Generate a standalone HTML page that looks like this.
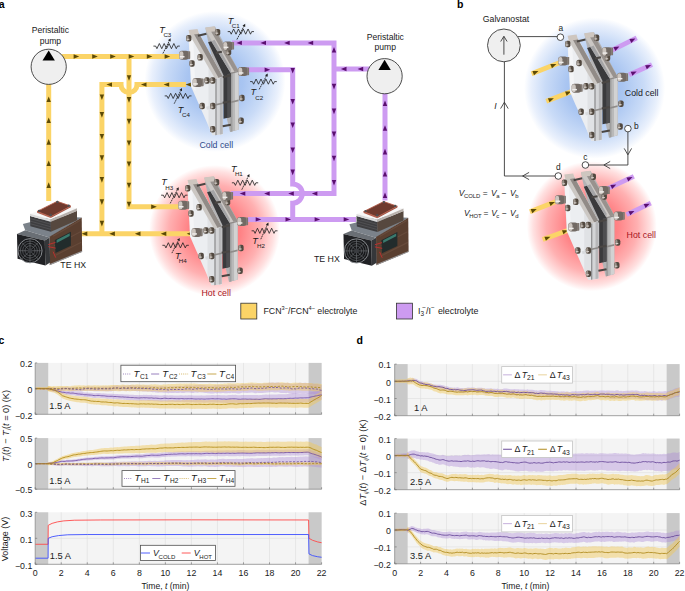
<!DOCTYPE html>
<html><head><meta charset="utf-8"><title>figure</title>
<style>
html,body{margin:0;padding:0;background:#fff;width:685px;height:591px;overflow:hidden}
svg{display:block;font-family:"Liberation Sans",sans-serif}
</style></head><body>
<svg width="685" height="591" viewBox="0 0 685 591">
<rect width="685" height="591" fill="#fff"/>

<defs>
<radialGradient id="gBlue" cx="0.5" cy="0.5" r="0.5">
 <stop offset="0" stop-color="#98b9ef"/>
 <stop offset="0.4" stop-color="#a9c5f1"/>
 <stop offset="0.7" stop-color="#c9dbf7"/>
 <stop offset="0.9" stop-color="#e9f0fc"/>
 <stop offset="1" stop-color="#ffffff"/>
</radialGradient>
<radialGradient id="gRed" cx="0.5" cy="0.5" r="0.5">
 <stop offset="0" stop-color="#ff6a6e"/>
 <stop offset="0.4" stop-color="#ff8386"/>
 <stop offset="0.7" stop-color="#ffb0b1"/>
 <stop offset="0.9" stop-color="#ffe0e0"/>
 <stop offset="1" stop-color="#ffffff"/>
</radialGradient>
</defs>

<text x="-1.2" y="7.9" font-size="10.5" font-weight="bold" fill="#000">a</text>
<circle cx="215" cy="81.5" r="70.5" fill="url(#gBlue)"/>
<circle cx="214.6" cy="230.6" r="65.5" fill="url(#gRed)"/>
<path d="M60 56.5H186" stroke="#fbd467" fill="none" stroke-width="5" stroke-linejoin="miter" stroke-linecap="butt"/>
<path d="M129 56.5V206.8H182" stroke="#fbd467" fill="none" stroke-width="5" stroke-linejoin="miter" stroke-linecap="butt"/>
<path d="M186 84.6H137A8 8 0 0 1 121 84.6H101.9V233.8" stroke="#fbd467" fill="none" stroke-width="5" stroke-linejoin="miter" stroke-linecap="butt"/>
<path d="M191 233.8H80" stroke="#fbd467" fill="none" stroke-width="5" stroke-linejoin="miter" stroke-linecap="butt"/>
<path d="M48.7 201V80" stroke="#fbd467" fill="none" stroke-width="5" stroke-linejoin="miter" stroke-linecap="butt"/>
<path d="M232 42.9H334V193.6H231" stroke="#cd9bf1" fill="none" stroke-width="5" stroke-linejoin="miter" stroke-linecap="butt"/>
<path d="M370 69H334" stroke="#cd9bf1" fill="none" stroke-width="5" stroke-linejoin="miter" stroke-linecap="butt"/>
<path d="M246 69.8H292.7V184A9.6 9.6 0 0 1 292.7 203.2V219.4" stroke="#cd9bf1" fill="none" stroke-width="5" stroke-linejoin="miter" stroke-linecap="butt"/>
<path d="M248 219.4H356" stroke="#cd9bf1" fill="none" stroke-width="5" stroke-linejoin="miter" stroke-linecap="butt"/>
<path d="M385 90V200.5" stroke="#cd9bf1" fill="none" stroke-width="5" stroke-linejoin="miter" stroke-linecap="butt"/>
<path d="M79.2 56.5L73.6 54.3L73.6 58.7Z" fill="#5c4a06"/>
<path d="M97.8 56.5L92.2 54.3L92.2 58.7Z" fill="#5c4a06"/>
<path d="M115.8 56.5L110.2 54.3L110.2 58.7Z" fill="#5c4a06"/>
<path d="M134.3 56.5L128.7 54.3L128.7 58.7Z" fill="#5c4a06"/>
<path d="M152.4 56.5L146.8 54.3L146.8 58.7Z" fill="#5c4a06"/>
<path d="M170.2 56.5L164.6 54.3L164.6 58.7Z" fill="#5c4a06"/>
<path d="M129 80.8L131.2 75.2L126.8 75.2Z" fill="#5c4a06"/>
<path d="M129 102.7L131.2 97.1L126.8 97.1Z" fill="#5c4a06"/>
<path d="M129 124.4L131.2 118.8L126.8 118.8Z" fill="#5c4a06"/>
<path d="M129 146.1L131.2 140.5L126.8 140.5Z" fill="#5c4a06"/>
<path d="M129 167L131.2 161.4L126.8 161.4Z" fill="#5c4a06"/>
<path d="M129 188.3L131.2 182.7L126.8 182.7Z" fill="#5c4a06"/>
<path d="M129 207.3L131.2 201.7L126.8 201.7Z" fill="#5c4a06"/>
<path d="M156.8 206.8L151.2 204.6L151.2 209Z" fill="#5c4a06"/>
<path d="M185.6 84.6L191.2 86.8L191.2 82.4Z" fill="#5c4a06"/>
<path d="M163.6 84.6L169.2 86.8L169.2 82.4Z" fill="#5c4a06"/>
<path d="M140.9 84.6L146.5 86.8L146.5 82.4Z" fill="#5c4a06"/>
<path d="M106.4 84.6L112 86.8L112 82.4Z" fill="#5c4a06"/>
<path d="M101.9 100.1L104.1 94.5L99.7 94.5Z" fill="#5c4a06"/>
<path d="M101.9 117.7L104.1 112.1L99.7 112.1Z" fill="#5c4a06"/>
<path d="M101.9 139.6L104.1 134L99.7 134Z" fill="#5c4a06"/>
<path d="M101.9 160.9L104.1 155.3L99.7 155.3Z" fill="#5c4a06"/>
<path d="M101.9 182.7L104.1 177.1L99.7 177.1Z" fill="#5c4a06"/>
<path d="M101.9 204.9L104.1 199.3L99.7 199.3Z" fill="#5c4a06"/>
<path d="M101.9 226.4L104.1 220.8L99.7 220.8Z" fill="#5c4a06"/>
<path d="M81.7 233.8L87.3 236L87.3 231.6Z" fill="#5c4a06"/>
<path d="M109.3 233.8L114.9 236L114.9 231.6Z" fill="#5c4a06"/>
<path d="M134.9 233.8L140.5 236L140.5 231.6Z" fill="#5c4a06"/>
<path d="M160.7 233.8L166.3 236L166.3 231.6Z" fill="#5c4a06"/>
<path d="M186.7 233.8L192.3 236L192.3 231.6Z" fill="#5c4a06"/>
<path d="M48.7 96.5L46.5 102.1L50.9 102.1Z" fill="#5c4a06"/>
<path d="M48.7 117.4L46.5 123L50.9 123Z" fill="#5c4a06"/>
<path d="M48.7 139.1L46.5 144.7L50.9 144.7Z" fill="#5c4a06"/>
<path d="M48.7 160.4L46.5 166L50.9 166Z" fill="#5c4a06"/>
<path d="M48.7 182.3L46.5 187.9L50.9 187.9Z" fill="#5c4a06"/>
<path d="M236.3 42.9L241.9 45.1L241.9 40.7Z" fill="#5b0f70"/>
<path d="M260.4 42.9L266 45.1L266 40.7Z" fill="#5b0f70"/>
<path d="M284.1 42.9L289.7 45.1L289.7 40.7Z" fill="#5b0f70"/>
<path d="M307.6 42.9L313.2 45.1L313.2 40.7Z" fill="#5b0f70"/>
<path d="M334 46.9L331.8 52.5L336.2 52.5Z" fill="#5b0f70"/>
<path d="M334 89.4L336.2 83.8L331.8 83.8Z" fill="#5b0f70"/>
<path d="M334 114.2L336.2 108.6L331.8 108.6Z" fill="#5b0f70"/>
<path d="M334 137.2L336.2 131.6L331.8 131.6Z" fill="#5b0f70"/>
<path d="M334 161.3L336.2 155.7L331.8 155.7Z" fill="#5b0f70"/>
<path d="M334 185.5L336.2 179.9L331.8 179.9Z" fill="#5b0f70"/>
<path d="M311.8 193.6L317.4 195.8L317.4 191.4Z" fill="#5b0f70"/>
<path d="M288.2 193.6L293.8 195.8L293.8 191.4Z" fill="#5b0f70"/>
<path d="M264.1 193.6L269.7 195.8L269.7 191.4Z" fill="#5b0f70"/>
<path d="M239.7 193.6L245.3 195.8L245.3 191.4Z" fill="#5b0f70"/>
<path d="M340.9 69L346.5 71.2L346.5 66.8Z" fill="#5b0f70"/>
<path d="M357.6 69L363.2 71.2L363.2 66.8Z" fill="#5b0f70"/>
<path d="M270.2 69.8L264.6 67.6L264.6 72Z" fill="#5b0f70"/>
<path d="M292.7 73.6L294.9 68L290.5 68Z" fill="#5b0f70"/>
<path d="M292.7 104.6L294.9 99L290.5 99Z" fill="#5b0f70"/>
<path d="M292.7 128.1L294.9 122.5L290.5 122.5Z" fill="#5b0f70"/>
<path d="M292.7 153L294.9 147.4L290.5 147.4Z" fill="#5b0f70"/>
<path d="M292.7 175.2L294.9 169.6L290.5 169.6Z" fill="#5b0f70"/>
<path d="M261.3 219.4L255.7 217.2L255.7 221.6Z" fill="#5b0f70"/>
<path d="M291.1 219.4L285.5 217.2L285.5 221.6Z" fill="#5b0f70"/>
<path d="M320.2 219.4L314.6 217.2L314.6 221.6Z" fill="#5b0f70"/>
<path d="M349.3 219.4L343.7 217.2L343.7 221.6Z" fill="#5b0f70"/>
<path d="M385 100.4L382.8 106L387.2 106Z" fill="#5b0f70"/>
<path d="M385 125.2L382.8 130.8L387.2 130.8Z" fill="#5b0f70"/>
<path d="M385 148.8L382.8 154.4L387.2 154.4Z" fill="#5b0f70"/>
<path d="M385 171L382.8 176.6L387.2 176.6Z" fill="#5b0f70"/>
<path d="M385 192.5L382.8 198.1L387.2 198.1Z" fill="#5b0f70"/>
<circle cx="48.7" cy="66.8" r="17.6" fill="#efefef" stroke="#3a3a3a" stroke-width="0.9"/><path d="M48.7 50.4L54.9 60.5L42.5 60.5Z" fill="#000"/>
<circle cx="384.6" cy="76.2" r="17.6" fill="#efefef" stroke="#3a3a3a" stroke-width="0.9"/><path d="M384.6 59.8L390.8 69.9L378.4 69.9Z" fill="#000"/>
<text x="50.4" y="33.2" font-size="8.6" text-anchor="middle" fill="#1a1a1a">Peristaltic</text>
<text x="50.4" y="43.6" font-size="8.6" text-anchor="middle" fill="#1a1a1a">pump</text>
<text x="385.3" y="39.8" font-size="8.6" text-anchor="middle" fill="#1a1a1a">Peristaltic</text>
<text x="385.3" y="50.2" font-size="8.6" text-anchor="middle" fill="#1a1a1a">pump</text>
<g transform="translate(14 196) scale(0.11844)"><path d="M75 236L330 170L572 182L300 350L95 290Z" fill="#7b828a"/><path d="M300 345L572 182L575 470L302 582Z" fill="#5a3f30"/><path d="M330 340L560 205M340 420L565 300M350 500L568 390" stroke="#6d5040" stroke-width="10" opacity="0.7"/><path d="M302 574L575 462L575 472L302 584Z" fill="#9a9a9c"/><path d="M135 168L310 218L312 302L138 256Z" fill="#3e3e40"/><path d="M137 190L311 238M137 212L311 260M137 234L312 282" stroke="#58585a" stroke-width="6"/><path d="M310 218L532 125L532 205L312 302Z" fill="#56483f"/><path d="M135 150L358 76L532 104L310 198Z" fill="#f7f7f7"/><path d="M135 150L310 198L310 218L135 168Z" fill="#dadada"/><path d="M310 198L532 104L532 126L310 218Z" fill="#b9b2ad"/><path d="M195 130L310 175L310 186L195 141Z" fill="#b4604d"/><path d="M310 175L480 85L480 96L310 186Z" fill="#9c4f3f"/><path d="M195 130L365 45L480 85L310 175Z" fill="#6f3a2e" stroke="#b8604c" stroke-width="7"/><circle cx="212" cy="126" r="10" fill="#4d5054"/><circle cx="366" cy="50" r="10" fill="#4d5054"/><circle cx="462" cy="82" r="10" fill="#4d5054"/><circle cx="310" cy="160" r="10" fill="#4d5054"/><path d="M25 320L95 290L300 350L260 375Z" fill="#6a6f75"/><path d="M260 375L300 350L305 562L265 587Z" fill="#35373a"/><path d="M25 320L260 375L265 587L30 530Z" fill="#202124"/><circle cx="135" cy="462" r="102" fill="#161719" stroke="#8e9195" stroke-width="8"/><circle cx="135" cy="462" r="82" fill="none" stroke="#6f7277" stroke-width="5"/><circle cx="135" cy="462" r="62" fill="none" stroke="#6f7277" stroke-width="5"/><circle cx="135" cy="462" r="42" fill="none" stroke="#6f7277" stroke-width="5"/><path d="M135 360V564M33 462H237M63 390L207 534M207 390L63 534" stroke="#74777b" stroke-width="5"/><circle cx="135" cy="462" r="20" fill="#3a3c40"/><path d="M345 372L480 302L480 420L350 482Z" fill="#222c2c"/><path d="M360 372L470 314L470 338L360 396Z" fill="#3a7a6e"/><path d="M290 410L350 392M290 428L352 440M330 470L352 520" stroke="#c03030" stroke-width="8" fill="none"/></g>
<g transform="translate(340.5 196.2) scale(0.11844)"><path d="M75 236L330 170L572 182L300 350L95 290Z" fill="#7b828a"/><path d="M300 345L572 182L575 470L302 582Z" fill="#5a3f30"/><path d="M330 340L560 205M340 420L565 300M350 500L568 390" stroke="#6d5040" stroke-width="10" opacity="0.7"/><path d="M302 574L575 462L575 472L302 584Z" fill="#9a9a9c"/><path d="M135 168L310 218L312 302L138 256Z" fill="#3e3e40"/><path d="M137 190L311 238M137 212L311 260M137 234L312 282" stroke="#58585a" stroke-width="6"/><path d="M310 218L532 125L532 205L312 302Z" fill="#56483f"/><path d="M135 150L358 76L532 104L310 198Z" fill="#f7f7f7"/><path d="M135 150L310 198L310 218L135 168Z" fill="#dadada"/><path d="M310 198L532 104L532 126L310 218Z" fill="#b9b2ad"/><path d="M195 130L310 175L310 186L195 141Z" fill="#b4604d"/><path d="M310 175L480 85L480 96L310 186Z" fill="#9c4f3f"/><path d="M195 130L365 45L480 85L310 175Z" fill="#6f3a2e" stroke="#b8604c" stroke-width="7"/><circle cx="212" cy="126" r="10" fill="#4d5054"/><circle cx="366" cy="50" r="10" fill="#4d5054"/><circle cx="462" cy="82" r="10" fill="#4d5054"/><circle cx="310" cy="160" r="10" fill="#4d5054"/><path d="M25 320L95 290L300 350L260 375Z" fill="#6a6f75"/><path d="M260 375L300 350L305 562L265 587Z" fill="#35373a"/><path d="M25 320L260 375L265 587L30 530Z" fill="#202124"/><circle cx="135" cy="462" r="102" fill="#161719" stroke="#8e9195" stroke-width="8"/><circle cx="135" cy="462" r="82" fill="none" stroke="#6f7277" stroke-width="5"/><circle cx="135" cy="462" r="62" fill="none" stroke="#6f7277" stroke-width="5"/><circle cx="135" cy="462" r="42" fill="none" stroke="#6f7277" stroke-width="5"/><path d="M135 360V564M33 462H237M63 390L207 534M207 390L63 534" stroke="#74777b" stroke-width="5"/><circle cx="135" cy="462" r="20" fill="#3a3c40"/><path d="M345 372L480 302L480 420L350 482Z" fill="#222c2c"/><path d="M360 372L470 314L470 338L360 396Z" fill="#3a7a6e"/><path d="M290 410L350 392M290 428L352 440M330 470L352 520" stroke="#c03030" stroke-width="8" fill="none"/></g>
<text x="60.3" y="267.6" font-size="8.8" fill="#1a1a1a">TE HX</text>
<text x="313.9" y="262.3" font-size="8.8" fill="#1a1a1a">TE HX</text>
<g transform="translate(176 22) scale(0.20305)"><path d="M145 28L192 22L308 240L308 530L266 542L150 60Z" fill="#b3b3b5"/><path d="M268 250L308 240L308 530L268 541Z" fill="#b9b9b9"/><path d="M290 245L308 240L308 530L291 535Z" fill="#d2d2d2"/><path d="M268 250L278 248L278 539L268 541Z" fill="#9e9e9e"/><path d="M150 48L195 42L308 240L268 250Z" fill="#cbc7c4"/><path d="M172 46L195 42L308 240L288 245Z" fill="#98928e"/><path d="M268 250L308 240L308 246L268 256Z" fill="#8f8b88"/><path d="M268 392L308 382L308 390L268 400Z" fill="#8f8c8a"/><path d="M158 100L174 95L270 252L270 468L234 476L234 262Z" fill="#3a3a3c"/><path d="M174 95L190 88L270 232L270 252Z" fill="#a4a4a6"/><path d="M252 256L270 252L270 468L252 472Z" fill="#4e4e50"/><path d="M62 56L110 48L230 268L230 554L180 558L74 318L62 80Z" fill="#eceef1"/><path d="M64 62L84 60L96 340L78 322L64 80Z" fill="#f4f5f7"/><path d="M160 220L194 282L194 556L180 558L160 510Z" fill="#e0e2e5"/><path d="M118 300L194 282L194 296L122 314Z" fill="#d9dbde"/><path d="M148 418L194 406L194 420L152 432Z" fill="#d9dbde"/><path d="M66 62L112 54L230 268L194 282Z" fill="#cbc7c3"/><path d="M88 59L112 54L230 268L210 276Z" fill="#918b87"/><path d="M194 282L230 268L230 552L194 558Z" fill="#d3d4d6"/><path d="M216 274L230 268L230 552L216 554Z" fill="#b7b7b9"/><path d="M194 282L200 280L200 557L194 558Z" fill="#8c8c8e"/><path d="M194 404L230 396L230 404L194 412Z" fill="#8e8b89"/><path d="M62 40L106 34L113 58L68 64Z" fill="#cec6bf"/><path d="M144 27L190 21L196 46L150 51Z" fill="#cec6bf"/><path d="M108 68L150 58" stroke="#4a4643" stroke-width="10"/><path d="M196 152L226 146" stroke="#4a4643" stroke-width="10"/><path d="M230 272L270 262" stroke="#4a4643" stroke-width="10"/><path d="M230 398L270 390" stroke="#4a4643" stroke-width="10"/><path d="M230 514L270 506" stroke="#4a4643" stroke-width="10"/><rect x="50" y="64" width="26" height="32" rx="9.6" fill="#51483f"/><rect x="51" y="66" width="10.92" height="28" rx="8" fill="#9b928a"/><rect x="53" y="82.56" width="13" height="5.12" fill="#d9d3ce"/><rect x="192" y="34" width="26" height="32" rx="9.6" fill="#51483f"/><rect x="193" y="36" width="10.92" height="28" rx="8" fill="#9b928a"/><rect x="195" y="52.56" width="13" height="5.12" fill="#d9d3ce"/><rect x="66" y="188" width="26" height="32" rx="9.6" fill="#51483f"/><rect x="67" y="190" width="10.92" height="28" rx="8" fill="#9b928a"/><rect x="69" y="206.56" width="13" height="5.12" fill="#d9d3ce"/><rect x="106" y="158" width="26" height="32" rx="9.6" fill="#51483f"/><rect x="107" y="160" width="10.92" height="28" rx="8" fill="#9b928a"/><rect x="109" y="176.56" width="13" height="5.12" fill="#d9d3ce"/><rect x="140" y="272" width="26" height="32" rx="9.6" fill="#51483f"/><rect x="141" y="274" width="10.92" height="28" rx="8" fill="#9b928a"/><rect x="143" y="290.56" width="13" height="5.12" fill="#d9d3ce"/><rect x="168" y="272" width="26" height="32" rx="9.6" fill="#51483f"/><rect x="169" y="274" width="10.92" height="28" rx="8" fill="#9b928a"/><rect x="171" y="290.56" width="13" height="5.12" fill="#d9d3ce"/><rect x="116" y="398" width="26" height="32" rx="9.6" fill="#51483f"/><rect x="117" y="400" width="10.92" height="28" rx="8" fill="#9b928a"/><rect x="119" y="416.56" width="13" height="5.12" fill="#d9d3ce"/><rect x="168" y="398" width="26" height="32" rx="9.6" fill="#51483f"/><rect x="169" y="400" width="10.92" height="28" rx="8" fill="#9b928a"/><rect x="171" y="416.56" width="13" height="5.12" fill="#d9d3ce"/><rect x="168" y="512" width="26" height="32" rx="9.6" fill="#51483f"/><rect x="169" y="514" width="10.92" height="28" rx="8" fill="#9b928a"/><rect x="171" y="530.56" width="13" height="5.12" fill="#d9d3ce"/><rect x="246" y="132" width="26" height="32" rx="9.6" fill="#51483f"/><rect x="247" y="134" width="10.92" height="28" rx="8" fill="#9b928a"/><rect x="249" y="150.56" width="13" height="5.12" fill="#d9d3ce"/><rect x="312" y="358" width="26" height="32" rx="9.6" fill="#51483f"/><rect x="313" y="360" width="10.92" height="28" rx="8" fill="#9b928a"/><rect x="315" y="376.56" width="13" height="5.12" fill="#d9d3ce"/><rect x="308" y="470" width="26" height="32" rx="9.6" fill="#51483f"/><rect x="309" y="472" width="10.92" height="28" rx="8" fill="#9b928a"/><rect x="311" y="488.56" width="13" height="5.12" fill="#d9d3ce"/><rect x="52" y="144" width="18" height="38" rx="3" fill="#7e756f"/><rect x="54.7" y="146" width="8.1" height="34" rx="3" fill="#a39a93"/><rect x="16" y="142" width="46" height="44" rx="13.2" fill="#726a64"/><rect x="17" y="144" width="19.32" height="40" rx="11" fill="#cdc6c0"/><rect x="19" y="167.52" width="23" height="7.04" fill="#f0eeec"/><rect x="118" y="278" width="18" height="38" rx="3" fill="#7e756f"/><rect x="120.7" y="280" width="8.1" height="34" rx="3" fill="#a39a93"/><rect x="82" y="276" width="46" height="44" rx="13.2" fill="#726a64"/><rect x="83" y="278" width="19.32" height="40" rx="11" fill="#cdc6c0"/><rect x="85" y="301.52" width="23" height="7.04" fill="#f0eeec"/><rect x="268" y="98" width="18" height="38" rx="3" fill="#7e756f"/><rect x="270.7" y="100" width="8.1" height="34" rx="3" fill="#a39a93"/><rect x="232" y="96" width="46" height="44" rx="13.2" fill="#726a64"/><rect x="233" y="98" width="19.32" height="40" rx="11" fill="#cdc6c0"/><rect x="235" y="121.52" width="23" height="7.04" fill="#f0eeec"/><rect x="342" y="224" width="18" height="38" rx="3" fill="#7e756f"/><rect x="344.7" y="226" width="8.1" height="34" rx="3" fill="#a39a93"/><rect x="306" y="222" width="46" height="44" rx="13.2" fill="#726a64"/><rect x="307" y="224" width="19.32" height="40" rx="11" fill="#cdc6c0"/><rect x="309" y="247.52" width="23" height="7.04" fill="#f0eeec"/></g>
<g transform="translate(175 172) scale(0.20305)"><path d="M145 28L192 22L308 240L308 530L266 542L150 60Z" fill="#b3b3b5"/><path d="M268 250L308 240L308 530L268 541Z" fill="#b9b9b9"/><path d="M290 245L308 240L308 530L291 535Z" fill="#d2d2d2"/><path d="M268 250L278 248L278 539L268 541Z" fill="#9e9e9e"/><path d="M150 48L195 42L308 240L268 250Z" fill="#cbc7c4"/><path d="M172 46L195 42L308 240L288 245Z" fill="#98928e"/><path d="M268 250L308 240L308 246L268 256Z" fill="#8f8b88"/><path d="M268 392L308 382L308 390L268 400Z" fill="#8f8c8a"/><path d="M158 100L174 95L270 252L270 468L234 476L234 262Z" fill="#3a3a3c"/><path d="M174 95L190 88L270 232L270 252Z" fill="#a4a4a6"/><path d="M252 256L270 252L270 468L252 472Z" fill="#4e4e50"/><path d="M62 56L110 48L230 268L230 554L180 558L74 318L62 80Z" fill="#eceef1"/><path d="M64 62L84 60L96 340L78 322L64 80Z" fill="#f4f5f7"/><path d="M160 220L194 282L194 556L180 558L160 510Z" fill="#e0e2e5"/><path d="M118 300L194 282L194 296L122 314Z" fill="#d9dbde"/><path d="M148 418L194 406L194 420L152 432Z" fill="#d9dbde"/><path d="M66 62L112 54L230 268L194 282Z" fill="#cbc7c3"/><path d="M88 59L112 54L230 268L210 276Z" fill="#918b87"/><path d="M194 282L230 268L230 552L194 558Z" fill="#d3d4d6"/><path d="M216 274L230 268L230 552L216 554Z" fill="#b7b7b9"/><path d="M194 282L200 280L200 557L194 558Z" fill="#8c8c8e"/><path d="M194 404L230 396L230 404L194 412Z" fill="#8e8b89"/><path d="M62 40L106 34L113 58L68 64Z" fill="#cec6bf"/><path d="M144 27L190 21L196 46L150 51Z" fill="#cec6bf"/><path d="M108 68L150 58" stroke="#4a4643" stroke-width="10"/><path d="M196 152L226 146" stroke="#4a4643" stroke-width="10"/><path d="M230 272L270 262" stroke="#4a4643" stroke-width="10"/><path d="M230 398L270 390" stroke="#4a4643" stroke-width="10"/><path d="M230 514L270 506" stroke="#4a4643" stroke-width="10"/><rect x="50" y="64" width="26" height="32" rx="9.6" fill="#51483f"/><rect x="51" y="66" width="10.92" height="28" rx="8" fill="#9b928a"/><rect x="53" y="82.56" width="13" height="5.12" fill="#d9d3ce"/><rect x="192" y="34" width="26" height="32" rx="9.6" fill="#51483f"/><rect x="193" y="36" width="10.92" height="28" rx="8" fill="#9b928a"/><rect x="195" y="52.56" width="13" height="5.12" fill="#d9d3ce"/><rect x="66" y="188" width="26" height="32" rx="9.6" fill="#51483f"/><rect x="67" y="190" width="10.92" height="28" rx="8" fill="#9b928a"/><rect x="69" y="206.56" width="13" height="5.12" fill="#d9d3ce"/><rect x="106" y="158" width="26" height="32" rx="9.6" fill="#51483f"/><rect x="107" y="160" width="10.92" height="28" rx="8" fill="#9b928a"/><rect x="109" y="176.56" width="13" height="5.12" fill="#d9d3ce"/><rect x="140" y="272" width="26" height="32" rx="9.6" fill="#51483f"/><rect x="141" y="274" width="10.92" height="28" rx="8" fill="#9b928a"/><rect x="143" y="290.56" width="13" height="5.12" fill="#d9d3ce"/><rect x="168" y="272" width="26" height="32" rx="9.6" fill="#51483f"/><rect x="169" y="274" width="10.92" height="28" rx="8" fill="#9b928a"/><rect x="171" y="290.56" width="13" height="5.12" fill="#d9d3ce"/><rect x="116" y="398" width="26" height="32" rx="9.6" fill="#51483f"/><rect x="117" y="400" width="10.92" height="28" rx="8" fill="#9b928a"/><rect x="119" y="416.56" width="13" height="5.12" fill="#d9d3ce"/><rect x="168" y="398" width="26" height="32" rx="9.6" fill="#51483f"/><rect x="169" y="400" width="10.92" height="28" rx="8" fill="#9b928a"/><rect x="171" y="416.56" width="13" height="5.12" fill="#d9d3ce"/><rect x="168" y="512" width="26" height="32" rx="9.6" fill="#51483f"/><rect x="169" y="514" width="10.92" height="28" rx="8" fill="#9b928a"/><rect x="171" y="530.56" width="13" height="5.12" fill="#d9d3ce"/><rect x="246" y="132" width="26" height="32" rx="9.6" fill="#51483f"/><rect x="247" y="134" width="10.92" height="28" rx="8" fill="#9b928a"/><rect x="249" y="150.56" width="13" height="5.12" fill="#d9d3ce"/><rect x="312" y="358" width="26" height="32" rx="9.6" fill="#51483f"/><rect x="313" y="360" width="10.92" height="28" rx="8" fill="#9b928a"/><rect x="315" y="376.56" width="13" height="5.12" fill="#d9d3ce"/><rect x="308" y="470" width="26" height="32" rx="9.6" fill="#51483f"/><rect x="309" y="472" width="10.92" height="28" rx="8" fill="#9b928a"/><rect x="311" y="488.56" width="13" height="5.12" fill="#d9d3ce"/><rect x="52" y="144" width="18" height="38" rx="3" fill="#7e756f"/><rect x="54.7" y="146" width="8.1" height="34" rx="3" fill="#a39a93"/><rect x="16" y="142" width="46" height="44" rx="13.2" fill="#726a64"/><rect x="17" y="144" width="19.32" height="40" rx="11" fill="#cdc6c0"/><rect x="19" y="167.52" width="23" height="7.04" fill="#f0eeec"/><rect x="118" y="278" width="18" height="38" rx="3" fill="#7e756f"/><rect x="120.7" y="280" width="8.1" height="34" rx="3" fill="#a39a93"/><rect x="82" y="276" width="46" height="44" rx="13.2" fill="#726a64"/><rect x="83" y="278" width="19.32" height="40" rx="11" fill="#cdc6c0"/><rect x="85" y="301.52" width="23" height="7.04" fill="#f0eeec"/><rect x="268" y="98" width="18" height="38" rx="3" fill="#7e756f"/><rect x="270.7" y="100" width="8.1" height="34" rx="3" fill="#a39a93"/><rect x="232" y="96" width="46" height="44" rx="13.2" fill="#726a64"/><rect x="233" y="98" width="19.32" height="40" rx="11" fill="#cdc6c0"/><rect x="235" y="121.52" width="23" height="7.04" fill="#f0eeec"/><rect x="342" y="224" width="18" height="38" rx="3" fill="#7e756f"/><rect x="344.7" y="226" width="8.1" height="34" rx="3" fill="#a39a93"/><rect x="306" y="222" width="46" height="44" rx="13.2" fill="#726a64"/><rect x="307" y="224" width="19.32" height="40" rx="11" fill="#cdc6c0"/><rect x="309" y="247.52" width="23" height="7.04" fill="#f0eeec"/></g>
<path d="M153.4 46.1L155.7 46.1L156.91 48.7L159.33 43.5L161.76 48.7L164.18 43.5L166.6 48.7L169.02 43.5L171.44 48.7L173.87 43.5L176.29 48.7L177.5 46.1L179.8 46.1" fill="none" stroke="#1e1e1e" stroke-width="0.8" stroke-linejoin="miter"/><path d="M162.9 53.5L169.29 40.89" stroke="#1e1e1e" stroke-width="0.85" stroke-dasharray="1.7 0.6"/><path d="M170.6 38.3L170.63 41.56L167.95 40.21Z" fill="#1e1e1e"/><text x="159.3" y="32.9" font-size="9.2" font-style="italic" fill="#1a1a1a">T</text><text x="163.4" y="36.8" font-size="6.2" fill="#1a1a1a">C3</text>
<path d="M227.7 31.6L230 31.6L231.21 34.2L233.62 29L236.03 34.2L238.44 29L240.85 34.2L243.26 29L245.67 34.2L248.08 29L250.49 34.2L251.7 31.6L254 31.6" fill="none" stroke="#1e1e1e" stroke-width="0.8" stroke-linejoin="miter"/><path d="M236.9 39.5L243.84 26.36" stroke="#1e1e1e" stroke-width="0.85" stroke-dasharray="1.7 0.6"/><path d="M245.2 23.8L245.17 27.06L242.52 25.66Z" fill="#1e1e1e"/><text x="227.7" y="23.8" font-size="9.2" font-style="italic" fill="#1a1a1a">T</text><text x="231.8" y="27.6" font-size="6.2" fill="#1a1a1a">C1</text>
<path d="M250.1 81.6L252.4 81.6L253.63 84.2L256.08 79L258.54 84.2L260.99 79L263.45 84.2L265.91 79L268.36 84.2L270.82 79L273.27 84.2L274.5 81.6L276.8 81.6" fill="none" stroke="#1e1e1e" stroke-width="0.8" stroke-linejoin="miter"/><path d="M259.2 89.4L266.34 75.96" stroke="#1e1e1e" stroke-width="0.85" stroke-dasharray="1.7 0.6"/><path d="M267.7 73.4L267.66 76.66L265.01 75.26Z" fill="#1e1e1e"/><text x="250.6" y="95.4" font-size="9.2" font-style="italic" fill="#1a1a1a">T</text><text x="255.2" y="100.2" font-size="6.2" fill="#1a1a1a">C2</text>
<path d="M164.7 95.9L167 95.9L168.23 98.5L170.7 93.3L173.17 98.5L175.63 93.3L178.1 98.5L180.57 93.3L183.03 98.5L185.5 93.3L187.97 98.5L189.2 95.9L191.5 95.9" fill="none" stroke="#1e1e1e" stroke-width="0.8" stroke-linejoin="miter"/><path d="M174.2 103.7L180.7 90.69" stroke="#1e1e1e" stroke-width="0.85" stroke-dasharray="1.7 0.6"/><path d="M182 88.1L182.04 91.36L179.36 90.02Z" fill="#1e1e1e"/><text x="177.7" y="112.5" font-size="9.2" font-style="italic" fill="#1a1a1a">T</text><text x="182" y="116.9" font-size="6.2" fill="#1a1a1a">C4</text>
<path d="M161.1 195.2L163.4 195.2L164.61 197.8L167.03 192.6L169.46 197.8L171.88 192.6L174.3 197.8L176.72 192.6L179.14 197.8L181.57 192.6L183.99 197.8L185.2 195.2L187.5 195.2" fill="none" stroke="#1e1e1e" stroke-width="0.8" stroke-linejoin="miter"/><path d="M170.2 203.4L177.35 189.77" stroke="#1e1e1e" stroke-width="0.85" stroke-dasharray="1.7 0.6"/><path d="M178.7 187.2L178.68 190.46L176.02 189.07Z" fill="#1e1e1e"/><text x="161.2" y="185.2" font-size="9.2" font-style="italic" fill="#1a1a1a">T</text><text x="165.2" y="189.6" font-size="6.2" fill="#1a1a1a">H3</text>
<path d="M162.4 245.3L164.7 245.3L165.91 247.9L168.33 242.7L170.76 247.9L173.18 242.7L175.6 247.9L178.02 242.7L180.44 247.9L182.87 242.7L185.29 247.9L186.5 245.3L188.8 245.3" fill="none" stroke="#1e1e1e" stroke-width="0.8" stroke-linejoin="miter"/><path d="M171.9 253.1L178.38 240.48" stroke="#1e1e1e" stroke-width="0.85" stroke-dasharray="1.7 0.6"/><path d="M179.7 237.9L179.71 241.16L177.04 239.8Z" fill="#1e1e1e"/><text x="175.1" y="258.5" font-size="9.2" font-style="italic" fill="#1a1a1a">T</text><text x="178.7" y="262.6" font-size="6.2" fill="#1a1a1a">H4</text>
<path d="M231.9 182.8L234.2 182.8L235.41 185.4L237.82 180.2L240.23 185.4L242.64 180.2L245.05 185.4L247.46 180.2L249.87 185.4L252.28 180.2L254.69 185.4L255.9 182.8L258.2 182.8" fill="none" stroke="#1e1e1e" stroke-width="0.8" stroke-linejoin="miter"/><path d="M241.8 189.7L248.14 176.61" stroke="#1e1e1e" stroke-width="0.85" stroke-dasharray="1.7 0.6"/><path d="M249.4 174L249.49 177.26L246.79 175.96Z" fill="#1e1e1e"/><text x="230.9" y="171.9" font-size="9.2" font-style="italic" fill="#1a1a1a">T</text><text x="234.9" y="176" font-size="6.2" fill="#1a1a1a">H1</text>
<path d="M251.6 230.8L253.9 230.8L255.08 233.4L257.45 228.2L259.82 233.4L262.18 228.2L264.55 233.4L266.92 228.2L269.28 233.4L271.65 228.2L274.02 233.4L275.2 230.8L277.5 230.8" fill="none" stroke="#1e1e1e" stroke-width="0.8" stroke-linejoin="miter"/><path d="M260.8 239.2L267.2 225.04" stroke="#1e1e1e" stroke-width="0.85" stroke-dasharray="1.7 0.6"/><path d="M268.4 222.4L268.57 225.66L265.84 224.42Z" fill="#1e1e1e"/><text x="252.2" y="243.8" font-size="9.2" font-style="italic" fill="#1a1a1a">T</text><text x="257" y="248" font-size="6.2" fill="#1a1a1a">H2</text>
<text x="199.4" y="148" font-size="8.8" fill="#2d4a8a">Cold cell</text>
<text x="201.5" y="296.3" font-size="8.8" fill="#a8141e">Hot cell</text>
<rect x="240.8" y="303.2" width="16" height="15.8" fill="#fbd467" stroke="#333" stroke-width="0.8"/>
<text x="263.5" y="313.8" font-size="8.8" fill="#1a1a1a">FCN<tspan font-size="5.6" dy="-3.6">3−</tspan><tspan dy="3.6">/FCN</tspan><tspan font-size="5.6" dy="-3.6">4−</tspan><tspan dy="3.6"> electrolyte</tspan></text>
<rect x="396.4" y="303.2" width="16" height="15.8" fill="#cd9bf1" stroke="#333" stroke-width="0.8"/>
<text x="418" y="313.8" font-size="8.9" fill="#1a1a1a">I<tspan font-size="6.4" dy="2.6">3</tspan><tspan font-size="6.4" dx="-1.8" dy="-6.2">−</tspan><tspan dy="3.6">/I</tspan><tspan font-size="6.4" dy="-3.6">−</tspan><tspan dy="3.6" dx="0.8"> electrolyte</tspan></text>
<text x="457.1" y="7.9" font-size="10.5" font-weight="bold" fill="#000">b</text>
<circle cx="594.6" cy="88.2" r="70.5" fill="url(#gBlue)"/>
<circle cx="591.8" cy="226.2" r="65" fill="url(#gRed)"/>
<path d="M531.6 73.8L560 62.6" stroke="#fbd467" stroke-width="4.8" fill="none"/><path d="M538.46 71.09L532.45 71.1L534.06 75.19Z" fill="#5c4a06"/><path d="M556.36 64.04L550.34 64.04L551.95 68.14Z" fill="#5c4a06"/>
<path d="M546.3 101.2L574 90.4" stroke="#fbd467" stroke-width="4.8" fill="none"/><path d="M553.89 98.24L547.88 98.22L549.48 102.32Z" fill="#5c4a06"/><path d="M571.07 91.54L565.05 91.53L566.65 95.63Z" fill="#5c4a06"/>
<path d="M611.3 50.6L636.7 37.9" stroke="#cd9bf1" stroke-width="4.8" fill="none"/><path d="M619.39 46.55L613.4 47.09L615.37 51.03Z" fill="#5b0f70"/><path d="M635.39 38.55L629.4 39.09L631.37 43.02Z" fill="#5b0f70"/>
<path d="M629.1 74.8L652 64.6" stroke="#cd9bf1" stroke-width="4.8" fill="none"/><path d="M636.7 71.42L630.69 71.69L632.48 75.7Z" fill="#5b0f70"/><path d="M651.12 64.99L645.11 65.26L646.9 69.28Z" fill="#5b0f70"/>
<path d="M529.9 211.7L558 200.8" stroke="#fbd467" stroke-width="4.8" fill="none"/><path d="M536.73 209.05L530.71 209.03L532.3 213.13Z" fill="#5c4a06"/><path d="M554.99 201.97L548.97 201.94L550.57 206.04Z" fill="#5c4a06"/>
<path d="M542.7 239.6L571 229.2" stroke="#fbd467" stroke-width="4.8" fill="none"/><path d="M550.42 236.76L544.41 236.63L545.92 240.76Z" fill="#5c4a06"/><path d="M567.97 230.31L561.95 230.18L563.47 234.31Z" fill="#5c4a06"/>
<path d="M608.1 188.4L633.8 176.4" stroke="#cd9bf1" stroke-width="4.8" fill="none"/><path d="M616.29 184.58L610.29 184.95L612.15 188.94Z" fill="#5b0f70"/><path d="M632.48 177.02L626.48 177.39L628.34 181.38Z" fill="#5b0f70"/>
<path d="M626.6 214.6L650.8 203.2" stroke="#cd9bf1" stroke-width="4.8" fill="none"/><path d="M634.46 210.9L628.45 211.3L630.33 215.28Z" fill="#5b0f70"/><path d="M649.7 203.72L643.7 204.11L645.57 208.09Z" fill="#5b0f70"/>
<g transform="translate(555 27.7) scale(0.20305)"><path d="M145 28L192 22L308 240L308 530L266 542L150 60Z" fill="#b3b3b5"/><path d="M268 250L308 240L308 530L268 541Z" fill="#b9b9b9"/><path d="M290 245L308 240L308 530L291 535Z" fill="#d2d2d2"/><path d="M268 250L278 248L278 539L268 541Z" fill="#9e9e9e"/><path d="M150 48L195 42L308 240L268 250Z" fill="#cbc7c4"/><path d="M172 46L195 42L308 240L288 245Z" fill="#98928e"/><path d="M268 250L308 240L308 246L268 256Z" fill="#8f8b88"/><path d="M268 392L308 382L308 390L268 400Z" fill="#8f8c8a"/><path d="M158 100L174 95L270 252L270 468L234 476L234 262Z" fill="#3a3a3c"/><path d="M174 95L190 88L270 232L270 252Z" fill="#a4a4a6"/><path d="M252 256L270 252L270 468L252 472Z" fill="#4e4e50"/><path d="M62 56L110 48L230 268L230 554L180 558L74 318L62 80Z" fill="#eceef1"/><path d="M64 62L84 60L96 340L78 322L64 80Z" fill="#f4f5f7"/><path d="M160 220L194 282L194 556L180 558L160 510Z" fill="#e0e2e5"/><path d="M118 300L194 282L194 296L122 314Z" fill="#d9dbde"/><path d="M148 418L194 406L194 420L152 432Z" fill="#d9dbde"/><path d="M66 62L112 54L230 268L194 282Z" fill="#cbc7c3"/><path d="M88 59L112 54L230 268L210 276Z" fill="#918b87"/><path d="M194 282L230 268L230 552L194 558Z" fill="#d3d4d6"/><path d="M216 274L230 268L230 552L216 554Z" fill="#b7b7b9"/><path d="M194 282L200 280L200 557L194 558Z" fill="#8c8c8e"/><path d="M194 404L230 396L230 404L194 412Z" fill="#8e8b89"/><path d="M62 40L106 34L113 58L68 64Z" fill="#cec6bf"/><path d="M144 27L190 21L196 46L150 51Z" fill="#cec6bf"/><path d="M108 68L150 58" stroke="#4a4643" stroke-width="10"/><path d="M196 152L226 146" stroke="#4a4643" stroke-width="10"/><path d="M230 272L270 262" stroke="#4a4643" stroke-width="10"/><path d="M230 398L270 390" stroke="#4a4643" stroke-width="10"/><path d="M230 514L270 506" stroke="#4a4643" stroke-width="10"/><rect x="50" y="64" width="26" height="32" rx="9.6" fill="#51483f"/><rect x="51" y="66" width="10.92" height="28" rx="8" fill="#9b928a"/><rect x="53" y="82.56" width="13" height="5.12" fill="#d9d3ce"/><rect x="192" y="34" width="26" height="32" rx="9.6" fill="#51483f"/><rect x="193" y="36" width="10.92" height="28" rx="8" fill="#9b928a"/><rect x="195" y="52.56" width="13" height="5.12" fill="#d9d3ce"/><rect x="66" y="188" width="26" height="32" rx="9.6" fill="#51483f"/><rect x="67" y="190" width="10.92" height="28" rx="8" fill="#9b928a"/><rect x="69" y="206.56" width="13" height="5.12" fill="#d9d3ce"/><rect x="106" y="158" width="26" height="32" rx="9.6" fill="#51483f"/><rect x="107" y="160" width="10.92" height="28" rx="8" fill="#9b928a"/><rect x="109" y="176.56" width="13" height="5.12" fill="#d9d3ce"/><rect x="140" y="272" width="26" height="32" rx="9.6" fill="#51483f"/><rect x="141" y="274" width="10.92" height="28" rx="8" fill="#9b928a"/><rect x="143" y="290.56" width="13" height="5.12" fill="#d9d3ce"/><rect x="168" y="272" width="26" height="32" rx="9.6" fill="#51483f"/><rect x="169" y="274" width="10.92" height="28" rx="8" fill="#9b928a"/><rect x="171" y="290.56" width="13" height="5.12" fill="#d9d3ce"/><rect x="116" y="398" width="26" height="32" rx="9.6" fill="#51483f"/><rect x="117" y="400" width="10.92" height="28" rx="8" fill="#9b928a"/><rect x="119" y="416.56" width="13" height="5.12" fill="#d9d3ce"/><rect x="168" y="398" width="26" height="32" rx="9.6" fill="#51483f"/><rect x="169" y="400" width="10.92" height="28" rx="8" fill="#9b928a"/><rect x="171" y="416.56" width="13" height="5.12" fill="#d9d3ce"/><rect x="168" y="512" width="26" height="32" rx="9.6" fill="#51483f"/><rect x="169" y="514" width="10.92" height="28" rx="8" fill="#9b928a"/><rect x="171" y="530.56" width="13" height="5.12" fill="#d9d3ce"/><rect x="246" y="132" width="26" height="32" rx="9.6" fill="#51483f"/><rect x="247" y="134" width="10.92" height="28" rx="8" fill="#9b928a"/><rect x="249" y="150.56" width="13" height="5.12" fill="#d9d3ce"/><rect x="312" y="358" width="26" height="32" rx="9.6" fill="#51483f"/><rect x="313" y="360" width="10.92" height="28" rx="8" fill="#9b928a"/><rect x="315" y="376.56" width="13" height="5.12" fill="#d9d3ce"/><rect x="308" y="470" width="26" height="32" rx="9.6" fill="#51483f"/><rect x="309" y="472" width="10.92" height="28" rx="8" fill="#9b928a"/><rect x="311" y="488.56" width="13" height="5.12" fill="#d9d3ce"/><rect x="52" y="144" width="18" height="38" rx="3" fill="#7e756f"/><rect x="54.7" y="146" width="8.1" height="34" rx="3" fill="#a39a93"/><rect x="16" y="142" width="46" height="44" rx="13.2" fill="#726a64"/><rect x="17" y="144" width="19.32" height="40" rx="11" fill="#cdc6c0"/><rect x="19" y="167.52" width="23" height="7.04" fill="#f0eeec"/><rect x="118" y="278" width="18" height="38" rx="3" fill="#7e756f"/><rect x="120.7" y="280" width="8.1" height="34" rx="3" fill="#a39a93"/><rect x="82" y="276" width="46" height="44" rx="13.2" fill="#726a64"/><rect x="83" y="278" width="19.32" height="40" rx="11" fill="#cdc6c0"/><rect x="85" y="301.52" width="23" height="7.04" fill="#f0eeec"/><rect x="268" y="98" width="18" height="38" rx="3" fill="#7e756f"/><rect x="270.7" y="100" width="8.1" height="34" rx="3" fill="#a39a93"/><rect x="232" y="96" width="46" height="44" rx="13.2" fill="#726a64"/><rect x="233" y="98" width="19.32" height="40" rx="11" fill="#cdc6c0"/><rect x="235" y="121.52" width="23" height="7.04" fill="#f0eeec"/><rect x="342" y="224" width="18" height="38" rx="3" fill="#7e756f"/><rect x="344.7" y="226" width="8.1" height="34" rx="3" fill="#a39a93"/><rect x="306" y="222" width="46" height="44" rx="13.2" fill="#726a64"/><rect x="307" y="224" width="19.32" height="40" rx="11" fill="#cdc6c0"/><rect x="309" y="247.52" width="23" height="7.04" fill="#f0eeec"/></g>
<g transform="translate(551.7 166.5) scale(0.20305)"><path d="M145 28L192 22L308 240L308 530L266 542L150 60Z" fill="#b3b3b5"/><path d="M268 250L308 240L308 530L268 541Z" fill="#b9b9b9"/><path d="M290 245L308 240L308 530L291 535Z" fill="#d2d2d2"/><path d="M268 250L278 248L278 539L268 541Z" fill="#9e9e9e"/><path d="M150 48L195 42L308 240L268 250Z" fill="#cbc7c4"/><path d="M172 46L195 42L308 240L288 245Z" fill="#98928e"/><path d="M268 250L308 240L308 246L268 256Z" fill="#8f8b88"/><path d="M268 392L308 382L308 390L268 400Z" fill="#8f8c8a"/><path d="M158 100L174 95L270 252L270 468L234 476L234 262Z" fill="#3a3a3c"/><path d="M174 95L190 88L270 232L270 252Z" fill="#a4a4a6"/><path d="M252 256L270 252L270 468L252 472Z" fill="#4e4e50"/><path d="M62 56L110 48L230 268L230 554L180 558L74 318L62 80Z" fill="#eceef1"/><path d="M64 62L84 60L96 340L78 322L64 80Z" fill="#f4f5f7"/><path d="M160 220L194 282L194 556L180 558L160 510Z" fill="#e0e2e5"/><path d="M118 300L194 282L194 296L122 314Z" fill="#d9dbde"/><path d="M148 418L194 406L194 420L152 432Z" fill="#d9dbde"/><path d="M66 62L112 54L230 268L194 282Z" fill="#cbc7c3"/><path d="M88 59L112 54L230 268L210 276Z" fill="#918b87"/><path d="M194 282L230 268L230 552L194 558Z" fill="#d3d4d6"/><path d="M216 274L230 268L230 552L216 554Z" fill="#b7b7b9"/><path d="M194 282L200 280L200 557L194 558Z" fill="#8c8c8e"/><path d="M194 404L230 396L230 404L194 412Z" fill="#8e8b89"/><path d="M62 40L106 34L113 58L68 64Z" fill="#cec6bf"/><path d="M144 27L190 21L196 46L150 51Z" fill="#cec6bf"/><path d="M108 68L150 58" stroke="#4a4643" stroke-width="10"/><path d="M196 152L226 146" stroke="#4a4643" stroke-width="10"/><path d="M230 272L270 262" stroke="#4a4643" stroke-width="10"/><path d="M230 398L270 390" stroke="#4a4643" stroke-width="10"/><path d="M230 514L270 506" stroke="#4a4643" stroke-width="10"/><rect x="50" y="64" width="26" height="32" rx="9.6" fill="#51483f"/><rect x="51" y="66" width="10.92" height="28" rx="8" fill="#9b928a"/><rect x="53" y="82.56" width="13" height="5.12" fill="#d9d3ce"/><rect x="192" y="34" width="26" height="32" rx="9.6" fill="#51483f"/><rect x="193" y="36" width="10.92" height="28" rx="8" fill="#9b928a"/><rect x="195" y="52.56" width="13" height="5.12" fill="#d9d3ce"/><rect x="66" y="188" width="26" height="32" rx="9.6" fill="#51483f"/><rect x="67" y="190" width="10.92" height="28" rx="8" fill="#9b928a"/><rect x="69" y="206.56" width="13" height="5.12" fill="#d9d3ce"/><rect x="106" y="158" width="26" height="32" rx="9.6" fill="#51483f"/><rect x="107" y="160" width="10.92" height="28" rx="8" fill="#9b928a"/><rect x="109" y="176.56" width="13" height="5.12" fill="#d9d3ce"/><rect x="140" y="272" width="26" height="32" rx="9.6" fill="#51483f"/><rect x="141" y="274" width="10.92" height="28" rx="8" fill="#9b928a"/><rect x="143" y="290.56" width="13" height="5.12" fill="#d9d3ce"/><rect x="168" y="272" width="26" height="32" rx="9.6" fill="#51483f"/><rect x="169" y="274" width="10.92" height="28" rx="8" fill="#9b928a"/><rect x="171" y="290.56" width="13" height="5.12" fill="#d9d3ce"/><rect x="116" y="398" width="26" height="32" rx="9.6" fill="#51483f"/><rect x="117" y="400" width="10.92" height="28" rx="8" fill="#9b928a"/><rect x="119" y="416.56" width="13" height="5.12" fill="#d9d3ce"/><rect x="168" y="398" width="26" height="32" rx="9.6" fill="#51483f"/><rect x="169" y="400" width="10.92" height="28" rx="8" fill="#9b928a"/><rect x="171" y="416.56" width="13" height="5.12" fill="#d9d3ce"/><rect x="168" y="512" width="26" height="32" rx="9.6" fill="#51483f"/><rect x="169" y="514" width="10.92" height="28" rx="8" fill="#9b928a"/><rect x="171" y="530.56" width="13" height="5.12" fill="#d9d3ce"/><rect x="246" y="132" width="26" height="32" rx="9.6" fill="#51483f"/><rect x="247" y="134" width="10.92" height="28" rx="8" fill="#9b928a"/><rect x="249" y="150.56" width="13" height="5.12" fill="#d9d3ce"/><rect x="312" y="358" width="26" height="32" rx="9.6" fill="#51483f"/><rect x="313" y="360" width="10.92" height="28" rx="8" fill="#9b928a"/><rect x="315" y="376.56" width="13" height="5.12" fill="#d9d3ce"/><rect x="308" y="470" width="26" height="32" rx="9.6" fill="#51483f"/><rect x="309" y="472" width="10.92" height="28" rx="8" fill="#9b928a"/><rect x="311" y="488.56" width="13" height="5.12" fill="#d9d3ce"/><rect x="52" y="144" width="18" height="38" rx="3" fill="#7e756f"/><rect x="54.7" y="146" width="8.1" height="34" rx="3" fill="#a39a93"/><rect x="16" y="142" width="46" height="44" rx="13.2" fill="#726a64"/><rect x="17" y="144" width="19.32" height="40" rx="11" fill="#cdc6c0"/><rect x="19" y="167.52" width="23" height="7.04" fill="#f0eeec"/><rect x="118" y="278" width="18" height="38" rx="3" fill="#7e756f"/><rect x="120.7" y="280" width="8.1" height="34" rx="3" fill="#a39a93"/><rect x="82" y="276" width="46" height="44" rx="13.2" fill="#726a64"/><rect x="83" y="278" width="19.32" height="40" rx="11" fill="#cdc6c0"/><rect x="85" y="301.52" width="23" height="7.04" fill="#f0eeec"/><rect x="268" y="98" width="18" height="38" rx="3" fill="#7e756f"/><rect x="270.7" y="100" width="8.1" height="34" rx="3" fill="#a39a93"/><rect x="232" y="96" width="46" height="44" rx="13.2" fill="#726a64"/><rect x="233" y="98" width="19.32" height="40" rx="11" fill="#cdc6c0"/><rect x="235" y="121.52" width="23" height="7.04" fill="#f0eeec"/><rect x="342" y="224" width="18" height="38" rx="3" fill="#7e756f"/><rect x="344.7" y="226" width="8.1" height="34" rx="3" fill="#a39a93"/><rect x="306" y="222" width="46" height="44" rx="13.2" fill="#726a64"/><rect x="307" y="224" width="19.32" height="40" rx="11" fill="#cdc6c0"/><rect x="309" y="247.52" width="23" height="7.04" fill="#f0eeec"/></g>
<path d="M504.4 61.8V176H555" stroke="#3a3a3a" stroke-width="0.9" fill="none"/>
<path d="M517.8 36.6H557" stroke="#3a3a3a" stroke-width="0.9" fill="none"/>
<path d="M627.9 132V165H588.8" stroke="#3a3a3a" stroke-width="0.9" fill="none"/>
<circle cx="503.9" cy="45.4" r="16.4" fill="#efefef" stroke="#3a3a3a" stroke-width="0.9"/>
<path d="M503.9 54.7V36.5M500.7 41.5L503.9 36.3L507.1 41.5" stroke="#3a3a3a" stroke-width="0.9" fill="none"/>
<path d="M500.6 108.6L504.4 102.2L508.2 108.6" stroke="#3a3a3a" stroke-width="0.9" fill="none"/>
<path d="M624.2 148.4L627.9 154.8L631.6 148.4" stroke="#3a3a3a" stroke-width="0.9" fill="none"/>
<path d="M610.2 161.4L603.9 165L610.2 168.6" stroke="#3a3a3a" stroke-width="0.9" fill="none"/>
<path d="M529.1 172.4L522.6 176L529.1 179.6" stroke="#3a3a3a" stroke-width="0.9" fill="none"/>
<circle cx="560.4" cy="37.2" r="3.3" fill="#fff" stroke="#3a3a3a" stroke-width="0.9"/>
<circle cx="627.9" cy="128.6" r="3.3" fill="#fff" stroke="#3a3a3a" stroke-width="0.9"/>
<circle cx="585.4" cy="165" r="3.3" fill="#fff" stroke="#3a3a3a" stroke-width="0.9"/>
<circle cx="558.3" cy="176" r="3.3" fill="#fff" stroke="#3a3a3a" stroke-width="0.9"/>
<text x="560.9" y="31" font-size="8.4" text-anchor="middle" fill="#1a1a1a">a</text>
<text x="634" y="129.4" font-size="8.4" fill="#1a1a1a">b</text>
<text x="585.4" y="159.6" font-size="8.4" text-anchor="middle" fill="#1a1a1a">c</text>
<text x="558.3" y="170" font-size="8.4" text-anchor="middle" fill="#1a1a1a">d</text>
<text x="494.2" y="108.9" font-size="8.6" font-style="italic" fill="#1a1a1a">I</text>
<text x="506" y="21.8" font-size="8.7" text-anchor="middle" fill="#1a1a1a">Galvanostat</text>
<text x="624.8" y="95.6" font-size="8.8" fill="#1a1a1a">Cold cell</text>
<text x="626.6" y="237.6" font-size="8.8" fill="#a8141e">Hot cell</text>
<g font-size="8.4" fill="#1a1a1a"><text x="458.8" y="196" font-style="italic">V</text><text x="464" y="198.4" font-size="5.9">COLD</text><text x="482.8" y="196">=</text><text x="491" y="196" font-style="italic">V</text><text x="496.2" y="198.4" font-size="5.9">a</text><text x="501.8" y="196">−</text><text x="510" y="196" font-style="italic">V</text><text x="515.3" y="198.4" font-size="5.9">b</text></g>
<g font-size="8.4" fill="#1a1a1a"><text x="464" y="215.7" font-style="italic">V</text><text x="469.2" y="218.1" font-size="5.9">HOT</text><text x="483.4" y="215.7">=</text><text x="491.2" y="215.7" font-style="italic">V</text><text x="496.2" y="218.1" font-size="5.9">c</text><text x="502" y="215.7">−</text><text x="510" y="215.7" font-style="italic">V</text><text x="515.3" y="218.1" font-size="5.9">d</text></g>
<text x="-1.4" y="344.3" font-size="10.5" font-weight="bold" fill="#000">c</text>
<rect x="35.2" y="362.9" width="286.4" height="51.4" fill="#f4f4f4"/><path d="M61.24 362.9V414.3" stroke="#dedede" stroke-width="0.6"/><path d="M87.27 362.9V414.3" stroke="#dedede" stroke-width="0.6"/><path d="M113.31 362.9V414.3" stroke="#dedede" stroke-width="0.6"/><path d="M139.35 362.9V414.3" stroke="#dedede" stroke-width="0.6"/><path d="M165.38 362.9V414.3" stroke="#dedede" stroke-width="0.6"/><path d="M191.42 362.9V414.3" stroke="#dedede" stroke-width="0.6"/><path d="M217.45 362.9V414.3" stroke="#dedede" stroke-width="0.6"/><path d="M243.49 362.9V414.3" stroke="#dedede" stroke-width="0.6"/><path d="M269.53 362.9V414.3" stroke="#dedede" stroke-width="0.6"/><path d="M295.56 362.9V414.3" stroke="#dedede" stroke-width="0.6"/><path d="M35.2 388.6H321.6" stroke="#dedede" stroke-width="0.6"/><rect x="35.2" y="362.9" width="13.02" height="51.4" fill="#c9c9c9"/><rect x="308.58" y="362.9" width="13.02" height="51.4" fill="#c9c9c9"/>
<path d="M35.2 387.88L36.51 387.83L37.82 387.79L39.12 387.72L40.43 387.82L41.74 387.88L43.05 387.95L44.35 387.98L45.66 387.89L46.97 387.96L48.28 387.37L49.59 387.54L50.89 387.62L52.2 387.58L53.51 387.25L54.82 387.18L56.12 387.6L57.43 387.72L58.74 387.92L60.05 387.51L61.36 387.27L62.66 387.09L63.97 386.96L65.28 386.92L66.59 386.75L67.89 386.75L69.2 387.17L70.51 387.03L71.82 387.22L73.13 387.16L74.43 387.26L75.74 387.35L77.05 387.46L78.36 387.46L79.66 387.54L80.97 387.74L82.28 387.32L83.59 387.01L84.89 386.61L86.2 386.52L87.51 386.55L88.82 386.4L90.13 386.74L91.43 386.56L92.74 386.59L94.05 386.8L95.36 386.91L96.66 386.74L97.97 386.8L99.28 386.67L100.59 386.44L101.9 386.41L103.2 386.57L104.51 386.4L105.82 386.45L107.13 386.47L108.43 386.5L109.74 386.37L111.05 386.49L112.36 386.11L113.67 385.59L114.97 385.69L116.28 385.5L117.59 385.2L118.9 385.67L120.2 385.94L121.51 385.63L122.82 385.38L124.13 385.35L125.44 385.69L126.74 385.76L128.05 385.46L129.36 385.22L130.67 385.11L131.97 385.49L133.28 385.27L134.59 385.48L135.9 385.38L137.21 385.75L138.51 385.39L139.82 385.4L141.13 385.32L142.44 385.65L143.74 385.59L145.05 385.58L146.36 385.56L147.67 385.73L148.98 385.57L150.28 385.75L151.59 385.93L152.9 386.16L154.21 385.94L155.51 386.21L156.82 386.33L158.13 386.54L159.44 386.26L160.75 386.12L162.05 386.02L163.36 386.34L164.67 386.27L165.98 386.28L167.28 386.47L168.59 386.66L169.9 386.04L171.21 386.24L172.52 386.25L173.82 386.27L175.13 386.03L176.44 386.24L177.75 386.09L179.05 386.05L180.36 385.66L181.67 385.99L182.98 385.98L184.28 385.85L185.59 385.37L186.9 385.36L188.21 385.38L189.52 385.23L190.82 385.4L192.13 385.73L193.44 385.61L194.75 385.2L196.05 385.01L197.36 385.24L198.67 385.07L199.98 384.81L201.29 385.07L202.59 385L203.9 385.12L205.21 385.29L206.52 385.38L207.82 385.51L209.13 385.48L210.44 385.69L211.75 385.57L213.06 385.71L214.36 385.29L215.67 385.1L216.98 385.4L218.29 385.02L219.59 385.16L220.9 385.04L222.21 384.87L223.52 384.91L224.83 384.96L226.13 384.88L227.44 385.03L228.75 384.58L230.06 384.8L231.36 384.41L232.67 384.58L233.98 384.62L235.29 384.58L236.6 384.81L237.9 384.9L239.21 384.77L240.52 384.61L241.83 384.14L243.13 383.68L244.44 384.06L245.75 383.96L247.06 384.18L248.37 383.82L249.67 383.9L250.98 383.52L252.29 383.48L253.6 383.77L254.9 384.07L256.21 384.09L257.52 383.62L258.83 383.81L260.14 383.69L261.44 383.67L262.75 383.66L264.06 383.29L265.37 383.46L266.67 383.18L267.98 383.01L269.29 382.65L270.6 382.74L271.91 382.51L273.21 382.7L274.52 382.75L275.83 382.75L277.14 382.58L278.44 382.41L279.75 382.89L281.06 383.24L282.37 383.19L283.67 382.94L284.98 382.97L286.29 383.18L287.6 382.82L288.91 383.07L290.21 383.42L291.52 383.71L292.83 383.95L294.14 383.59L295.44 383.8L296.75 383.51L298.06 383.18L299.37 382.84L300.68 382.74L301.98 382.96L303.29 382.99L304.6 382.85L305.91 382.84L307.21 383.17L308.52 383.06L309.83 383.56L311.14 383.81L312.45 383.49L313.75 383.69L315.06 384.01L316.37 383.89L317.68 384.08L318.98 384.59L320.29 384.98L321.6 385.12L321.6 395.4L320.29 395.26L318.98 394.87L317.68 394.36L316.37 394.17L315.06 394.29L313.75 393.97L312.45 393.77L311.14 394.09L309.83 393.84L308.52 393.34L307.21 393.45L305.91 393.12L304.6 393.13L303.29 393.27L301.98 393.24L300.68 393.02L299.37 393.12L298.06 393.46L296.75 393.79L295.44 394.08L294.14 393.83L292.83 394.15L291.52 393.87L290.21 393.54L288.91 393.16L287.6 392.87L286.29 393.19L284.98 392.94L283.67 392.88L282.37 393.09L281.06 393.09L279.75 392.71L278.44 392.2L277.14 392.33L275.83 392.46L274.52 392.42L273.21 392.33L271.91 392.1L270.6 392.3L269.29 392.17L267.98 392.48L266.67 392.62L265.37 392.86L264.06 392.66L262.75 392.99L261.44 392.96L260.14 392.94L258.83 393.02L257.52 392.8L256.21 393.23L254.9 393.17L253.6 392.83L252.29 392.5L250.98 392.5L249.67 392.85L248.37 392.72L247.06 393.05L245.75 392.79L244.44 392.86L243.13 392.44L241.83 392.85L240.52 393.29L239.21 393.41L237.9 393.5L236.6 393.37L235.29 393.11L233.98 393.11L232.67 393.03L231.36 392.83L230.06 393.18L228.75 392.91L227.44 393.33L226.13 393.14L224.83 393.19L223.52 393.1L222.21 393.02L220.9 393.15L219.59 393.23L218.29 393.05L216.98 393.4L215.67 393.05L214.36 393.21L213.06 393.59L211.75 393.41L210.44 393.5L209.13 393.24L207.82 393.23L206.52 393.07L205.21 392.94L203.9 392.74L202.59 392.58L201.29 392.61L199.98 392.31L198.67 392.53L197.36 392.66L196.05 392.4L194.75 392.54L193.44 392.92L192.13 393L190.82 392.64L189.52 392.43L188.21 392.53L186.9 392.48L185.59 392.45L184.28 392.89L182.98 392.99L181.67 392.96L180.36 392.58L179.05 392.94L177.75 392.94L176.44 393.06L175.13 392.8L173.82 393.01L172.52 392.95L171.21 392.9L169.9 392.66L168.59 393.25L167.28 393.01L165.98 392.79L164.67 392.75L163.36 392.78L162.05 392.42L160.75 392.48L159.44 392.58L158.13 392.82L156.82 392.57L155.51 392.42L154.21 392.1L152.9 392.29L151.59 392.02L150.28 391.81L148.98 391.59L147.67 391.71L146.36 391.5L145.05 391.48L143.74 391.46L142.44 391.48L141.13 391.11L139.82 391.15L138.51 391.1L137.21 391.42L135.9 391.02L134.59 391.08L133.28 390.83L131.97 391.01L130.67 390.59L129.36 390.67L128.05 390.86L126.74 391.13L125.44 391.02L124.13 390.64L122.82 390.64L121.51 390.85L120.2 391.12L118.9 390.81L117.59 390.31L116.28 390.57L114.97 390.71L113.67 390.58L112.36 391.06L111.05 391.4L109.74 391.25L108.43 391.34L107.13 391.27L105.82 391.21L104.51 391.12L103.2 391.26L101.9 391.05L100.59 391.04L99.28 391.24L97.97 391.33L96.66 391.23L95.36 391.37L94.05 391.21L92.74 390.97L91.43 390.9L90.13 391.04L88.82 390.66L87.51 390.77L86.2 390.71L84.89 390.76L83.59 391.12L82.28 391.4L80.97 391.77L79.66 391.54L78.36 391.43L77.05 391.38L75.74 391.24L74.43 391.11L73.13 390.97L71.82 390.99L70.51 390.77L69.2 390.86L67.89 390.4L66.59 390.37L65.28 390.5L63.97 390.5L62.66 390.6L61.36 390.73L60.05 390.94L58.74 391.31L57.43 391.07L56.12 390.91L54.82 390.46L53.51 390.49L52.2 390.78L50.89 390.78L49.59 390.67L48.28 390.45L46.97 389.5L45.66 389.43L44.35 389.53L43.05 389.49L41.74 389.42L40.43 389.36L39.12 389.26L37.82 389.33L36.51 389.37L35.2 389.43Z" fill="#af8cd7" opacity="0.42"/>
<path d="M35.2 387.7L36.51 387.68L37.82 387.67L39.12 387.72L40.43 387.77L41.74 387.77L43.05 387.78L44.35 387.72L45.66 387.69L46.97 387.68L48.28 386.75L49.59 387.02L50.89 387.5L52.2 387.82L53.51 388.25L54.82 388.36L56.12 388.85L57.43 389L58.74 389.48L60.05 389.68L61.36 390.05L62.66 390.36L63.97 390.31L65.28 390.63L66.59 390.88L67.89 390.76L69.2 390.86L70.51 391.13L71.82 391.01L73.13 390.97L74.43 391.29L75.74 391.44L77.05 391.69L78.36 391.84L79.66 391.86L80.97 392.08L82.28 392.07L83.59 392.34L84.89 392.53L86.2 392.45L87.51 392.58L88.82 392.7L90.13 392.75L91.43 392.86L92.74 393.01L94.05 393.29L95.36 393.26L96.66 393.12L97.97 393.02L99.28 393.07L100.59 393.24L101.9 393.38L103.2 393.37L104.51 393.38L105.82 393.62L107.13 393.77L108.43 393.84L109.74 393.85L111.05 393.75L112.36 393.81L113.67 394.05L114.97 393.94L116.28 394.01L117.59 394.05L118.9 394.21L120.2 394.26L121.51 394.32L122.82 394.24L124.13 394.44L125.44 394.44L126.74 394.59L128.05 394.52L129.36 394.73L130.67 394.81L131.97 394.85L133.28 394.79L134.59 394.98L135.9 394.97L137.21 395.08L138.51 395.14L139.82 395.12L141.13 394.9L142.44 394.93L143.74 394.78L145.05 394.97L146.36 394.82L147.67 394.94L148.98 395.09L150.28 395L151.59 394.87L152.9 395.13L154.21 395.23L155.51 395.11L156.82 395.2L158.13 395.3L159.44 395.48L160.75 395.6L162.05 395.47L163.36 395.24L164.67 395.07L165.98 395.14L167.28 395.37L168.59 395.44L169.9 395.32L171.21 395.22L172.52 395.22L173.82 395.38L175.13 395.39L176.44 395.43L177.75 395.4L179.05 395.51L180.36 395.33L181.67 395.21L182.98 395.4L184.28 395.49L185.59 395.34L186.9 395.45L188.21 395.28L189.52 395.31L190.82 395.27L192.13 395.23L193.44 395.39L194.75 395.49L196.05 395.57L197.36 395.46L198.67 395.38L199.98 395.53L201.29 395.36L202.59 395.4L203.9 395.51L205.21 395.51L206.52 395.3L207.82 395.31L209.13 395.28L210.44 395.15L211.75 395.04L213.06 395.03L214.36 395.15L215.67 395.18L216.98 395.08L218.29 395.04L219.59 395.08L220.9 395.2L222.21 395.28L223.52 395.19L224.83 395.19L226.13 395.39L227.44 395.27L228.75 395.11L230.06 395.02L231.36 394.91L232.67 394.82L233.98 394.89L235.29 394.85L236.6 394.97L237.9 395.16L239.21 395.21L240.52 395.25L241.83 395.04L243.13 394.97L244.44 394.98L245.75 394.94L247.06 395.11L248.37 395.07L249.67 394.97L250.98 395.01L252.29 395.1L253.6 395.1L254.9 395.12L256.21 395L257.52 395.09L258.83 395.16L260.14 395.11L261.44 394.92L262.75 394.74L264.06 394.63L265.37 394.43L266.67 394.48L267.98 394.64L269.29 394.58L270.6 394.53L271.91 394.59L273.21 394.43L274.52 394.42L275.83 394.45L277.14 394.42L278.44 394.15L279.75 394.3L281.06 394.26L282.37 394.25L283.67 394.26L284.98 394.17L286.29 394.17L287.6 393.89L288.91 393.83L290.21 393.69L291.52 393.79L292.83 393.73L294.14 393.62L295.44 393.44L296.75 393.53L298.06 393.51L299.37 393.33L300.68 393.2L301.98 393.33L303.29 393.3L304.6 393.18L305.91 393.22L307.21 393.14L308.52 393.08L309.83 392.62L311.14 392.35L312.45 392.02L313.75 391.82L315.06 391.44L316.37 391.23L317.68 390.93L318.98 390.67L320.29 390.42L321.6 390.22L321.6 399.47L320.29 399.67L318.98 399.92L317.68 400.18L316.37 400.48L315.06 400.69L313.75 401.07L312.45 401.27L311.14 401.6L309.83 401.87L308.52 402.33L307.21 402.39L305.91 402.48L304.6 402.43L303.29 402.55L301.98 402.58L300.68 402.46L299.37 402.59L298.06 402.76L296.75 402.78L295.44 402.69L294.14 402.84L292.83 402.92L291.52 402.95L290.21 402.82L288.91 402.93L287.6 402.96L286.29 403.21L284.98 403.18L283.67 403.24L282.37 403.2L281.06 403.18L279.75 403.19L278.44 403.01L277.14 403.25L275.83 403.25L274.52 403.19L273.21 403.17L271.91 403.3L270.6 403.21L269.29 403.23L267.98 403.27L266.67 403.08L265.37 402.99L264.06 403.16L262.75 403.24L261.44 403.39L260.14 403.55L258.83 403.57L257.52 403.47L256.21 403.35L254.9 403.45L253.6 403.39L252.29 403.36L250.98 403.25L249.67 403.18L248.37 403.24L247.06 403.25L245.75 403.06L244.44 403.06L243.13 403.03L241.83 403.06L240.52 403.24L239.21 403.17L237.9 403.1L236.6 402.87L235.29 402.72L233.98 402.74L232.67 402.64L231.36 402.7L230.06 402.77L228.75 402.83L227.44 402.97L226.13 403.06L224.83 402.82L223.52 402.79L222.21 402.85L220.9 402.75L219.59 402.6L218.29 402.53L216.98 402.54L215.67 402.61L214.36 402.55L213.06 402.4L211.75 402.37L210.44 402.46L209.13 402.56L207.82 402.55L206.52 402.52L205.21 402.7L203.9 402.66L202.59 402.53L201.29 402.45L199.98 402.6L198.67 402.42L197.36 402.47L196.05 402.54L194.75 402.43L193.44 402.31L192.13 402.12L190.82 402.13L189.52 402.14L188.21 402.07L186.9 402.22L185.59 402.07L184.28 402.2L182.98 402.08L181.67 401.86L180.36 401.95L179.05 402.1L177.75 401.96L176.44 401.96L175.13 401.89L173.82 401.85L172.52 401.66L171.21 401.63L169.9 401.7L168.59 401.79L167.28 401.69L165.98 401.43L164.67 401.33L163.36 401.47L162.05 401.67L160.75 401.77L159.44 401.62L158.13 401.41L156.82 401.28L155.51 401.16L154.21 401.25L152.9 401.12L151.59 400.83L150.28 400.93L148.98 400.99L147.67 400.81L146.36 400.66L145.05 400.78L143.74 400.56L142.44 400.68L141.13 400.63L139.82 400.81L138.51 400.81L137.21 400.71L135.9 400.57L134.59 400.55L133.28 400.33L131.97 400.36L130.67 400.29L129.36 400.18L128.05 399.94L126.74 399.98L125.44 399.8L124.13 399.77L122.82 399.54L121.51 399.6L120.2 399.5L118.9 399.42L117.59 399.24L116.28 399.17L114.97 399.06L113.67 399.14L112.36 398.87L111.05 398.78L109.74 398.85L108.43 398.81L107.13 398.71L105.82 398.54L104.51 398.27L103.2 398.23L101.9 398.21L100.59 398.04L99.28 397.84L97.97 397.75L96.66 397.83L95.36 397.93L94.05 397.93L92.74 397.63L91.43 397.45L90.13 397.3L88.82 397.22L87.51 397.07L86.2 396.92L84.89 396.97L83.59 396.75L82.28 396.45L80.97 396.43L79.66 396.18L78.36 396.12L77.05 395.95L75.74 395.66L74.43 395.49L73.13 395.14L71.82 395.15L70.51 395.24L69.2 394.94L67.89 394.81L66.59 394.89L65.28 394.62L63.97 394.27L62.66 394.28L61.36 393.95L60.05 393.55L58.74 393.32L57.43 392.81L56.12 392.63L54.82 392.11L53.51 391.97L52.2 391.51L50.89 391.16L49.59 390.65L48.28 390.35L46.97 389.48L45.66 389.49L44.35 389.52L43.05 389.58L41.74 389.57L40.43 389.57L39.12 389.52L37.82 389.47L36.51 389.48L35.2 389.5Z" fill="#af8cd7" opacity="0.42"/>
<path d="M35.2 387.5L36.51 387.46L37.82 387.43L39.12 387.37L40.43 387.42L41.74 387.46L43.05 387.42L44.35 387.4L45.66 387.44L46.97 387.42L48.28 386.27L49.59 386.1L50.89 386.3L52.2 386.39L53.51 386.11L54.82 386.16L56.12 386.24L57.43 386.02L58.74 385.93L60.05 386.11L61.36 386.02L62.66 385.9L63.97 386.05L65.28 385.9L66.59 386.06L67.89 386.06L69.2 386.18L70.51 386.2L71.82 385.81L73.13 385.81L74.43 385.5L75.74 385.54L77.05 385.47L78.36 385.28L79.66 385.23L80.97 385.47L82.28 385.4L83.59 385.32L84.89 385.48L86.2 385.64L87.51 385.35L88.82 385.32L90.13 385.46L91.43 385.43L92.74 385.52L94.05 385.28L95.36 385.25L96.66 385.43L97.97 385.19L99.28 385.38L100.59 385.42L101.9 385.57L103.2 385.31L104.51 385.44L105.82 385.32L107.13 385.44L108.43 385.33L109.74 385.14L111.05 385.06L112.36 385.05L113.67 385.01L114.97 385L116.28 384.91L117.59 385.1L118.9 385.03L120.2 385.1L121.51 384.83L122.82 384.58L124.13 384.84L125.44 384.98L126.74 384.8L128.05 384.73L129.36 384.95L130.67 384.76L131.97 384.49L133.28 384.55L134.59 384.63L135.9 384.57L137.21 384.33L138.51 384.49L139.82 384.58L141.13 384.71L142.44 384.58L143.74 384.55L145.05 384.64L146.36 384.63L147.67 384.8L148.98 384.79L150.28 384.42L151.59 384.35L152.9 384.45L154.21 384.18L155.51 384.27L156.82 384.39L158.13 384.58L159.44 384.67L160.75 384.7L162.05 384.7L163.36 384.37L164.67 384.43L165.98 384.48L167.28 384.33L168.59 384.05L169.9 384.16L171.21 383.99L172.52 384.06L173.82 384.02L175.13 383.96L176.44 383.73L177.75 383.65L179.05 383.71L180.36 383.59L181.67 383.73L182.98 383.82L184.28 383.59L185.59 383.63L186.9 383.53L188.21 383.69L189.52 383.5L190.82 383.51L192.13 383.7L193.44 383.5L194.75 383.58L196.05 383.71L197.36 383.85L198.67 384.03L199.98 384.12L201.29 383.93L202.59 384.07L203.9 384.11L205.21 384.05L206.52 383.95L207.82 383.96L209.13 383.75L210.44 383.87L211.75 383.9L213.06 383.9L214.36 384.04L215.67 384.1L216.98 384.18L218.29 383.93L219.59 384.03L220.9 383.83L222.21 383.9L223.52 383.73L224.83 383.59L226.13 383.64L227.44 383.36L228.75 383.3L230.06 383.29L231.36 383.54L232.67 383.54L233.98 383.6L235.29 383.54L236.6 383.25L237.9 383.06L239.21 383.32L240.52 383.19L241.83 382.96L243.13 382.98L244.44 383.22L245.75 383L247.06 383.05L248.37 382.8L249.67 382.66L250.98 382.57L252.29 382.44L253.6 382.79L254.9 382.66L256.21 382.82L257.52 383.01L258.83 383.03L260.14 382.92L261.44 383.14L262.75 383.07L264.06 382.83L265.37 382.8L266.67 382.75L267.98 382.83L269.29 382.53L270.6 382.71L271.91 382.63L273.21 382.6L274.52 382.91L275.83 382.63L277.14 382.82L278.44 382.58L279.75 382.43L281.06 382.34L282.37 382.3L283.67 382.51L284.98 382.65L286.29 382.8L287.6 382.62L288.91 382.96L290.21 383.16L291.52 382.89L292.83 382.77L294.14 382.74L295.44 382.59L296.75 382.7L298.06 382.63L299.37 382.79L300.68 382.67L301.98 383.02L303.29 383.09L304.6 383.08L305.91 382.96L307.21 383.07L308.52 383.02L309.83 382.88L311.14 383.07L312.45 383.33L313.75 383.63L315.06 383.44L316.37 383.51L317.68 383.62L318.98 383.65L320.29 383.88L321.6 384.02L321.6 391.73L320.29 391.59L318.98 391.36L317.68 391.33L316.37 391.22L315.06 391.15L313.75 391.34L312.45 391.04L311.14 390.78L309.83 390.59L308.52 390.73L307.21 390.78L305.91 390.67L304.6 390.79L303.29 390.8L301.98 390.73L300.68 390.38L299.37 390.5L298.06 390.34L296.75 390.41L295.44 390.3L294.14 390.45L292.83 390.48L291.52 390.6L290.21 390.87L288.91 390.67L287.6 390.33L286.29 390.51L284.98 390.36L283.67 390.22L282.37 390.01L281.06 390.05L279.75 390.14L278.44 390.29L277.14 390.53L275.83 390.34L274.52 390.62L273.21 390.31L271.91 390.34L270.6 390.42L269.29 390.24L267.98 390.54L266.67 390.46L265.37 390.51L264.06 390.54L262.75 390.78L261.44 390.85L260.14 390.63L258.83 390.74L257.52 390.72L256.21 390.53L254.9 390.37L253.6 390.5L252.29 390.15L250.98 390.28L249.67 390.37L248.37 390.51L247.06 390.76L245.75 390.71L244.44 390.93L243.13 390.69L241.83 390.67L240.52 390.9L239.21 391.03L237.9 390.77L236.6 390.96L235.29 391.25L233.98 391.31L232.67 391.25L231.36 391.25L230.06 391L228.75 391.01L227.44 391.07L226.13 391.35L224.83 391.3L223.52 391.44L222.21 391.61L220.9 391.54L219.59 391.74L218.29 391.64L216.98 391.89L215.67 391.81L214.36 391.75L213.06 391.61L211.75 391.61L210.44 391.58L209.13 391.46L207.82 391.67L206.52 391.66L205.21 391.76L203.9 391.82L202.59 391.78L201.29 391.64L199.98 391.83L198.67 391.74L197.36 391.56L196.05 391.42L194.75 391.29L193.44 391.21L192.13 391.41L190.82 391.2L189.52 391.17L188.21 391.33L186.9 391.15L185.59 391.21L184.28 391.15L182.98 391.35L181.67 391.23L180.36 391.06L179.05 391.16L177.75 391.07L176.44 391.12L175.13 391.32L173.82 391.35L172.52 391.37L171.21 391.27L169.9 391.4L168.59 391.27L167.28 391.52L165.98 391.64L164.67 391.57L163.36 391.48L162.05 391.78L160.75 391.75L159.44 391.69L158.13 391.58L156.82 391.35L155.51 391.21L154.21 391.09L152.9 391.33L151.59 391.2L150.28 391.25L148.98 391.58L147.67 391.57L146.36 391.37L145.05 391.35L143.74 391.24L142.44 391.23L141.13 391.34L139.82 391.18L138.51 391.06L137.21 390.87L135.9 391.08L134.59 391.11L133.28 391.01L131.97 390.92L130.67 391.16L129.36 391.32L128.05 391.07L126.74 391.12L125.44 391.27L124.13 391.1L122.82 390.81L121.51 391.03L120.2 391.28L118.9 391.18L117.59 391.22L116.28 391.01L114.97 391.07L113.67 391.05L112.36 391.05L111.05 391.04L109.74 391.09L108.43 391.25L107.13 391.34L105.82 391.18L104.51 391.28L103.2 391.12L101.9 391.35L100.59 391.17L99.28 391.1L97.97 390.89L96.66 391.1L95.36 390.89L94.05 390.89L92.74 391.1L91.43 390.98L90.13 390.99L88.82 390.82L87.51 390.83L86.2 391.09L84.89 390.9L83.59 390.71L82.28 390.76L80.97 390.8L79.66 390.53L78.36 390.56L77.05 390.72L75.74 390.76L74.43 390.69L73.13 390.97L71.82 390.95L70.51 391.31L69.2 391.26L67.89 391.11L66.59 391.08L65.28 390.9L63.97 391.01L62.66 390.83L61.36 390.93L60.05 390.99L58.74 390.79L57.43 390.84L56.12 391.04L54.82 390.93L53.51 390.85L52.2 391.11L50.89 390.99L49.59 390.75L48.28 390.9L46.97 389.73L45.66 389.76L44.35 389.72L43.05 389.74L41.74 389.78L40.43 389.73L39.12 389.68L37.82 389.74L36.51 389.77L35.2 389.82Z" fill="#f0c85a" opacity="0.47"/>
<path d="M35.2 387.32L36.51 387.31L37.82 387.26L39.12 387.28L40.43 387.29L41.74 387.28L43.05 387.33L44.35 387.32L45.66 387.31L46.97 387.27L48.28 386.1L49.59 386.45L50.89 386.88L52.2 386.99L53.51 387.19L54.82 387.71L56.12 388.39L57.43 389.14L58.74 390.05L60.05 390.97L61.36 392.06L62.66 393.11L63.97 393.4L65.28 393.89L66.59 394.29L67.89 394.65L69.2 395.09L70.51 395.34L71.82 395.62L73.13 395.76L74.43 396.05L75.74 396.12L77.05 396.27L78.36 396.35L79.66 396.52L80.97 396.76L82.28 396.69L83.59 396.68L84.89 396.76L86.2 396.91L87.51 397.21L88.82 397.5L90.13 397.73L91.43 398.03L92.74 398.01L94.05 398.18L95.36 398.17L96.66 398.33L97.97 398.23L99.28 398.22L100.59 398.56L101.9 398.76L103.2 398.65L104.51 398.77L105.82 398.67L107.13 398.85L108.43 399.12L109.74 399.13L111.05 399.1L112.36 399.3L113.67 399.52L114.97 399.59L116.28 399.4L117.59 399.36L118.9 399.58L120.2 399.7L121.51 399.86L122.82 400.01L124.13 399.85L125.44 399.98L126.74 399.93L128.05 399.96L129.36 400.08L130.67 399.98L131.97 400.14L133.28 400.08L134.59 400.24L135.9 400.26L137.21 400.37L138.51 400.43L139.82 400.21L141.13 400.09L142.44 400.19L143.74 400.05L145.05 400.2L146.36 400.25L147.67 400.1L148.98 400.08L150.28 400.27L151.59 400.08L152.9 400.23L154.21 400.33L155.51 400.2L156.82 400.28L158.13 400.36L159.44 400.5L160.75 400.6L162.05 400.49L163.36 400.54L164.67 400.44L165.98 400.45L167.28 400.43L168.59 400.22L169.9 400.25L171.21 400.24L172.52 400.12L173.82 400.29L175.13 400.44L176.44 400.25L177.75 400.15L179.05 400.28L180.36 400.39L181.67 400.24L182.98 400.06L184.28 400.19L185.59 400L186.9 399.88L188.21 399.88L189.52 399.95L190.82 400.12L192.13 400.28L193.44 400.04L194.75 400.14L196.05 400.03L197.36 400.12L198.67 399.97L199.98 399.94L201.29 400.03L202.59 400.14L203.9 400.01L205.21 400.17L206.52 400.22L207.82 400.13L209.13 399.94L210.44 399.9L211.75 399.99L213.06 399.81L214.36 399.95L215.67 400.12L216.98 400.15L218.29 400.09L219.59 400.18L220.9 400.2L222.21 400.13L223.52 400L224.83 400.06L226.13 400.01L227.44 399.76L228.75 399.53L230.06 399.48L231.36 399.42L232.67 399.41L233.98 399.56L235.29 399.72L236.6 399.83L237.9 399.56L239.21 399.44L240.52 399.24L241.83 399.44L243.13 399.35L244.44 399.33L245.75 399.22L247.06 399.29L248.37 399.07L249.67 399.25L250.98 399.2L252.29 399.08L253.6 398.93L254.9 398.86L256.21 398.82L257.52 398.75L258.83 398.64L260.14 398.77L261.44 398.75L262.75 398.66L264.06 398.6L265.37 398.73L266.67 398.68L267.98 398.61L269.29 398.68L270.6 398.7L271.91 398.81L273.21 398.82L274.52 398.81L275.83 399.01L277.14 398.94L278.44 398.75L279.75 398.66L281.06 398.64L282.37 398.76L283.67 398.71L284.98 398.74L286.29 398.81L287.6 398.71L288.91 398.92L290.21 398.82L291.52 399.03L292.83 398.96L294.14 398.95L295.44 399.05L296.75 398.93L298.06 398.93L299.37 398.87L300.68 398.72L301.98 398.85L303.29 399.05L304.6 399.08L305.91 398.96L307.21 399.06L308.52 399.14L309.83 398.19L311.14 397.36L312.45 396.63L313.75 395.71L315.06 395.06L316.37 394.24L317.68 393.62L318.98 392.88L320.29 391.99L321.6 391.08L321.6 399.82L320.29 400.72L318.98 401.62L317.68 402.36L316.37 402.98L315.06 403.8L313.75 404.45L312.45 405.36L311.14 406.09L309.83 406.93L308.52 407.87L307.21 407.79L305.91 407.7L304.6 407.82L303.29 407.79L301.98 407.59L300.68 407.45L299.37 407.61L298.06 407.66L296.75 407.67L295.44 407.78L294.14 407.69L292.83 407.7L291.52 407.77L290.21 407.56L288.91 407.66L287.6 407.44L286.29 407.54L284.98 407.47L283.67 407.45L282.37 407.5L281.06 407.38L279.75 407.39L278.44 407.49L277.14 407.68L275.83 407.75L274.52 407.55L273.21 407.56L271.91 407.55L270.6 407.44L269.29 407.41L267.98 407.35L266.67 407.42L265.37 407.46L264.06 407.34L262.75 407.4L261.44 407.49L260.14 407.51L258.83 407.38L257.52 407.49L256.21 407.56L254.9 407.6L253.6 407.66L252.29 407.82L250.98 407.94L249.67 407.99L248.37 407.8L247.06 408.02L245.75 407.96L244.44 408.07L243.13 408.09L241.83 408.18L240.52 407.97L239.21 408.18L237.9 408.3L236.6 408.57L235.29 408.45L233.98 408.3L232.67 408.15L231.36 408.16L230.06 408.22L228.75 408.27L227.44 408.5L226.13 408.74L224.83 408.79L223.52 408.73L222.21 408.87L220.9 408.94L219.59 408.92L218.29 408.83L216.98 408.89L215.67 408.86L214.36 408.68L213.06 408.55L211.75 408.72L210.44 408.63L209.13 408.68L207.82 408.87L206.52 408.96L205.21 408.91L203.9 408.75L202.59 408.88L201.29 408.77L199.98 408.67L198.67 408.7L197.36 408.86L196.05 408.77L194.75 408.88L193.44 408.78L192.13 409.01L190.82 408.84L189.52 408.64L188.21 408.54L186.9 408.5L185.59 408.59L184.28 408.75L182.98 408.58L181.67 408.74L180.36 408.85L179.05 408.71L177.75 408.55L176.44 408.61L175.13 408.76L173.82 408.59L172.52 408.38L171.21 408.47L169.9 408.45L168.59 408.39L167.28 408.56L165.98 408.55L164.67 408.5L163.36 408.57L162.05 408.49L160.75 408.57L159.44 408.43L158.13 408.26L156.82 408.15L155.51 408.04L154.21 408.13L152.9 408L151.59 407.81L150.28 407.98L148.98 407.75L147.67 407.74L146.36 407.85L145.05 407.77L143.74 407.59L142.44 407.7L141.13 407.56L139.82 407.65L138.51 407.84L137.21 407.74L135.9 407.6L134.59 407.55L133.28 407.36L131.97 407.39L130.67 407.19L129.36 407.26L128.05 407.1L126.74 407.05L125.44 407.06L124.13 406.9L122.82 407.03L121.51 406.85L120.2 406.65L118.9 406.49L117.59 406.24L116.28 406.26L114.97 406.41L113.67 406.31L112.36 406.05L111.05 405.82L109.74 405.82L108.43 405.77L107.13 405.47L105.82 405.26L104.51 405.32L103.2 405.18L101.9 405.25L100.59 405.02L99.28 404.65L97.97 404.62L96.66 404.68L95.36 404.49L94.05 404.47L92.74 404.27L91.43 404.25L90.13 403.93L88.82 403.66L87.51 403.34L86.2 403.01L84.89 402.83L83.59 402.71L82.28 402.69L80.97 402.72L79.66 402.45L78.36 402.25L77.05 402.13L75.74 401.96L74.43 401.85L73.13 401.53L71.82 401.35L70.51 401.04L69.2 400.76L67.89 400.28L66.59 399.89L65.28 399.46L63.97 398.94L62.66 398.62L61.36 397.53L60.05 396.41L58.74 395.45L57.43 394.51L56.12 393.73L54.82 393.02L53.51 392.46L52.2 392.23L50.89 392.08L49.59 391.63L48.28 391.24L46.97 389.84L45.66 389.88L44.35 389.89L43.05 389.9L41.74 389.85L40.43 389.86L39.12 389.85L37.82 389.83L36.51 389.88L35.2 389.89Z" fill="#f0c85a" opacity="0.47"/>
<path d="M35.2 388.66L36.51 388.61L37.82 388.59L39.12 388.52L40.43 388.58L41.74 388.62L43.05 388.58L44.35 388.56L45.66 388.6L46.97 388.57L48.28 388.58L49.59 388.43L50.89 388.64L52.2 388.75L53.51 388.48L54.82 388.54L56.12 388.64L57.43 388.43L58.74 388.36L60.05 388.55L61.36 388.48L62.66 388.36L63.97 388.53L65.28 388.4L66.59 388.57L67.89 388.58L69.2 388.72L70.51 388.76L71.82 388.38L73.13 388.39L74.43 388.09L75.74 388.15L77.05 388.1L78.36 387.92L79.66 387.88L80.97 388.14L82.28 388.08L83.59 388.01L84.89 388.19L86.2 388.36L87.51 388.09L88.82 388.07L90.13 388.23L91.43 388.21L92.74 388.31L94.05 388.09L95.36 388.07L96.66 388.26L97.97 388.04L99.28 388.24L100.59 388.29L101.9 388.46L103.2 388.22L104.51 388.36L105.82 388.25L107.13 388.39L108.43 388.29L109.74 388.11L111.05 388.05L112.36 388.05L113.67 388.03L114.97 388.04L116.28 387.96L117.59 388.16L118.9 388.11L120.2 388.19L121.51 387.93L122.82 387.7L124.13 387.97L125.44 388.13L126.74 387.96L128.05 387.9L129.36 388.14L130.67 387.96L131.97 387.7L133.28 387.78L134.59 387.87L135.9 387.82L137.21 387.6L138.51 387.77L139.82 387.88L141.13 388.03L142.44 387.9L143.74 387.89L145.05 388L146.36 388L147.67 388.19L148.98 388.18L150.28 387.83L151.59 387.78L152.9 387.89L154.21 387.63L155.51 387.74L156.82 387.87L158.13 388.08L159.44 388.18L160.75 388.23L162.05 388.24L163.36 387.93L164.67 388L165.98 388.06L167.28 387.92L168.59 387.66L169.9 387.78L171.21 387.63L172.52 387.72L173.82 387.68L175.13 387.64L176.44 387.42L177.75 387.36L179.05 387.44L180.36 387.32L181.67 387.48L182.98 387.59L184.28 387.37L185.59 387.42L186.9 387.34L188.21 387.51L189.52 387.33L190.82 387.35L192.13 387.56L193.44 387.35L194.75 387.44L196.05 387.57L197.36 387.71L198.67 387.89L199.98 387.97L201.29 387.79L202.59 387.93L203.9 387.97L205.21 387.9L206.52 387.8L207.82 387.81L209.13 387.61L210.44 387.73L211.75 387.76L213.06 387.75L214.36 387.9L215.67 387.96L216.98 388.04L218.29 387.79L219.59 387.89L220.9 387.68L222.21 387.76L223.52 387.59L224.83 387.45L226.13 387.49L227.44 387.22L228.75 387.15L230.06 387.15L231.36 387.4L232.67 387.39L233.98 387.46L235.29 387.39L236.6 387.1L237.9 386.91L239.21 387.18L240.52 387.05L241.83 386.82L243.13 386.84L244.44 387.08L245.75 386.85L247.06 386.9L248.37 386.65L249.67 386.51L250.98 386.42L252.29 386.3L253.6 386.64L254.9 386.52L256.21 386.67L257.52 386.87L258.83 386.88L260.14 386.78L261.44 386.99L262.75 386.92L264.06 386.69L265.37 386.66L266.67 386.61L267.98 386.69L269.29 386.39L270.6 386.57L271.91 386.49L273.21 386.45L274.52 386.76L275.83 386.49L277.14 386.67L278.44 386.43L279.75 386.29L281.06 386.2L282.37 386.16L283.67 386.36L284.98 386.5L286.29 386.66L287.6 386.48L288.91 386.81L290.21 387.01L291.52 386.75L292.83 386.63L294.14 386.6L295.44 386.44L296.75 386.56L298.06 386.49L299.37 386.64L300.68 386.53L301.98 386.87L303.29 386.95L304.6 386.93L305.91 386.82L307.21 386.93L308.52 386.88L309.83 386.73L311.14 386.92L312.45 387.19L313.75 387.49L315.06 387.3L316.37 387.36L317.68 387.47L318.98 387.5L320.29 387.74L321.6 387.88" stroke="#a88418" stroke-width="0.85" fill="none" stroke-dasharray="2.2 1.5" opacity="1" stroke-linejoin="round"/>
<path d="M35.2 388.66L36.51 388.6L37.82 388.56L39.12 388.49L40.43 388.59L41.74 388.65L43.05 388.72L44.35 388.75L45.66 388.66L46.97 388.73L48.28 388.91L49.59 389.1L50.89 389.2L52.2 389.18L53.51 388.87L54.82 388.82L56.12 389.26L57.43 389.39L58.74 389.61L60.05 389.23L61.36 389L62.66 388.85L63.97 388.73L65.28 388.71L66.59 388.56L67.89 388.58L69.2 389.02L70.51 388.9L71.82 389.11L73.13 389.07L74.43 389.19L75.74 389.3L77.05 389.42L78.36 389.45L79.66 389.54L80.97 389.75L82.28 389.36L83.59 389.06L84.89 388.69L86.2 388.62L87.51 388.66L88.82 388.53L90.13 388.89L91.43 388.73L92.74 388.78L94.05 389L95.36 389.14L96.66 388.99L97.97 389.06L99.28 388.95L100.59 388.74L101.9 388.73L103.2 388.92L104.51 388.76L105.82 388.83L107.13 388.87L108.43 388.92L109.74 388.81L111.05 388.94L112.36 388.58L113.67 388.09L114.97 388.2L116.28 388.04L117.59 387.76L118.9 388.24L120.2 388.53L121.51 388.24L122.82 388.01L124.13 387.99L125.44 388.36L126.74 388.44L128.05 388.16L129.36 387.94L130.67 387.85L131.97 388.25L133.28 388.05L134.59 388.28L135.9 388.2L137.21 388.59L138.51 388.24L139.82 388.27L141.13 388.21L142.44 388.57L143.74 388.52L145.05 388.53L146.36 388.53L147.67 388.72L148.98 388.58L150.28 388.78L151.59 388.97L152.9 389.22L154.21 389.02L155.51 389.31L156.82 389.45L158.13 389.68L159.44 389.42L160.75 389.3L162.05 389.22L163.36 389.56L164.67 389.51L165.98 389.54L167.28 389.74L168.59 389.96L169.9 389.35L171.21 389.57L172.52 389.6L173.82 389.64L175.13 389.42L176.44 389.65L177.75 389.52L179.05 389.5L180.36 389.12L181.67 389.48L182.98 389.49L184.28 389.37L185.59 388.91L186.9 388.92L188.21 388.95L189.52 388.83L190.82 389.02L192.13 389.37L193.44 389.26L194.75 388.87L196.05 388.7L197.36 388.95L198.67 388.8L199.98 388.56L201.29 388.84L202.59 388.79L203.9 388.93L205.21 389.12L206.52 389.23L207.82 389.37L209.13 389.36L210.44 389.6L211.75 389.49L213.06 389.65L214.36 389.25L215.67 389.07L216.98 389.4L218.29 389.03L219.59 389.2L220.9 389.09L222.21 388.95L223.52 389L224.83 389.07L226.13 389.01L227.44 389.18L228.75 388.74L230.06 388.99L231.36 388.62L232.67 388.8L233.98 388.87L235.29 388.84L236.6 389.09L237.9 389.2L239.21 389.09L240.52 388.95L241.83 388.49L243.13 388.06L244.44 388.46L245.75 388.37L247.06 388.61L248.37 388.27L249.67 388.37L250.98 388.01L252.29 387.99L253.6 388.3L254.9 388.62L256.21 388.66L257.52 388.21L258.83 388.42L260.14 388.31L261.44 388.31L262.75 388.32L264.06 387.98L265.37 388.16L266.67 387.9L267.98 387.75L269.29 387.41L270.6 387.52L271.91 387.3L273.21 387.52L274.52 387.58L275.83 387.6L277.14 387.45L278.44 387.3L279.75 387.8L281.06 388.16L282.37 388.14L283.67 387.91L284.98 387.96L286.29 388.18L287.6 387.85L288.91 388.11L290.21 388.48L291.52 388.79L292.83 389.05L294.14 388.71L295.44 388.94L296.75 388.65L298.06 388.32L299.37 387.98L300.68 387.88L301.98 388.1L303.29 388.13L304.6 387.99L305.91 387.98L307.21 388.31L308.52 388.2L309.83 388.7L311.14 388.95L312.45 388.63L313.75 388.83L315.06 389.15L316.37 389.03L317.68 389.22L318.98 389.73L320.29 390.12L321.6 390.26" stroke="#6a4c9c" stroke-width="0.85" fill="none" stroke-dasharray="2.2 1.5" opacity="1" stroke-linejoin="round"/>
<path d="M35.2 388.6L36.51 388.58L37.82 388.57L39.12 388.62L40.43 388.67L41.74 388.67L43.05 388.68L44.35 388.62L45.66 388.59L46.97 388.58L48.28 388.55L49.59 388.83L50.89 389.33L52.2 389.66L53.51 390.11L54.82 390.24L56.12 390.74L57.43 390.91L58.74 391.4L60.05 391.62L61.36 392L62.66 392.32L63.97 392.29L65.28 392.62L66.59 392.89L67.89 392.79L69.2 392.9L70.51 393.18L71.82 393.08L73.13 393.05L74.43 393.39L75.74 393.55L77.05 393.82L78.36 393.98L79.66 394.02L80.97 394.26L82.28 394.26L83.59 394.55L84.89 394.75L86.2 394.68L87.51 394.83L88.82 394.96L90.13 395.03L91.43 395.15L92.74 395.32L94.05 395.61L95.36 395.59L96.66 395.48L97.97 395.38L99.28 395.45L100.59 395.64L101.9 395.79L103.2 395.8L104.51 395.83L105.82 396.08L107.13 396.24L108.43 396.32L109.74 396.35L111.05 396.27L112.36 396.34L113.67 396.6L114.97 396.5L116.28 396.59L117.59 396.64L118.9 396.81L120.2 396.88L121.51 396.96L122.82 396.89L124.13 397.11L125.44 397.12L126.74 397.28L128.05 397.23L129.36 397.45L130.67 397.55L131.97 397.61L133.28 397.56L134.59 397.76L135.9 397.77L137.21 397.9L138.51 397.98L139.82 397.97L141.13 397.77L142.44 397.81L143.74 397.67L145.05 397.87L146.36 397.74L147.67 397.87L148.98 398.04L150.28 397.97L151.59 397.85L152.9 398.13L154.21 398.24L155.51 398.14L156.82 398.24L158.13 398.36L159.44 398.55L160.75 398.68L162.05 398.57L163.36 398.36L164.67 398.2L165.98 398.28L167.28 398.53L168.59 398.62L169.9 398.51L171.21 398.42L172.52 398.44L173.82 398.62L175.13 398.64L176.44 398.69L177.75 398.68L179.05 398.81L180.36 398.64L181.67 398.53L182.98 398.74L184.28 398.85L185.59 398.71L186.9 398.83L188.21 398.68L189.52 398.73L190.82 398.7L192.13 398.68L193.44 398.85L194.75 398.96L196.05 399.06L197.36 398.96L198.67 398.9L199.98 399.07L201.29 398.9L202.59 398.97L203.9 399.08L205.21 399.1L206.52 398.91L207.82 398.93L209.13 398.92L210.44 398.81L211.75 398.71L213.06 398.71L214.36 398.85L215.67 398.89L216.98 398.81L218.29 398.78L219.59 398.84L220.9 398.97L222.21 399.07L223.52 398.99L224.83 399L226.13 399.22L227.44 399.12L228.75 398.97L230.06 398.9L231.36 398.8L232.67 398.73L233.98 398.82L235.29 398.79L236.6 398.92L237.9 399.13L239.21 399.19L240.52 399.25L241.83 399.05L243.13 399L244.44 399.02L245.75 399L247.06 399.18L248.37 399.16L249.67 399.07L250.98 399.13L252.29 399.23L253.6 399.24L254.9 399.28L256.21 399.18L257.52 399.28L258.83 399.36L260.14 399.33L261.44 399.15L262.75 398.99L264.06 398.89L265.37 398.71L266.67 398.78L267.98 398.95L269.29 398.9L270.6 398.87L271.91 398.94L273.21 398.8L274.52 398.81L275.83 398.85L277.14 398.84L278.44 398.58L279.75 398.74L281.06 398.72L282.37 398.72L283.67 398.75L284.98 398.67L286.29 398.69L287.6 398.42L288.91 398.38L290.21 398.26L291.52 398.37L292.83 398.33L294.14 398.23L295.44 398.06L296.75 398.15L298.06 398.13L299.37 397.96L300.68 397.83L301.98 397.96L303.29 397.92L304.6 397.81L305.91 397.85L307.21 397.77L308.52 397.7L309.83 397.25L311.14 396.98L312.45 396.65L313.75 396.44L315.06 396.07L316.37 395.86L317.68 395.55L318.98 395.3L320.29 395.05L321.6 394.84" stroke="#7655a8" stroke-width="0.9" fill="none" opacity="1" stroke-linejoin="round"/>
<path d="M35.2 388.61L36.51 388.6L37.82 388.55L39.12 388.57L40.43 388.57L41.74 388.57L43.05 388.61L44.35 388.61L45.66 388.59L46.97 388.56L48.28 388.67L49.59 389.04L50.89 389.48L52.2 389.61L53.51 389.83L54.82 390.36L56.12 391.06L57.43 391.83L58.74 392.75L60.05 393.69L61.36 394.8L62.66 395.86L63.97 396.17L65.28 396.67L66.59 397.09L67.89 397.47L69.2 397.92L70.51 398.19L71.82 398.49L73.13 398.64L74.43 398.95L75.74 399.04L77.05 399.2L78.36 399.3L79.66 399.49L80.97 399.74L82.28 399.69L83.59 399.69L84.89 399.79L86.2 399.96L87.51 400.28L88.82 400.58L90.13 400.83L91.43 401.14L92.74 401.14L94.05 401.33L95.36 401.33L96.66 401.5L97.97 401.43L99.28 401.44L100.59 401.79L101.9 402L103.2 401.91L104.51 402.04L105.82 401.97L107.13 402.16L108.43 402.45L109.74 402.48L111.05 402.46L112.36 402.67L113.67 402.92L114.97 403L116.28 402.83L117.59 402.8L118.9 403.04L120.2 403.18L121.51 403.36L122.82 403.52L124.13 403.37L125.44 403.52L126.74 403.49L128.05 403.53L129.36 403.67L130.67 403.58L131.97 403.77L133.28 403.72L134.59 403.9L135.9 403.93L137.21 404.05L138.51 404.14L139.82 403.93L141.13 403.83L142.44 403.95L143.74 403.82L145.05 403.99L146.36 404.05L147.67 403.92L148.98 403.92L150.28 404.13L151.59 403.95L152.9 404.11L154.21 404.23L155.51 404.12L156.82 404.22L158.13 404.31L159.44 404.47L160.75 404.59L162.05 404.49L163.36 404.55L164.67 404.47L165.98 404.5L167.28 404.5L168.59 404.31L169.9 404.35L171.21 404.35L172.52 404.25L173.82 404.44L175.13 404.6L176.44 404.43L177.75 404.35L179.05 404.5L180.36 404.62L181.67 404.49L182.98 404.32L184.28 404.47L185.59 404.3L186.9 404.19L188.21 404.21L189.52 404.3L190.82 404.48L192.13 404.64L193.44 404.41L194.75 404.51L196.05 404.4L197.36 404.49L198.67 404.34L199.98 404.31L201.29 404.4L202.59 404.51L203.9 404.38L205.21 404.54L206.52 404.59L207.82 404.5L209.13 404.31L210.44 404.27L211.75 404.36L213.06 404.18L214.36 404.31L215.67 404.49L216.98 404.52L218.29 404.46L219.59 404.55L220.9 404.57L222.21 404.5L223.52 404.36L224.83 404.43L226.13 404.38L227.44 404.13L228.75 403.9L230.06 403.85L231.36 403.79L232.67 403.78L233.98 403.93L235.29 404.08L236.6 404.2L237.9 403.93L239.21 403.81L240.52 403.6L241.83 403.81L243.13 403.72L244.44 403.7L245.75 403.59L247.06 403.66L248.37 403.44L249.67 403.62L250.98 403.57L252.29 403.45L253.6 403.3L254.9 403.23L256.21 403.19L257.52 403.12L258.83 403.01L260.14 403.14L261.44 403.12L262.75 403.03L264.06 402.97L265.37 403.1L266.67 403.05L267.98 402.98L269.29 403.04L270.6 403.07L271.91 403.18L273.21 403.19L274.52 403.18L275.83 403.38L277.14 403.31L278.44 403.12L279.75 403.02L281.06 403.01L282.37 403.13L283.67 403.08L284.98 403.1L286.29 403.18L287.6 403.08L288.91 403.29L290.21 403.19L291.52 403.4L292.83 403.33L294.14 403.32L295.44 403.41L296.75 403.3L298.06 403.29L299.37 403.24L300.68 403.08L301.98 403.22L303.29 403.42L304.6 403.45L305.91 403.33L307.21 403.42L308.52 403.51L309.83 402.56L311.14 401.73L312.45 400.99L313.75 400.08L315.06 399.43L316.37 398.61L317.68 397.99L318.98 397.25L320.29 396.35L321.6 395.45" stroke="#b48c16" stroke-width="0.9" fill="none" opacity="1" stroke-linejoin="round"/>
<path d="M35.2 362.9V414.3H321.6" stroke="#8a8a8a" stroke-width="0.8" fill="none"/><path d="M35.2 414.3V412.3" stroke="#6a6a6a" stroke-width="0.6"/><path d="M61.24 414.3V412.3" stroke="#6a6a6a" stroke-width="0.6"/><path d="M87.27 414.3V412.3" stroke="#6a6a6a" stroke-width="0.6"/><path d="M113.31 414.3V412.3" stroke="#6a6a6a" stroke-width="0.6"/><path d="M139.35 414.3V412.3" stroke="#6a6a6a" stroke-width="0.6"/><path d="M165.38 414.3V412.3" stroke="#6a6a6a" stroke-width="0.6"/><path d="M191.42 414.3V412.3" stroke="#6a6a6a" stroke-width="0.6"/><path d="M217.45 414.3V412.3" stroke="#6a6a6a" stroke-width="0.6"/><path d="M243.49 414.3V412.3" stroke="#6a6a6a" stroke-width="0.6"/><path d="M269.53 414.3V412.3" stroke="#6a6a6a" stroke-width="0.6"/><path d="M295.56 414.3V412.3" stroke="#6a6a6a" stroke-width="0.6"/><path d="M321.6 414.3V412.3" stroke="#6a6a6a" stroke-width="0.6"/><path d="M35.2 362.9H37.2" stroke="#6a6a6a" stroke-width="0.6"/><path d="M35.2 388.6H37.2" stroke="#6a6a6a" stroke-width="0.6"/><path d="M35.2 414.3H37.2" stroke="#6a6a6a" stroke-width="0.6"/><text x="32.3" y="367.1" font-size="8.8" text-anchor="end" fill="#1a1a1a">0.2</text><text x="32.3" y="392.8" font-size="8.8" text-anchor="end" fill="#1a1a1a">0</text><text x="32.3" y="418.5" font-size="8.8" text-anchor="end" fill="#1a1a1a">−0.2</text>
<rect x="120.9" y="365.2" width="114.7" height="16.5" fill="#fff" stroke="#505050" stroke-width="0.8"/>
<path d="M123 374H130.7" stroke="#7a5aa8" stroke-width="0.7" stroke-dasharray="1 1.1"/>
<path d="M151.1 374H159.2" stroke="#7655a8" stroke-width="0.75"/>
<path d="M179 374H188.1" stroke="#c49b2a" stroke-width="0.7" stroke-dasharray="1 1.1"/>
<path d="M207.3 374H216.4" stroke="#b48c16" stroke-width="0.75"/>
<text x="133.4" y="376.6" font-size="9.6" font-style="italic" fill="#1a1a1a">T</text><text x="140" y="378.6" font-size="6.6" fill="#1a1a1a">C1</text>
<text x="162.3" y="376.6" font-size="9.6" font-style="italic" fill="#1a1a1a">T</text><text x="168.9" y="378.6" font-size="6.6" fill="#1a1a1a">C2</text>
<text x="190.6" y="376.6" font-size="9.6" font-style="italic" fill="#1a1a1a">T</text><text x="197.2" y="378.6" font-size="6.6" fill="#1a1a1a">C3</text>
<text x="219.1" y="376.6" font-size="9.6" font-style="italic" fill="#1a1a1a">T</text><text x="225.7" y="378.6" font-size="6.6" fill="#1a1a1a">C4</text>
<text x="49.3" y="409.4" font-size="9.3" fill="#1a1a1a">1.5 A</text>
<rect x="35.2" y="438.1" width="286.4" height="51.1" fill="#f4f4f4"/><path d="M61.24 438.1V489.2" stroke="#dedede" stroke-width="0.6"/><path d="M87.27 438.1V489.2" stroke="#dedede" stroke-width="0.6"/><path d="M113.31 438.1V489.2" stroke="#dedede" stroke-width="0.6"/><path d="M139.35 438.1V489.2" stroke="#dedede" stroke-width="0.6"/><path d="M165.38 438.1V489.2" stroke="#dedede" stroke-width="0.6"/><path d="M191.42 438.1V489.2" stroke="#dedede" stroke-width="0.6"/><path d="M217.45 438.1V489.2" stroke="#dedede" stroke-width="0.6"/><path d="M243.49 438.1V489.2" stroke="#dedede" stroke-width="0.6"/><path d="M269.53 438.1V489.2" stroke="#dedede" stroke-width="0.6"/><path d="M295.56 438.1V489.2" stroke="#dedede" stroke-width="0.6"/><path d="M35.2 463.65H321.6" stroke="#dedede" stroke-width="0.6"/><rect x="35.2" y="438.1" width="13.02" height="51.1" fill="#c9c9c9"/><rect x="308.58" y="438.1" width="13.02" height="51.1" fill="#c9c9c9"/>
<path d="M35.2 463.13L36.51 463.12L37.82 463.08L39.12 463.12L40.43 463.11L41.74 463.07L43.05 463.04L44.35 463.1L45.66 463.09L46.97 463.09L48.28 462.51L49.59 462.54L50.89 462.78L52.2 463.04L53.51 463.08L54.82 463.27L56.12 463.37L57.43 463.43L58.74 463.39L60.05 463.53L61.36 463.39L62.66 463.23L63.97 463.22L65.28 463.02L66.59 462.84L67.89 462.83L69.2 462.77L70.51 462.94L71.82 463.08L73.13 462.8L74.43 462.86L75.74 462.94L77.05 462.71L78.36 462.58L79.66 462.74L80.97 462.77L82.28 462.82L83.59 462.83L84.89 462.94L86.2 462.8L87.51 462.78L88.82 462.72L90.13 462.75L91.43 462.8L92.74 462.86L94.05 462.55L95.36 462.36L96.66 462.29L97.97 462.41L99.28 462.47L100.59 462.53L101.9 462.48L103.2 462.54L104.51 462.49L105.82 462.48L107.13 462.46L108.43 462.25L109.74 462.17L111.05 462.09L112.36 462.07L113.67 461.97L114.97 461.79L116.28 461.84L117.59 461.97L118.9 461.89L120.2 461.86L121.51 461.67L122.82 461.79L124.13 461.56L125.44 461.73L126.74 461.63L128.05 461.59L129.36 461.61L130.67 461.38L131.97 461.27L133.28 461.4L134.59 461.36L135.9 461.27L137.21 461.43L138.51 461.52L139.82 461.37L141.13 461.2L142.44 461.17L143.74 461.16L145.05 461.11L146.36 461.17L147.67 460.95L148.98 460.74L150.28 460.78L151.59 460.98L152.9 460.97L154.21 460.8L155.51 460.85L156.82 460.97L158.13 461.02L159.44 460.84L160.75 460.73L162.05 460.78L163.36 460.67L164.67 460.52L165.98 460.32L167.28 460.22L168.59 460.29L169.9 460.19L171.21 460.06L172.52 459.97L173.82 459.95L175.13 459.99L176.44 460.05L177.75 459.94L179.05 459.95L180.36 459.91L181.67 460.07L182.98 460.24L184.28 460.28L185.59 460.18L186.9 460.1L188.21 460.19L189.52 460.25L190.82 459.98L192.13 460.12L193.44 459.88L194.75 459.75L196.05 459.72L197.36 459.52L198.67 459.5L199.98 459.74L201.29 459.54L202.59 459.59L203.9 459.42L205.21 459.33L206.52 459.52L207.82 459.7L209.13 459.84L210.44 459.62L211.75 459.45L213.06 459.54L214.36 459.65L215.67 459.62L216.98 459.41L218.29 459.26L219.59 459.09L220.9 458.9L222.21 458.84L223.52 458.75L224.83 459L226.13 459.19L227.44 458.97L228.75 458.89L230.06 458.94L231.36 459.05L232.67 459.03L233.98 459.01L235.29 458.92L236.6 458.86L237.9 458.9L239.21 458.97L240.52 458.96L241.83 458.98L243.13 458.99L244.44 458.86L245.75 458.87L247.06 458.59L248.37 458.47L249.67 458.41L250.98 458.28L252.29 458.33L253.6 458.45L254.9 458.5L256.21 458.43L257.52 458.35L258.83 458.32L260.14 458.27L261.44 458.01L262.75 458.14L264.06 458.04L265.37 457.99L266.67 457.97L267.98 457.77L269.29 457.82L270.6 457.92L271.91 457.94L273.21 457.61L274.52 457.61L275.83 457.7L277.14 457.4L278.44 457.3L279.75 457.09L281.06 457.18L282.37 457.05L283.67 457.25L284.98 457.31L286.29 457.12L287.6 457.08L288.91 456.93L290.21 456.97L291.52 456.79L292.83 456.98L294.14 456.88L295.44 456.98L296.75 457.04L298.06 456.79L299.37 456.79L300.68 456.61L301.98 456.69L303.29 456.56L304.6 456.38L305.91 456.35L307.21 456.47L308.52 456.38L309.83 456.27L311.14 456.27L312.45 456.43L313.75 456.57L315.06 456.82L316.37 456.74L317.68 456.95L318.98 457.09L320.29 457.29L321.6 457.39L321.6 467.61L320.29 467.51L318.98 467.31L317.68 467.17L316.37 466.96L315.06 467.04L313.75 466.79L312.45 466.65L311.14 466.49L309.83 466.49L308.52 466.6L307.21 466.65L305.91 466.48L304.6 466.47L303.29 466.61L301.98 466.7L300.68 466.59L299.37 466.72L298.06 466.68L296.75 466.89L295.44 466.79L294.14 466.65L292.83 466.7L291.52 466.48L290.21 466.61L288.91 466.53L287.6 466.64L286.29 466.64L284.98 466.79L283.67 466.68L282.37 466.44L281.06 466.54L279.75 466.41L278.44 466.58L277.14 466.63L275.83 466.89L274.52 466.76L273.21 466.72L271.91 467.01L270.6 466.95L269.29 466.8L267.98 466.72L266.67 466.88L265.37 466.85L264.06 466.86L262.75 466.92L261.44 466.75L260.14 466.97L258.83 466.98L257.52 466.97L256.21 467L254.9 467.04L253.6 466.94L252.29 466.78L250.98 466.69L249.67 466.78L248.37 466.8L247.06 466.87L245.75 467.11L244.44 467.06L243.13 467.15L241.83 467.1L240.52 467.05L239.21 467.01L237.9 466.9L236.6 466.81L235.29 466.84L233.98 466.89L232.67 466.87L231.36 466.84L230.06 466.69L228.75 466.6L227.44 466.64L226.13 466.82L224.83 466.59L223.52 466.3L222.21 466.35L220.9 466.37L219.59 466.51L218.29 466.65L216.98 466.75L215.67 466.92L214.36 466.91L213.06 466.76L211.75 466.63L210.44 466.76L209.13 466.94L207.82 466.76L206.52 466.54L205.21 466.3L203.9 466.35L202.59 466.49L201.29 466.39L199.98 466.55L198.67 466.26L197.36 466.25L196.05 466.41L194.75 466.39L193.44 466.48L192.13 466.69L190.82 466.5L189.52 466.73L188.21 466.63L186.9 466.5L185.59 466.54L184.28 466.6L182.98 466.51L181.67 466.3L180.36 466.1L179.05 466.1L177.75 466.05L176.44 466.12L175.13 466.02L173.82 465.94L172.52 465.92L171.21 465.96L169.9 466.05L168.59 466.12L167.28 466L165.98 466.06L164.67 466.22L163.36 466.33L162.05 466.4L160.75 466.31L159.44 466.38L158.13 466.52L156.82 466.43L155.51 466.26L154.21 466.17L152.9 466.31L151.59 466.27L150.28 466.02L148.98 465.95L147.67 466.12L146.36 466.29L145.05 466.2L143.74 466.21L142.44 466.18L141.13 466.16L139.82 466.29L138.51 466.4L137.21 466.27L135.9 466.07L134.59 466.12L133.28 466.12L131.97 465.94L130.67 466.01L129.36 466.2L128.05 466.14L126.74 466.14L125.44 466.2L124.13 465.99L122.82 466.17L121.51 466.01L120.2 466.16L118.9 466.15L117.59 466.19L116.28 466.02L114.97 465.93L113.67 466.07L112.36 466.13L111.05 466.1L109.74 466.14L108.43 466.19L107.13 466.35L105.82 466.33L104.51 466.3L103.2 466.31L101.9 466.21L100.59 466.22L99.28 466.12L97.97 466.01L96.66 465.86L95.36 465.89L94.05 466.03L92.74 466.3L91.43 466.2L90.13 466.11L88.82 466.04L87.51 466.06L86.2 466.04L84.89 466.14L83.59 465.98L82.28 465.93L80.97 465.84L79.66 465.77L78.36 465.57L77.05 465.65L75.74 465.84L74.43 465.73L73.13 465.62L71.82 465.87L70.51 465.68L69.2 465.47L67.89 465.5L66.59 465.46L65.28 465.6L63.97 465.76L62.66 465.72L61.36 465.85L60.05 465.94L58.74 465.77L57.43 465.77L56.12 465.66L54.82 465.52L53.51 465.29L52.2 465.21L50.89 464.91L49.59 464.62L48.28 464.56L46.97 464.11L45.66 464.11L44.35 464.12L43.05 464.06L41.74 464.09L40.43 464.13L39.12 464.15L37.82 464.11L36.51 464.14L35.2 464.15Z" fill="#af8cd7" opacity="0.42"/>
<path d="M35.2 463.18L36.51 463.19L37.82 463.2L39.12 463.15L40.43 463.15L41.74 463.12L43.05 463.16L44.35 463.16L45.66 463.12L46.97 463.12L48.28 462.44L49.59 462.16L50.89 462.04L52.2 462.02L53.51 461.71L54.82 461.63L56.12 461.54L57.43 461.2L58.74 460.86L60.05 460.56L61.36 460.24L62.66 460.18L63.97 460.19L65.28 460.15L66.59 459.83L67.89 459.81L69.2 459.76L70.51 459.72L71.82 459.65L73.13 459.56L74.43 459.37L75.74 459.25L77.05 459.08L78.36 458.72L79.66 458.66L80.97 458.37L82.28 458.15L83.59 458L84.89 457.85L86.2 457.65L87.51 457.51L88.82 457.49L90.13 457.4L91.43 457.33L92.74 457.2L94.05 456.88L95.36 456.78L96.66 456.82L97.97 456.72L99.28 456.53L100.59 456.47L101.9 456.33L103.2 456.4L104.51 456.43L105.82 456.26L107.13 456.29L108.43 456.22L109.74 456.13L111.05 456.09L112.36 456.1L113.67 456.09L114.97 455.77L116.28 455.6L117.59 455.37L118.9 455.32L120.2 455.11L121.51 454.97L122.82 454.92L124.13 454.89L125.44 454.86L126.74 454.9L128.05 454.86L129.36 454.71L130.67 454.74L131.97 454.54L133.28 454.47L134.59 454.38L135.9 454.22L137.21 454.13L138.51 454.2L139.82 454.2L141.13 454.25L142.44 454.26L143.74 453.96L145.05 453.82L146.36 453.58L147.67 453.43L148.98 453.45L150.28 453.23L151.59 453.07L152.9 453.06L154.21 453.15L155.51 453.13L156.82 453.13L158.13 453.05L159.44 453.06L160.75 452.84L162.05 452.58L163.36 452.6L164.67 452.42L165.98 452.32L167.28 452.25L168.59 452.05L169.9 452.04L171.21 451.88L172.52 451.97L173.82 451.74L175.13 451.78L176.44 451.84L177.75 451.6L179.05 451.47L180.36 451.41L181.67 451.32L182.98 451.37L184.28 451.47L185.59 451.48L186.9 451.29L188.21 451.13L189.52 451.23L190.82 451.23L192.13 451.22L193.44 451.07L194.75 451.23L196.05 451.08L197.36 451.14L198.67 451.09L199.98 451.17L201.29 451.23L202.59 451.03L203.9 450.99L205.21 450.81L206.52 450.69L207.82 450.63L209.13 450.79L210.44 450.74L211.75 450.58L213.06 450.59L214.36 450.73L215.67 450.79L216.98 450.58L218.29 450.42L219.59 450.52L220.9 450.56L222.21 450.46L223.52 450.44L224.83 450.52L226.13 450.33L227.44 450.29L228.75 450.33L230.06 450.45L231.36 450.39L232.67 450.26L233.98 450.33L235.29 450.41L236.6 450.26L237.9 450.08L239.21 450.11L240.52 450.09L241.83 450.02L243.13 449.99L244.44 450.09L245.75 450.13L247.06 450.17L248.37 450.19L249.67 450.24L250.98 450.19L252.29 450.19L253.6 450L254.9 450.01L256.21 449.81L257.52 449.72L258.83 449.81L260.14 449.9L261.44 449.85L262.75 449.83L264.06 449.8L265.37 449.9L266.67 449.84L267.98 449.73L269.29 449.73L270.6 449.79L271.91 449.63L273.21 449.7L274.52 449.53L275.83 449.5L277.14 449.68L278.44 449.68L279.75 449.76L281.06 449.63L282.37 449.63L283.67 449.74L284.98 449.55L286.29 449.45L287.6 449.43L288.91 449.43L290.21 449.57L291.52 449.4L292.83 449.47L294.14 449.46L295.44 449.46L296.75 449.46L298.06 449.59L299.37 449.42L300.68 449.41L301.98 449.43L303.29 449.3L304.6 449.2L305.91 449.17L307.21 449.08L308.52 449.18L309.83 449.78L311.14 450.29L312.45 450.71L313.75 451.08L315.06 451.5L316.37 451.95L317.68 452.42L318.98 452.86L320.29 453.34L321.6 453.99L321.6 460.12L320.29 459.47L318.98 459L317.68 458.55L316.37 458.08L315.06 457.63L313.75 457.22L312.45 456.84L311.14 456.42L309.83 455.92L308.52 455.31L307.21 455.21L305.91 455.3L304.6 455.34L303.29 455.44L301.98 455.57L300.68 455.55L299.37 455.55L298.06 455.72L296.75 455.59L295.44 455.59L294.14 455.59L292.83 455.61L291.52 455.53L290.21 455.7L288.91 455.56L287.6 455.56L286.29 455.58L284.98 455.68L283.67 455.87L282.37 455.77L281.06 455.76L279.75 455.89L278.44 455.81L277.14 455.81L275.83 455.63L274.52 455.66L273.21 455.83L271.91 455.76L270.6 455.93L269.29 455.87L267.98 455.86L266.67 455.97L265.37 456.03L264.06 455.93L262.75 455.96L261.44 455.98L260.14 456.04L258.83 455.94L257.52 455.85L256.21 455.95L254.9 456.14L253.6 456.13L252.29 456.32L250.98 456.32L249.67 456.38L248.37 456.33L247.06 456.3L245.75 456.26L244.44 456.23L243.13 456.12L241.83 456.11L240.52 456.16L239.21 456.15L237.9 456.1L236.6 456.25L235.29 456.37L233.98 456.27L232.67 456.17L231.36 456.27L230.06 456.3L228.75 456.15L227.44 456.08L226.13 456.1L224.83 456.26L223.52 456.16L222.21 456.15L220.9 456.22L219.59 456.15L218.29 456.03L216.98 456.16L215.67 456.34L214.36 456.25L213.06 456.09L211.75 456.04L210.44 456.18L209.13 456.2L207.82 456.02L206.52 456.05L205.21 456.14L203.9 456.29L202.59 456.31L201.29 456.48L199.98 456.39L198.67 456.28L197.36 456.31L196.05 456.22L194.75 456.34L193.44 456.16L192.13 456.28L190.82 456.26L189.52 456.23L188.21 456.1L186.9 456.24L185.59 456.4L184.28 456.37L182.98 456.23L181.67 456.16L180.36 456.22L179.05 456.26L177.75 456.35L176.44 456.57L175.13 456.48L173.82 456.41L172.52 456.62L171.21 456.5L169.9 456.63L168.59 456.62L167.28 456.79L165.98 456.83L164.67 456.9L163.36 457.05L162.05 457.01L160.75 457.24L159.44 457.43L158.13 457.4L156.82 457.45L155.51 457.42L154.21 457.41L152.9 457.3L151.59 457.28L150.28 457.41L148.98 457.6L147.67 457.56L146.36 457.68L145.05 457.89L143.74 458L142.44 458.27L141.13 458.24L139.82 458.16L138.51 458.14L137.21 458.04L135.9 458.1L134.59 458.23L133.28 458.3L131.97 458.33L130.67 458.51L129.36 458.45L128.05 458.58L126.74 458.58L125.44 458.52L124.13 458.53L122.82 458.53L121.51 458.55L120.2 458.67L118.9 458.84L117.59 458.86L116.28 459.07L114.97 459.22L113.67 459.5L112.36 459.48L111.05 459.45L109.74 459.46L108.43 459.53L107.13 459.57L105.82 459.51L104.51 459.66L103.2 459.59L101.9 459.5L100.59 459.61L99.28 459.64L97.97 459.81L96.66 459.88L95.36 459.81L94.05 459.88L92.74 460.17L91.43 460.28L90.13 460.33L88.82 460.38L87.51 460.38L86.2 460.49L84.89 460.66L83.59 460.79L82.28 460.91L80.97 461.1L79.66 461.36L78.36 461.4L77.05 461.72L75.74 461.87L74.43 461.96L73.13 462.13L71.82 462.19L70.51 462.23L69.2 462.24L67.89 462.27L66.59 462.26L65.28 462.55L63.97 462.57L62.66 462.53L61.36 462.55L60.05 462.85L58.74 463.13L57.43 463.44L56.12 463.75L54.82 463.81L53.51 463.87L52.2 464.15L50.89 464.14L49.59 464.23L48.28 464.49L46.97 464.15L45.66 464.14L44.35 464.18L43.05 464.19L41.74 464.15L40.43 464.17L39.12 464.17L37.82 464.22L36.51 464.22L35.2 464.2Z" fill="#af8cd7" opacity="0.42"/>
<path d="M35.2 463.14L36.51 463.13L37.82 463.1L39.12 463.07L40.43 463.05L41.74 463.09L43.05 463.06L44.35 463.09L45.66 463.12L46.97 463.16L48.28 462.68L49.59 462.82L50.89 462.9L52.2 462.87L53.51 462.81L54.82 462.78L56.12 462.97L57.43 463.14L58.74 463.21L60.05 463.19L61.36 463.09L62.66 462.99L63.97 462.86L65.28 462.87L66.59 462.86L67.89 462.96L69.2 463.02L70.51 463.09L71.82 463.05L73.13 462.98L74.43 462.95L75.74 462.97L77.05 462.97L78.36 463.03L79.66 462.89L80.97 462.86L82.28 462.78L83.59 462.69L84.89 462.79L86.2 462.91L87.51 462.95L88.82 462.78L90.13 462.68L91.43 462.73L92.74 462.65L94.05 462.71L95.36 462.6L96.66 462.75L97.97 462.66L99.28 462.51L100.59 462.57L101.9 462.6L103.2 462.72L104.51 462.76L105.82 462.81L107.13 462.81L108.43 462.89L109.74 462.87L111.05 462.91L112.36 462.81L113.67 462.77L114.97 462.79L116.28 462.58L117.59 462.61L118.9 462.57L120.2 462.42L121.51 462.35L122.82 462.22L124.13 462.24L125.44 462.17L126.74 462.36L128.05 462.29L129.36 462.36L130.67 462.41L131.97 462.31L133.28 462.24L134.59 462.31L135.9 462.35L137.21 462.4L138.51 462.23L139.82 462.21L141.13 462.3L142.44 462.28L143.74 462.42L145.05 462.45L146.36 462.4L147.67 462.22L148.98 462.12L150.28 462.14L151.59 462.08L152.9 462.2L154.21 462.15L155.51 462.02L156.82 462.18L158.13 462.05L159.44 461.95L160.75 462.05L162.05 462L163.36 461.9L164.67 462.08L165.98 462.12L167.28 462.11L168.59 462.04L169.9 462.14L171.21 462.08L172.52 462.04L173.82 461.96L175.13 461.94L176.44 461.88L177.75 461.92L179.05 461.96L180.36 462.02L181.67 462.08L182.98 462.1L184.28 462.11L185.59 462.15L186.9 462.25L188.21 462.25L189.52 462.08L190.82 462.14L192.13 461.99L193.44 461.92L194.75 461.98L196.05 462.1L197.36 461.99L198.67 461.88L199.98 462L201.29 461.98L202.59 461.93L203.9 461.94L205.21 462.1L206.52 462.19L207.82 462.1L209.13 462.06L210.44 462.02L211.75 462.12L213.06 462L214.36 461.94L215.67 461.99L216.98 461.91L218.29 462.03L219.59 462.04L220.9 462.05L222.21 461.92L223.52 461.84L224.83 461.96L226.13 461.91L227.44 462.02L228.75 461.93L230.06 461.86L231.36 461.87L232.67 462.07L233.98 462.14L235.29 462.24L236.6 462.21L237.9 462.33L239.21 462.41L240.52 462.46L241.83 462.26L243.13 462.19L244.44 462.06L245.75 461.94L247.06 461.96L248.37 461.9L249.67 461.97L250.98 461.97L252.29 462.11L253.6 462.13L254.9 462.25L256.21 462.23L257.52 462.06L258.83 461.92L260.14 461.89L261.44 462.09L262.75 461.95L264.06 461.98L265.37 461.96L266.67 462.03L267.98 461.97L269.29 462.06L270.6 462.19L271.91 462.19L273.21 462.27L274.52 462.31L275.83 462.36L277.14 462.23L278.44 462.15L279.75 462.23L281.06 462.14L282.37 462.28L283.67 462.1L284.98 462.19L286.29 462.17L287.6 462.19L288.91 462.07L290.21 462.1L291.52 462.2L292.83 462.07L294.14 462.06L295.44 462.14L296.75 462.07L298.06 461.96L299.37 461.93L300.68 461.88L301.98 461.99L303.29 462.1L304.6 462.24L305.91 462.09L307.21 462.18L308.52 462.2L309.83 462.09L311.14 462.21L312.45 462.06L313.75 462.05L315.06 462.17L316.37 462.06L317.68 462.02L318.98 462.18L320.29 462.17L321.6 462.09L321.6 465.16L320.29 465.23L318.98 465.25L317.68 465.09L316.37 465.13L315.06 465.24L313.75 465.12L312.45 465.12L311.14 465.28L309.83 465.15L308.52 465.27L307.21 465.24L305.91 465.15L304.6 465.31L303.29 465.17L301.98 465.05L300.68 464.95L299.37 464.99L298.06 465.03L296.75 465.14L295.44 465.21L294.14 465.12L292.83 465.14L291.52 465.27L290.21 465.16L288.91 465.13L287.6 465.26L286.29 465.23L284.98 465.25L283.67 465.17L282.37 465.35L281.06 465.21L279.75 465.29L278.44 465.22L277.14 465.3L275.83 465.42L274.52 465.38L273.21 465.33L271.91 465.25L270.6 465.26L269.29 465.13L267.98 465.03L266.67 465.09L265.37 465.03L264.06 465.05L262.75 465.01L261.44 465.16L260.14 464.96L258.83 464.99L257.52 465.12L256.21 465.29L254.9 465.32L253.6 465.2L252.29 465.18L250.98 465.04L249.67 465.04L248.37 464.96L247.06 465.03L245.75 465.01L244.44 465.13L243.13 465.26L241.83 465.33L240.52 465.52L239.21 465.47L237.9 465.39L236.6 465.27L235.29 465.3L233.98 465.21L232.67 465.14L231.36 464.93L230.06 464.92L228.75 465L227.44 465.09L226.13 464.98L224.83 465.02L223.52 464.9L222.21 464.99L220.9 465.12L219.59 465.1L218.29 465.09L216.98 464.98L215.67 465.06L214.36 465.01L213.06 465.07L211.75 465.18L210.44 465.09L209.13 465.13L207.82 465.17L206.52 465.25L205.21 465.17L203.9 465.01L202.59 465L201.29 465.04L199.98 465.06L198.67 464.95L197.36 465.06L196.05 465.17L194.75 465.05L193.44 464.98L192.13 465.05L190.82 465.2L189.52 465.13L188.21 465.29L186.9 465.28L185.59 465.17L184.28 465.13L182.98 465.11L181.67 465.07L180.36 465.01L179.05 464.94L177.75 464.89L176.44 464.84L175.13 464.89L173.82 464.9L172.52 464.97L171.21 465L169.9 465.06L168.59 464.94L167.28 465L165.98 465L164.67 464.96L163.36 464.76L162.05 464.85L160.75 464.9L159.44 464.78L158.13 464.88L156.82 464.99L155.51 464.83L154.21 464.95L152.9 464.99L151.59 464.87L150.28 464.91L148.98 464.88L147.67 464.98L146.36 465.15L145.05 465.19L143.74 465.14L142.44 465L141.13 465.01L139.82 464.91L138.51 464.92L137.21 465.08L135.9 465.02L134.59 464.97L133.28 464.89L131.97 464.95L130.67 465.04L129.36 464.98L128.05 464.9L126.74 464.96L125.44 464.76L124.13 464.82L122.82 464.8L121.51 464.91L120.2 464.98L118.9 465.12L117.59 465.15L116.28 465.11L114.97 465.31L113.67 465.28L112.36 465.31L111.05 465.4L109.74 465.35L108.43 465.36L107.13 465.28L105.82 465.26L104.51 465.21L103.2 465.16L101.9 465.03L100.59 464.99L99.28 464.92L97.97 465.06L96.66 465.14L95.36 464.98L94.05 465.08L92.74 465.01L91.43 465.08L90.13 465.03L88.82 465.11L87.51 465.27L86.2 465.23L84.89 465.1L83.59 464.99L82.28 465.06L80.97 465.13L79.66 465.16L78.36 465.29L77.05 465.22L75.74 465.21L74.43 465.18L73.13 465.21L71.82 465.26L70.51 465.3L69.2 465.21L67.89 465.14L66.59 465.04L65.28 465.04L63.97 465.02L62.66 465.14L61.36 465.23L60.05 465.32L58.74 465.33L57.43 465.25L56.12 465.07L54.82 464.87L53.51 464.89L52.2 464.94L50.89 464.96L49.59 464.87L48.28 464.72L46.97 464.18L45.66 464.14L44.35 464.11L43.05 464.08L41.74 464.11L40.43 464.08L39.12 464.1L37.82 464.12L36.51 464.15L35.2 464.16Z" fill="#f0c85a" opacity="0.47"/>
<path d="M35.2 462.93L36.51 462.95L37.82 462.95L39.12 462.91L40.43 462.94L41.74 462.96L43.05 462.97L44.35 462.92L45.66 462.94L46.97 462.91L48.28 462.12L49.59 462.02L50.89 461.78L52.2 461.54L53.51 460.85L54.82 459.97L56.12 459.41L57.43 458.84L58.74 457.95L60.05 457.27L61.36 456.65L62.66 456L63.97 455.66L65.28 455.14L66.59 454.89L67.89 454.62L69.2 454.21L70.51 453.83L71.82 453.34L73.13 452.92L74.43 452.68L75.74 452.57L77.05 452.25L78.36 451.9L79.66 451.88L80.97 451.59L82.28 451.28L83.59 451.06L84.89 450.98L86.2 450.68L87.51 450.42L88.82 450.34L90.13 450.09L91.43 449.97L92.74 449.88L94.05 449.67L95.36 449.46L96.66 449.3L97.97 449.08L99.28 448.83L100.59 448.57L101.9 448.34L103.2 448.13L104.51 448.01L105.82 448.03L107.13 448.06L108.43 447.91L109.74 447.78L111.05 447.62L112.36 447.65L113.67 447.61L114.97 447.36L116.28 447.24L117.59 447.1L118.9 447.15L120.2 447.08L121.51 446.84L122.82 446.71L124.13 446.49L125.44 446.55L126.74 446.49L128.05 446.31L129.36 446.26L130.67 446.1L131.97 446.02L133.28 446.07L134.59 446.09L135.9 445.82L137.21 445.85L138.51 445.83L139.82 445.74L141.13 445.53L142.44 445.31L143.74 445.23L145.05 445.14L146.36 444.96L147.67 444.96L148.98 444.9L150.28 444.76L151.59 444.62L152.9 444.67L154.21 444.67L155.51 444.63L156.82 444.4L158.13 444.21L159.44 443.95L160.75 443.8L162.05 443.82L163.36 443.65L164.67 443.43L165.98 443.44L167.28 443.52L168.59 443.45L169.9 443.39L171.21 443.36L172.52 443.35L173.82 443.3L175.13 443L176.44 443.01L177.75 442.81L179.05 442.8L180.36 442.8L181.67 442.6L182.98 442.6L184.28 442.63L185.59 442.56L186.9 442.42L188.21 442.36L189.52 442.2L190.82 442.21L192.13 442.17L193.44 442.07L194.75 442.06L196.05 441.97L197.36 441.97L198.67 442.06L199.98 442.12L201.29 441.95L202.59 441.83L203.9 441.66L205.21 441.61L206.52 441.59L207.82 441.7L209.13 441.55L210.44 441.66L211.75 441.64L213.06 441.7L214.36 441.66L215.67 441.64L216.98 441.58L218.29 441.47L219.59 441.46L220.9 441.54L222.21 441.44L223.52 441.38L224.83 441.31L226.13 441.5L227.44 441.47L228.75 441.36L230.06 441.48L231.36 441.58L232.67 441.48L233.98 441.54L235.29 441.58L236.6 441.48L237.9 441.54L239.21 441.64L240.52 441.72L241.83 441.74L243.13 441.65L244.44 441.68L245.75 441.59L247.06 441.73L248.37 441.79L249.67 441.72L250.98 441.71L252.29 441.7L253.6 441.56L254.9 441.66L256.21 441.77L257.52 441.89L258.83 441.84L260.14 441.86L261.44 441.83L262.75 441.94L264.06 442.03L265.37 441.98L266.67 441.82L267.98 441.85L269.29 441.68L270.6 441.65L271.91 441.69L273.21 441.6L274.52 441.7L275.83 441.66L277.14 441.56L278.44 441.58L279.75 441.66L281.06 441.79L282.37 441.74L283.67 441.82L284.98 441.82L286.29 441.77L287.6 441.61L288.91 441.58L290.21 441.6L291.52 441.51L292.83 441.61L294.14 441.66L295.44 441.61L296.75 441.61L298.06 441.71L299.37 441.73L300.68 441.62L301.98 441.71L303.29 441.64L304.6 441.79L305.91 441.62L307.21 441.58L308.52 441.66L309.83 442L311.14 442.47L312.45 443.17L313.75 443.77L315.06 444.27L316.37 444.62L317.68 445.27L318.98 445.92L320.29 446.45L321.6 447.06L321.6 458.3L320.29 457.69L318.98 457.16L317.68 456.51L316.37 455.86L315.06 455.51L313.75 455.01L312.45 454.41L311.14 453.71L309.83 453.25L308.52 452.9L307.21 452.82L305.91 452.86L304.6 453.03L303.29 452.88L301.98 452.95L300.68 452.86L299.37 452.97L298.06 452.95L296.75 452.85L295.44 452.85L294.14 452.9L292.83 452.85L291.52 452.75L290.21 452.84L288.91 452.82L287.6 452.85L286.29 453.01L284.98 453.06L283.67 453.06L282.37 452.98L281.06 453.03L279.75 452.9L278.44 452.82L277.14 452.8L275.83 452.91L274.52 452.94L273.21 452.84L271.91 452.93L270.6 452.9L269.29 452.92L267.98 453.09L266.67 453.06L265.37 453.22L264.06 453.27L262.75 453.18L261.44 453.07L260.14 453.11L258.83 453.09L257.52 453.13L256.21 453.01L254.9 452.91L253.6 452.81L252.29 452.94L250.98 452.95L249.67 452.96L248.37 453.03L247.06 452.98L245.75 452.83L244.44 452.92L243.13 452.89L241.83 452.98L240.52 452.96L239.21 452.89L237.9 452.78L236.6 452.72L235.29 452.82L233.98 452.78L232.67 452.72L231.36 452.83L230.06 452.72L228.75 452.6L227.44 452.71L226.13 452.74L224.83 452.55L223.52 452.62L222.21 452.68L220.9 452.78L219.59 452.7L218.29 452.71L216.98 452.8L215.67 452.8L214.36 452.75L213.06 452.73L211.75 452.6L210.44 452.56L209.13 452.39L207.82 452.47L206.52 452.31L205.21 452.26L203.9 452.25L202.59 452.35L201.29 452.41L199.98 452.52L198.67 452.39L197.36 452.24L196.05 452.18L194.75 452.21L193.44 452.15L192.13 452.19L190.82 452.16L189.52 452.09L188.21 452.18L186.9 452.18L185.59 452.26L184.28 452.27L182.98 452.18L181.67 452.12L180.36 452.25L179.05 452.18L177.75 452.14L176.44 452.27L175.13 452.2L173.82 452.43L172.52 452.42L171.21 452.37L169.9 452.34L168.59 452.33L167.28 452.34L165.98 452.19L164.67 452.12L163.36 452.28L162.05 452.38L160.75 452.3L159.44 452.39L158.13 452.58L156.82 452.71L155.51 452.88L154.21 452.85L152.9 452.8L151.59 452.68L150.28 452.75L148.98 452.83L147.67 452.83L146.36 452.77L145.05 452.89L143.74 452.91L142.44 452.93L141.13 453.09L139.82 453.23L138.51 453.25L137.21 453.21L135.9 453.12L134.59 453.33L133.28 453.25L131.97 453.13L130.67 453.15L129.36 453.25L128.05 453.23L126.74 453.35L125.44 453.34L124.13 453.23L122.82 453.39L121.51 453.44L120.2 453.62L118.9 453.63L117.59 453.52L116.28 453.59L114.97 453.65L113.67 453.84L112.36 453.81L111.05 453.72L109.74 453.82L108.43 453.88L107.13 453.97L105.82 453.88L104.51 453.79L103.2 453.86L101.9 454L100.59 454.17L99.28 454.36L97.97 454.55L96.66 454.7L95.36 454.81L94.05 454.95L92.74 455.1L91.43 455.12L90.13 455.18L88.82 455.37L87.51 455.39L86.2 455.58L84.89 455.82L83.59 455.84L82.28 456L80.97 456.24L79.66 456.47L78.36 456.42L77.05 456.71L75.74 456.97L74.43 457.01L73.13 457.18L71.82 457.54L70.51 457.98L69.2 458.29L67.89 458.63L66.59 458.85L65.28 459.03L63.97 459.49L62.66 459.77L61.36 460.35L60.05 460.91L58.74 461.53L57.43 462.35L56.12 462.86L54.82 463.35L53.51 464.17L52.2 464.8L50.89 464.98L49.59 465.16L48.28 465.19L46.97 464.44L45.66 464.48L44.35 464.45L43.05 464.5L41.74 464.49L40.43 464.47L39.12 464.45L37.82 464.48L36.51 464.49L35.2 464.46Z" fill="#f0c85a" opacity="0.47"/>
<path d="M35.2 463.65L36.51 463.64L37.82 463.61L39.12 463.58L40.43 463.57L41.74 463.6L43.05 463.57L44.35 463.6L45.66 463.63L46.97 463.67L48.28 463.7L49.59 463.85L50.89 463.93L52.2 463.9L53.51 463.85L54.82 463.82L56.12 464.02L57.43 464.19L58.74 464.27L60.05 464.26L61.36 464.16L62.66 464.06L63.97 463.94L65.28 463.96L66.59 463.95L67.89 464.05L69.2 464.12L70.51 464.2L71.82 464.15L73.13 464.1L74.43 464.06L75.74 464.09L77.05 464.1L78.36 464.16L79.66 464.02L80.97 464L82.28 463.92L83.59 463.84L84.89 463.94L86.2 464.07L87.51 464.11L88.82 463.95L90.13 463.86L91.43 463.91L92.74 463.83L94.05 463.9L95.36 463.79L96.66 463.94L97.97 463.86L99.28 463.72L100.59 463.78L101.9 463.82L103.2 463.94L104.51 463.99L105.82 464.03L107.13 464.05L108.43 464.12L109.74 464.11L111.05 464.16L112.36 464.06L113.67 464.02L114.97 464.05L116.28 463.84L117.59 463.88L118.9 463.84L120.2 463.7L121.51 463.63L122.82 463.51L124.13 463.53L125.44 463.46L126.74 463.66L128.05 463.6L129.36 463.67L130.67 463.73L131.97 463.63L133.28 463.57L134.59 463.64L135.9 463.68L137.21 463.74L138.51 463.58L139.82 463.56L141.13 463.65L142.44 463.64L143.74 463.78L145.05 463.82L146.36 463.78L147.67 463.6L148.98 463.5L150.28 463.52L151.59 463.48L152.9 463.6L154.21 463.55L155.51 463.42L156.82 463.59L158.13 463.47L159.44 463.37L160.75 463.48L162.05 463.42L163.36 463.33L164.67 463.52L165.98 463.56L167.28 463.56L168.59 463.49L169.9 463.6L171.21 463.54L172.52 463.5L173.82 463.43L175.13 463.41L176.44 463.36L177.75 463.4L179.05 463.45L180.36 463.51L181.67 463.58L182.98 463.61L184.28 463.62L185.59 463.66L186.9 463.77L188.21 463.77L189.52 463.6L190.82 463.67L192.13 463.52L193.44 463.45L194.75 463.51L196.05 463.63L197.36 463.52L198.67 463.41L199.98 463.53L201.29 463.51L202.59 463.47L203.9 463.48L205.21 463.64L206.52 463.72L207.82 463.63L209.13 463.6L210.44 463.56L211.75 463.65L213.06 463.53L214.36 463.48L215.67 463.52L216.98 463.45L218.29 463.56L219.59 463.57L220.9 463.58L222.21 463.46L223.52 463.37L224.83 463.49L226.13 463.44L227.44 463.56L228.75 463.46L230.06 463.39L231.36 463.4L232.67 463.6L233.98 463.68L235.29 463.77L236.6 463.74L237.9 463.86L239.21 463.94L240.52 463.99L241.83 463.79L243.13 463.73L244.44 463.6L245.75 463.47L247.06 463.5L248.37 463.43L249.67 463.5L250.98 463.51L252.29 463.64L253.6 463.66L254.9 463.78L256.21 463.76L257.52 463.59L258.83 463.46L260.14 463.43L261.44 463.62L262.75 463.48L264.06 463.51L265.37 463.49L266.67 463.56L267.98 463.5L269.29 463.59L270.6 463.73L271.91 463.72L273.21 463.8L274.52 463.85L275.83 463.89L277.14 463.77L278.44 463.68L279.75 463.76L281.06 463.68L282.37 463.81L283.67 463.64L284.98 463.72L286.29 463.7L287.6 463.73L288.91 463.6L290.21 463.63L291.52 463.74L292.83 463.6L294.14 463.59L295.44 463.68L296.75 463.61L298.06 463.5L299.37 463.46L300.68 463.42L301.98 463.52L303.29 463.63L304.6 463.77L305.91 463.62L307.21 463.71L308.52 463.74L309.83 463.62L311.14 463.75L312.45 463.59L313.75 463.59L315.06 463.7L316.37 463.6L317.68 463.56L318.98 463.71L320.29 463.7L321.6 463.62" stroke="#a88418" stroke-width="0.85" fill="none" stroke-dasharray="2.2 1.5" opacity="1" stroke-linejoin="round"/>
<path d="M35.2 463.64L36.51 463.63L37.82 463.59L39.12 463.64L40.43 463.62L41.74 463.58L43.05 463.55L44.35 463.61L45.66 463.6L46.97 463.6L48.28 463.53L49.59 463.58L50.89 463.84L52.2 464.13L53.51 464.19L54.82 464.4L56.12 464.52L57.43 464.6L58.74 464.58L60.05 464.74L61.36 464.62L62.66 464.48L63.97 464.49L65.28 464.31L66.59 464.15L67.89 464.17L69.2 464.12L70.51 464.31L71.82 464.47L73.13 464.21L74.43 464.29L75.74 464.39L77.05 464.18L78.36 464.08L79.66 464.26L80.97 464.31L82.28 464.37L83.59 464.41L84.89 464.54L86.2 464.42L87.51 464.42L88.82 464.38L90.13 464.43L91.43 464.5L92.74 464.58L94.05 464.29L95.36 464.13L96.66 464.07L97.97 464.21L99.28 464.3L100.59 464.37L101.9 464.35L103.2 464.43L104.51 464.4L105.82 464.4L107.13 464.41L108.43 464.22L109.74 464.15L111.05 464.1L112.36 464.1L113.67 464.02L114.97 463.86L116.28 463.93L117.59 464.08L118.9 464.02L120.2 464.01L121.51 463.84L122.82 463.98L124.13 463.77L125.44 463.96L126.74 463.89L128.05 463.87L129.36 463.9L130.67 463.69L131.97 463.61L133.28 463.76L134.59 463.74L135.9 463.67L137.21 463.85L138.51 463.96L139.82 463.83L141.13 463.68L142.44 463.68L143.74 463.68L145.05 463.65L146.36 463.73L147.67 463.53L148.98 463.35L150.28 463.4L151.59 463.63L152.9 463.64L154.21 463.48L155.51 463.56L156.82 463.7L158.13 463.77L159.44 463.61L160.75 463.52L162.05 463.59L163.36 463.5L164.67 463.37L165.98 463.19L167.28 463.11L168.59 463.2L169.9 463.12L171.21 463.01L172.52 462.95L173.82 462.94L175.13 463.01L176.44 463.08L177.75 463L179.05 463.02L180.36 463L181.67 463.18L182.98 463.37L184.28 463.44L185.59 463.36L186.9 463.3L188.21 463.41L189.52 463.49L190.82 463.24L192.13 463.4L193.44 463.18L194.75 463.07L196.05 463.06L197.36 462.89L198.67 462.88L199.98 463.15L201.29 462.96L202.59 463.04L203.9 462.89L205.21 462.81L206.52 463.03L207.82 463.23L209.13 463.39L210.44 463.19L211.75 463.04L213.06 463.15L214.36 463.28L215.67 463.27L216.98 463.08L218.29 462.95L219.59 462.8L220.9 462.63L222.21 462.59L223.52 462.52L224.83 462.8L226.13 463L227.44 462.8L228.75 462.75L230.06 462.82L231.36 462.94L232.67 462.95L233.98 462.95L235.29 462.88L236.6 462.83L237.9 462.9L239.21 462.99L240.52 463L241.83 463.04L243.13 463.07L244.44 462.96L245.75 462.99L247.06 462.73L248.37 462.63L249.67 462.59L250.98 462.48L252.29 462.56L253.6 462.69L254.9 462.77L256.21 462.71L257.52 462.66L258.83 462.65L260.14 462.62L261.44 462.38L262.75 462.53L264.06 462.45L265.37 462.42L266.67 462.43L267.98 462.25L269.29 462.31L270.6 462.43L271.91 462.47L273.21 462.16L274.52 462.19L275.83 462.29L277.14 462.02L278.44 461.94L279.75 461.75L281.06 461.86L282.37 461.74L283.67 461.97L284.98 462.05L286.29 461.88L287.6 461.86L288.91 461.73L290.21 461.79L291.52 461.63L292.83 461.84L294.14 461.76L295.44 461.88L296.75 461.96L298.06 461.74L299.37 461.75L300.68 461.6L301.98 461.7L303.29 461.59L304.6 461.42L305.91 461.41L307.21 461.56L308.52 461.49L309.83 461.38L311.14 461.38L312.45 461.54L313.75 461.68L315.06 461.93L316.37 461.85L317.68 462.06L318.98 462.2L320.29 462.4L321.6 462.5" stroke="#6a4c9c" stroke-width="0.85" fill="none" stroke-dasharray="2.2 1.5" opacity="1" stroke-linejoin="round"/>
<path d="M35.2 463.69L36.51 463.71L37.82 463.71L39.12 463.66L40.43 463.66L41.74 463.63L43.05 463.68L44.35 463.67L45.66 463.63L46.97 463.63L48.28 463.47L49.59 463.19L50.89 463.09L52.2 463.08L53.51 462.79L54.82 462.72L56.12 462.65L57.43 462.32L58.74 462L60.05 461.7L61.36 461.4L62.66 461.35L63.97 461.38L65.28 461.35L66.59 461.04L67.89 461.04L69.2 461L70.51 460.97L71.82 460.92L73.13 460.85L74.43 460.67L75.74 460.56L77.05 460.4L78.36 460.06L79.66 460.01L80.97 459.74L82.28 459.53L83.59 459.39L84.89 459.26L86.2 459.07L87.51 458.95L88.82 458.94L90.13 458.87L91.43 458.81L92.74 458.68L94.05 458.38L95.36 458.3L96.66 458.35L97.97 458.27L99.28 458.08L100.59 458.04L101.9 457.92L103.2 457.99L104.51 458.04L105.82 457.88L107.13 457.93L108.43 457.88L109.74 457.79L111.05 457.77L112.36 457.79L113.67 457.8L114.97 457.5L116.28 457.33L117.59 457.12L118.9 457.08L120.2 456.89L121.51 456.76L122.82 456.73L124.13 456.71L125.44 456.69L126.74 456.74L128.05 456.72L129.36 456.58L130.67 456.62L131.97 456.44L133.28 456.38L134.59 456.3L135.9 456.16L137.21 456.08L138.51 456.17L139.82 456.18L141.13 456.24L142.44 456.26L143.74 455.98L145.05 455.85L146.36 455.63L147.67 455.5L148.98 455.52L150.28 455.32L151.59 455.17L152.9 455.18L154.21 455.28L155.51 455.27L156.82 455.29L158.13 455.22L159.44 455.24L160.75 455.04L162.05 454.8L163.36 454.83L164.67 454.66L165.98 454.57L167.28 454.52L168.59 454.33L169.9 454.34L171.21 454.19L172.52 454.3L173.82 454.07L175.13 454.13L176.44 454.21L177.75 453.98L179.05 453.86L180.36 453.81L181.67 453.74L182.98 453.8L184.28 453.92L185.59 453.94L186.9 453.76L188.21 453.62L189.52 453.73L190.82 453.75L192.13 453.75L193.44 453.61L194.75 453.78L196.05 453.65L197.36 453.72L198.67 453.68L199.98 453.78L201.29 453.86L202.59 453.67L203.9 453.64L205.21 453.47L206.52 453.37L207.82 453.33L209.13 453.5L210.44 453.46L211.75 453.31L213.06 453.34L214.36 453.49L215.67 453.57L216.98 453.37L218.29 453.22L219.59 453.33L220.9 453.39L222.21 453.31L223.52 453.3L224.83 453.39L226.13 453.21L227.44 453.18L228.75 453.24L230.06 453.38L231.36 453.33L232.67 453.21L233.98 453.3L235.29 453.39L236.6 453.25L237.9 453.09L239.21 453.13L240.52 453.12L241.83 453.07L243.13 453.05L244.44 453.16L245.75 453.19L247.06 453.23L248.37 453.26L249.67 453.31L250.98 453.25L252.29 453.26L253.6 453.06L254.9 453.07L256.21 452.88L257.52 452.78L258.83 452.87L260.14 452.97L261.44 452.91L262.75 452.9L264.06 452.86L265.37 452.96L266.67 452.91L267.98 452.79L269.29 452.8L270.6 452.86L271.91 452.7L273.21 452.77L274.52 452.6L275.83 452.56L277.14 452.74L278.44 452.74L279.75 452.83L281.06 452.69L282.37 452.7L283.67 452.81L284.98 452.62L286.29 452.52L287.6 452.5L288.91 452.49L290.21 452.64L291.52 452.47L292.83 452.54L294.14 452.53L295.44 452.52L296.75 452.52L298.06 452.66L299.37 452.49L300.68 452.48L301.98 452.5L303.29 452.37L304.6 452.27L305.91 452.23L307.21 452.15L308.52 452.25L309.83 452.85L311.14 453.36L312.45 453.78L313.75 454.15L315.06 454.56L316.37 455.02L317.68 455.48L318.98 455.93L320.29 456.41L321.6 457.05" stroke="#7655a8" stroke-width="0.9" fill="none" opacity="1" stroke-linejoin="round"/>
<path d="M35.2 463.69L36.51 463.72L37.82 463.71L39.12 463.68L40.43 463.71L41.74 463.73L43.05 463.73L44.35 463.69L45.66 463.71L46.97 463.67L48.28 463.65L49.59 463.59L50.89 463.38L52.2 463.17L53.51 462.51L54.82 461.66L56.12 461.14L57.43 460.59L58.74 459.74L60.05 459.09L61.36 458.5L62.66 457.88L63.97 457.58L65.28 457.09L66.59 456.87L67.89 456.63L69.2 456.25L70.51 455.9L71.82 455.44L73.13 455.05L74.43 454.84L75.74 454.77L77.05 454.48L78.36 454.16L79.66 454.17L80.97 453.92L82.28 453.64L83.59 453.45L84.89 453.4L86.2 453.13L87.51 452.91L88.82 452.85L90.13 452.63L91.43 452.55L92.74 452.49L94.05 452.31L95.36 452.13L96.66 452L97.97 451.82L99.28 451.6L100.59 451.37L101.9 451.17L103.2 451L104.51 450.9L105.82 450.96L107.13 451.01L108.43 450.89L109.74 450.8L111.05 450.67L112.36 450.73L113.67 450.73L114.97 450.5L116.28 450.42L117.59 450.31L118.9 450.39L120.2 450.35L121.51 450.14L122.82 450.05L124.13 449.86L125.44 449.95L126.74 449.92L128.05 449.77L129.36 449.75L130.67 449.62L131.97 449.57L133.28 449.66L134.59 449.71L135.9 449.47L137.21 449.53L138.51 449.54L139.82 449.48L141.13 449.31L142.44 449.12L143.74 449.07L145.05 449.01L146.36 448.86L147.67 448.89L148.98 448.87L150.28 448.76L151.59 448.65L152.9 448.74L154.21 448.76L155.51 448.75L156.82 448.55L158.13 448.39L159.44 448.17L160.75 448.05L162.05 448.1L163.36 447.96L164.67 447.78L165.98 447.81L167.28 447.93L168.59 447.89L169.9 447.87L171.21 447.87L172.52 447.89L173.82 447.87L175.13 447.6L176.44 447.64L177.75 447.48L179.05 447.49L180.36 447.53L181.67 447.36L182.98 447.39L184.28 447.45L185.59 447.41L186.9 447.3L188.21 447.27L189.52 447.14L190.82 447.18L192.13 447.18L193.44 447.11L194.75 447.14L196.05 447.07L197.36 447.1L198.67 447.22L199.98 447.32L201.29 447.18L202.59 447.09L203.9 446.96L205.21 446.93L206.52 446.95L207.82 447.08L209.13 446.97L210.44 447.11L211.75 447.12L213.06 447.21L214.36 447.2L215.67 447.22L216.98 447.19L218.29 447.09L219.59 447.08L220.9 447.16L222.21 447.06L223.52 447L224.83 446.93L226.13 447.12L227.44 447.09L228.75 446.98L230.06 447.1L231.36 447.2L232.67 447.1L233.98 447.16L235.29 447.2L236.6 447.1L237.9 447.16L239.21 447.26L240.52 447.34L241.83 447.36L243.13 447.27L244.44 447.3L245.75 447.21L247.06 447.35L248.37 447.41L249.67 447.34L250.98 447.33L252.29 447.32L253.6 447.19L254.9 447.29L256.21 447.39L257.52 447.51L258.83 447.46L260.14 447.49L261.44 447.45L262.75 447.56L264.06 447.65L265.37 447.6L266.67 447.44L267.98 447.47L269.29 447.3L270.6 447.27L271.91 447.31L273.21 447.22L274.52 447.32L275.83 447.28L277.14 447.18L278.44 447.2L279.75 447.28L281.06 447.41L282.37 447.36L283.67 447.44L284.98 447.44L286.29 447.39L287.6 447.23L288.91 447.2L290.21 447.22L291.52 447.13L292.83 447.23L294.14 447.28L295.44 447.23L296.75 447.23L298.06 447.33L299.37 447.35L300.68 447.24L301.98 447.33L303.29 447.26L304.6 447.41L305.91 447.24L307.21 447.2L308.52 447.28L309.83 447.62L311.14 448.09L312.45 448.79L313.75 449.39L315.06 449.89L316.37 450.24L317.68 450.89L318.98 451.54L320.29 452.07L321.6 452.68" stroke="#b48c16" stroke-width="0.9" fill="none" opacity="1" stroke-linejoin="round"/>
<path d="M35.2 438.1V489.2H321.6" stroke="#8a8a8a" stroke-width="0.8" fill="none"/><path d="M35.2 489.2V487.2" stroke="#6a6a6a" stroke-width="0.6"/><path d="M61.24 489.2V487.2" stroke="#6a6a6a" stroke-width="0.6"/><path d="M87.27 489.2V487.2" stroke="#6a6a6a" stroke-width="0.6"/><path d="M113.31 489.2V487.2" stroke="#6a6a6a" stroke-width="0.6"/><path d="M139.35 489.2V487.2" stroke="#6a6a6a" stroke-width="0.6"/><path d="M165.38 489.2V487.2" stroke="#6a6a6a" stroke-width="0.6"/><path d="M191.42 489.2V487.2" stroke="#6a6a6a" stroke-width="0.6"/><path d="M217.45 489.2V487.2" stroke="#6a6a6a" stroke-width="0.6"/><path d="M243.49 489.2V487.2" stroke="#6a6a6a" stroke-width="0.6"/><path d="M269.53 489.2V487.2" stroke="#6a6a6a" stroke-width="0.6"/><path d="M295.56 489.2V487.2" stroke="#6a6a6a" stroke-width="0.6"/><path d="M321.6 489.2V487.2" stroke="#6a6a6a" stroke-width="0.6"/><path d="M35.2 438.1H37.2" stroke="#6a6a6a" stroke-width="0.6"/><path d="M35.2 463.65H37.2" stroke="#6a6a6a" stroke-width="0.6"/><path d="M35.2 489.2H37.2" stroke="#6a6a6a" stroke-width="0.6"/><text x="32.3" y="442.3" font-size="8.8" text-anchor="end" fill="#1a1a1a">0.5</text><text x="32.3" y="467.85" font-size="8.8" text-anchor="end" fill="#1a1a1a">0</text><text x="32.3" y="493.4" font-size="8.8" text-anchor="end" fill="#1a1a1a">−0.5</text>
<rect x="122" y="470.6" width="113" height="15.7" fill="#fff" stroke="#505050" stroke-width="0.8"/>
<path d="M124 478.5H131.7" stroke="#7a5aa8" stroke-width="0.7" stroke-dasharray="1 1.1"/>
<path d="M152.3 478.5H160.4" stroke="#7655a8" stroke-width="0.75"/>
<path d="M179.5 478.5H188.6" stroke="#c49b2a" stroke-width="0.7" stroke-dasharray="1 1.1"/>
<path d="M207.3 478.5H216.4" stroke="#b48c16" stroke-width="0.75"/>
<text x="134.4" y="481.1" font-size="9.6" font-style="italic" fill="#1a1a1a">T</text><text x="141" y="483.1" font-size="6.6" fill="#1a1a1a">H1</text>
<text x="163.3" y="481.1" font-size="9.6" font-style="italic" fill="#1a1a1a">T</text><text x="169.9" y="483.1" font-size="6.6" fill="#1a1a1a">H2</text>
<text x="191.1" y="481.1" font-size="9.6" font-style="italic" fill="#1a1a1a">T</text><text x="197.7" y="483.1" font-size="6.6" fill="#1a1a1a">H3</text>
<text x="219.1" y="481.1" font-size="9.6" font-style="italic" fill="#1a1a1a">T</text><text x="225.7" y="483.1" font-size="6.6" fill="#1a1a1a">H4</text>
<text x="49.3" y="484.4" font-size="9.3" fill="#1a1a1a">1.5 A</text>
<rect x="35.2" y="512.3" width="286.4" height="52" fill="#f4f4f4"/><path d="M61.24 512.3V564.3" stroke="#dedede" stroke-width="0.6"/><path d="M87.27 512.3V564.3" stroke="#dedede" stroke-width="0.6"/><path d="M113.31 512.3V564.3" stroke="#dedede" stroke-width="0.6"/><path d="M139.35 512.3V564.3" stroke="#dedede" stroke-width="0.6"/><path d="M165.38 512.3V564.3" stroke="#dedede" stroke-width="0.6"/><path d="M191.42 512.3V564.3" stroke="#dedede" stroke-width="0.6"/><path d="M217.45 512.3V564.3" stroke="#dedede" stroke-width="0.6"/><path d="M243.49 512.3V564.3" stroke="#dedede" stroke-width="0.6"/><path d="M269.53 512.3V564.3" stroke="#dedede" stroke-width="0.6"/><path d="M295.56 512.3V564.3" stroke="#dedede" stroke-width="0.6"/><path d="M35.2 538.3H321.6" stroke="#dedede" stroke-width="0.6"/><rect x="35.2" y="512.3" width="13.02" height="52" fill="#c9c9c9"/><rect x="308.58" y="512.3" width="13.02" height="52" fill="#c9c9c9"/>
<path d="M35.2 544.28L48.09 544.28L48.22 525.3L52.12 523.35L57.33 521.92L63.84 520.88L74.25 520.23L100.29 519.97L191.42 519.84L308.58 519.97L308.58 519.97L308.97 538.3L312.49 540.25L317.69 541.94L321.6 542.72" stroke="#ff4848" stroke-width="0.9" fill="none" opacity="1" stroke-linejoin="round"/>
<path d="M35.2 558.19L48.09 558.19L48.22 538.3L52.12 536.74L58.63 535.57L67.75 534.79L87.27 534.53L308.58 534.53L308.97 553.9L312.49 555.59L317.69 556.76L321.6 557.28" stroke="#3d4fff" stroke-width="0.9" fill="none" opacity="1" stroke-linejoin="round"/>
<path d="M35.2 512.3V564.3H321.6" stroke="#8a8a8a" stroke-width="0.8" fill="none"/><path d="M35.2 564.3V562.3" stroke="#6a6a6a" stroke-width="0.6"/><path d="M61.24 564.3V562.3" stroke="#6a6a6a" stroke-width="0.6"/><path d="M87.27 564.3V562.3" stroke="#6a6a6a" stroke-width="0.6"/><path d="M113.31 564.3V562.3" stroke="#6a6a6a" stroke-width="0.6"/><path d="M139.35 564.3V562.3" stroke="#6a6a6a" stroke-width="0.6"/><path d="M165.38 564.3V562.3" stroke="#6a6a6a" stroke-width="0.6"/><path d="M191.42 564.3V562.3" stroke="#6a6a6a" stroke-width="0.6"/><path d="M217.45 564.3V562.3" stroke="#6a6a6a" stroke-width="0.6"/><path d="M243.49 564.3V562.3" stroke="#6a6a6a" stroke-width="0.6"/><path d="M269.53 564.3V562.3" stroke="#6a6a6a" stroke-width="0.6"/><path d="M295.56 564.3V562.3" stroke="#6a6a6a" stroke-width="0.6"/><path d="M321.6 564.3V562.3" stroke="#6a6a6a" stroke-width="0.6"/><path d="M35.2 512.3H37.2" stroke="#6a6a6a" stroke-width="0.6"/><path d="M35.2 538.3H37.2" stroke="#6a6a6a" stroke-width="0.6"/><path d="M35.2 564.3H37.2" stroke="#6a6a6a" stroke-width="0.6"/><text x="32.3" y="516.5" font-size="8.8" text-anchor="end" fill="#1a1a1a">0.3</text><text x="32.3" y="542.5" font-size="8.8" text-anchor="end" fill="#1a1a1a">0.1</text><text x="32.3" y="568.5" font-size="8.8" text-anchor="end" fill="#1a1a1a">−0.1</text>
<rect x="140.4" y="545.3" width="75" height="15.3" fill="#fff" stroke="#505050" stroke-width="0.8"/>
<path d="M140.9 553H150" stroke="#3d4fff" stroke-width="0.9"/>
<path d="M181.7 553H190.7" stroke="#ff4848" stroke-width="0.9"/>
<text x="153.1" y="556.3" font-size="8.8" font-style="italic" fill="#1a1a1a">V</text><text x="158.6" y="558.6" font-size="6" fill="#1a1a1a">COLD</text>
<text x="193.8" y="556.3" font-size="8.8" font-style="italic" fill="#1a1a1a">V</text><text x="199.3" y="558.6" font-size="6" fill="#1a1a1a">HOT</text>
<text x="49.8" y="559.4" font-size="9.3" fill="#1a1a1a">1.5 A</text>
<text x="35.2" y="575.8" font-size="8.8" text-anchor="middle" fill="#1a1a1a">0</text>
<text x="61.24" y="575.8" font-size="8.8" text-anchor="middle" fill="#1a1a1a">2</text>
<text x="87.27" y="575.8" font-size="8.8" text-anchor="middle" fill="#1a1a1a">4</text>
<text x="113.31" y="575.8" font-size="8.8" text-anchor="middle" fill="#1a1a1a">6</text>
<text x="139.35" y="575.8" font-size="8.8" text-anchor="middle" fill="#1a1a1a">8</text>
<text x="165.38" y="575.8" font-size="8.8" text-anchor="middle" fill="#1a1a1a">10</text>
<text x="191.42" y="575.8" font-size="8.8" text-anchor="middle" fill="#1a1a1a">12</text>
<text x="217.45" y="575.8" font-size="8.8" text-anchor="middle" fill="#1a1a1a">14</text>
<text x="243.49" y="575.8" font-size="8.8" text-anchor="middle" fill="#1a1a1a">16</text>
<text x="269.53" y="575.8" font-size="8.8" text-anchor="middle" fill="#1a1a1a">18</text>
<text x="295.56" y="575.8" font-size="8.8" text-anchor="middle" fill="#1a1a1a">20</text>
<text x="321.6" y="575.8" font-size="8.8" text-anchor="middle" fill="#1a1a1a">22</text>
<text x="141.4" y="588.6" font-size="8.6" fill="#1a1a1a">Time, <tspan font-style="italic">t</tspan> (min)</text>
<text transform="translate(8.5 426) rotate(-90)" font-size="9.2" text-anchor="middle" fill="#1a1a1a"><tspan font-style="italic">T</tspan><tspan font-size="5.8" font-style="italic" dy="2">i</tspan><tspan dy="-2">(</tspan><tspan font-style="italic">t</tspan>) − <tspan font-style="italic">T</tspan><tspan font-size="5.8" font-style="italic" dy="2">i</tspan><tspan dy="-2">(</tspan><tspan font-style="italic">t</tspan> = 0) (K)</text>
<text transform="translate(7.9 539) rotate(-90)" font-size="9" text-anchor="middle" fill="#1a1a1a">Voltage (V)</text>
<text x="356.6" y="344.3" font-size="10.5" font-weight="bold" fill="#000">d</text>
<rect x="394.7" y="364.1" width="284.9" height="51.6" fill="#f4f4f4"/><path d="M420.6 364.1V415.7" stroke="#dedede" stroke-width="0.6"/><path d="M446.5 364.1V415.7" stroke="#dedede" stroke-width="0.6"/><path d="M472.4 364.1V415.7" stroke="#dedede" stroke-width="0.6"/><path d="M498.3 364.1V415.7" stroke="#dedede" stroke-width="0.6"/><path d="M524.2 364.1V415.7" stroke="#dedede" stroke-width="0.6"/><path d="M550.1 364.1V415.7" stroke="#dedede" stroke-width="0.6"/><path d="M576 364.1V415.7" stroke="#dedede" stroke-width="0.6"/><path d="M601.9 364.1V415.7" stroke="#dedede" stroke-width="0.6"/><path d="M627.8 364.1V415.7" stroke="#dedede" stroke-width="0.6"/><path d="M653.7 364.1V415.7" stroke="#dedede" stroke-width="0.6"/><path d="M394.7 381.3H679.6" stroke="#dedede" stroke-width="0.6"/><path d="M394.7 398.5H679.6" stroke="#dedede" stroke-width="0.6"/><rect x="394.7" y="364.1" width="12.95" height="51.6" fill="#c9c9c9"/><rect x="666.65" y="364.1" width="12.95" height="51.6" fill="#c9c9c9"/>
<path d="M394.7 380.36L396 380.51L397.3 380.56L398.6 380.45L399.9 380.36L401.2 380.41L402.51 380.32L403.81 380.35L405.11 380.29L406.41 380.13L407.71 378.88L409.01 378.75L410.31 378.88L411.61 378.83L412.91 378.37L414.21 378.52L415.51 378.65L416.82 378.98L418.12 379.9L419.42 380.73L420.72 381.31L422.02 381.17L423.32 381.95L424.62 382.23L425.92 382.69L427.22 382.6L428.52 382.67L429.82 383.07L431.13 383.86L432.43 384.06L433.73 384.62L435.03 384.41L436.33 384.69L437.63 384.78L438.93 384.81L440.23 384.78L441.53 384.91L442.83 385.17L444.13 385.57L445.44 386.15L446.74 386.17L448.04 386.42L449.34 387.22L450.64 387.31L451.94 387.51L453.24 387.82L454.54 387.4L455.84 387.82L457.14 387.31L458.44 387.43L459.75 387.98L461.05 387.98L462.35 387.88L463.65 388.14L464.95 387.99L466.25 387.97L467.55 387.55L468.85 387.61L470.15 387.73L471.45 387.49L472.75 387.48L474.06 387.62L475.36 387.92L476.66 387.9L477.96 387.8L479.26 387.68L480.56 387.7L481.86 387.73L483.16 388.27L484.46 388.35L485.76 388.7L487.06 388.5L488.37 388.47L489.67 388.55L490.97 388.34L492.27 388.84L493.57 388.71L494.87 388.7L496.17 388.89L497.47 388.48L498.77 389.15L500.07 389.15L501.37 389.17L502.68 388.99L503.98 388.51L505.28 388.62L506.58 388.4L507.88 388.84L509.18 389.06L510.48 389.35L511.78 389.16L513.08 389.29L514.38 388.95L515.68 389.33L516.99 389.36L518.29 389.17L519.59 389.56L520.89 389.6L522.19 389.58L523.49 389.57L524.79 389.71L526.09 389.71L527.39 389.37L528.69 389.87L529.99 389.87L531.3 389.74L532.6 389.74L533.9 390.01L535.2 390.43L536.5 390.29L537.8 390.69L539.1 390.42L540.4 389.99L541.7 390.11L543 390.32L544.31 390.26L545.61 390.4L546.91 390.72L548.21 390.8L549.51 390.81L550.81 390.86L552.11 391.01L553.41 391.1L554.71 390.88L556.01 391.19L557.31 391.2L558.62 391.62L559.92 391.66L561.22 391.36L562.52 391.48L563.82 391.32L565.12 391.73L566.42 391.4L567.72 391.47L569.02 391.88L570.32 392.06L571.62 391.6L572.93 391.15L574.23 391.62L575.53 391L576.83 391.53L578.13 391.35L579.43 391.34L580.73 391.08L582.03 391.29L583.33 390.77L584.63 390.85L585.93 390.57L587.24 390.43L588.54 390.43L589.84 390.9L591.14 390.83L592.44 390.87L593.74 390.72L595.04 390.44L596.34 390.77L597.64 390.65L598.94 390.65L600.24 390.47L601.55 390.51L602.85 390.48L604.15 390.49L605.45 390.79L606.75 390.4L608.05 390.38L609.35 390.38L610.65 390.64L611.95 390.7L613.25 390.87L614.55 391.02L615.86 390.58L617.16 390.36L618.46 390.57L619.76 391.13L621.06 390.76L622.36 391.18L623.66 391.02L624.96 390.99L626.26 390.76L627.56 390.82L628.86 390.67L630.17 390.81L631.47 390.5L632.77 390.53L634.07 390.72L635.37 390.62L636.67 390.42L637.97 390.66L639.27 391.22L640.57 391.62L641.87 391.17L643.17 391.49L644.48 391.05L645.78 391.2L647.08 391.43L648.38 391.79L649.68 391.5L650.98 391.84L652.28 391.59L653.58 391.09L654.88 391.21L656.18 391.74L657.48 391.84L658.79 391.28L660.09 391.38L661.39 391.58L662.69 391.38L663.99 391.13L665.29 391.09L666.59 391.5L667.89 391.32L669.19 390.93L670.49 390.28L671.79 390.25L673.1 389.55L674.4 388.74L675.7 388.27L677 387.95L678.3 387.85L679.6 387.35L679.6 396.51L678.3 397L677 396.86L675.7 397.05L674.4 397.41L673.1 397.73L671.79 398.48L670.49 398.56L669.19 399.4L667.89 400.05L666.59 400.3L665.29 400.23L663.99 399.94L662.69 400.44L661.39 400.64L660.09 400.33L658.79 400.25L657.48 400.66L656.18 400.17L654.88 399.88L653.58 400.08L652.28 400.24L650.98 400.11L649.68 399.77L648.38 400.24L647.08 400.13L645.78 399.9L644.48 399.39L643.17 399.48L641.87 399.16L640.57 399.61L639.27 399.17L637.97 398.66L636.67 398.41L635.37 398.65L634.07 398.78L632.77 398.3L631.47 398.52L630.17 398.84L628.86 398.76L627.56 398.57L626.26 398.69L624.96 399.01L623.66 399.08L622.36 398.94L621.06 398.5L619.76 398.99L618.46 398.63L617.16 398.51L615.86 398.75L614.55 399.17L613.25 398.79L611.95 398.75L610.65 398.8L609.35 398.21L608.05 398.21L606.75 398.07L605.45 398.19L604.15 397.57L602.85 397.76L601.55 397.67L600.24 397.7L598.94 398.19L597.64 398.45L596.34 398.48L595.04 397.96L593.74 398.09L592.44 398.36L591.14 398.28L589.84 398.57L588.54 397.98L587.24 397.92L585.93 398.46L584.63 398.66L583.33 398.3L582.03 398.46L580.73 398L579.43 398.3L578.13 398.48L576.83 398.42L575.53 398.13L574.23 398.41L572.93 397.92L571.62 397.92L570.32 398.48L569.02 398.54L567.72 398.28L566.42 398.12L565.12 398.5L563.82 398.25L562.52 398.04L561.22 397.68L559.92 398.23L558.62 397.74L557.31 397.17L556.01 397.27L554.71 397.07L553.41 397.14L552.11 396.86L550.81 396.89L549.51 397.04L548.21 397.08L546.91 397.07L545.61 396.74L544.31 396.23L543 396.42L541.7 395.99L540.4 396.16L539.1 396.32L537.8 396.43L536.5 396.24L535.2 396.49L533.9 395.74L532.6 395.57L531.3 395.61L529.99 395.44L528.69 395.52L527.39 395.22L526.09 395.42L524.79 395.13L523.49 395.09L522.19 395.29L520.89 395.5L519.59 395.82L518.29 395.13L516.99 395.71L515.68 395.67L514.38 395.18L513.08 395.26L511.78 395.15L510.48 395.17L509.18 394.65L507.88 394.59L506.58 394.27L505.28 394.42L503.98 394.29L502.68 394.52L501.37 394.42L500.07 394.46L498.77 394.36L497.47 393.98L496.17 394.35L494.87 393.84L493.57 393.78L492.27 393.94L490.97 393.71L489.67 394.01L488.37 394.1L487.06 394.16L485.76 394.13L484.46 393.59L483.16 393.26L481.86 392.41L480.56 392.46L479.26 392.51L477.96 392.69L476.66 392.76L475.36 392.32L474.06 392.14L472.75 391.89L471.45 391.99L470.15 392.09L468.85 392.22L467.55 392.47L466.25 392.69L464.95 392.83L463.65 393.2L462.35 392.74L461.05 392.51L459.75 392.16L458.44 391.9L457.14 391.85L455.84 391.99L454.54 391.51L453.24 391.9L451.94 391.59L450.64 391.52L449.34 391.36L448.04 390.91L446.74 390.58L445.44 390.82L444.13 389.91L442.83 389.45L441.53 389.25L440.23 388.96L438.93 388.54L437.63 388.59L436.33 388.71L435.03 388.19L433.73 387.93L432.43 387.54L431.13 387.41L429.82 386.68L428.52 386.59L427.22 386.62L425.92 386.38L424.62 385.91L423.32 385.75L422.02 385.18L420.72 384.92L419.42 384.61L418.12 384.02L416.82 382.83L415.51 382.52L414.21 382.42L412.91 382.25L411.61 382.75L410.31 382.46L409.01 382.72L407.71 382.79L406.41 382.13L405.11 382.02L403.81 382.18L402.51 382.12L401.2 382.28L399.9 382.39L398.6 382.17L397.3 382.29L396 382.19L394.7 382.37Z" fill="#af8cd7" opacity="0.42"/>
<path d="M394.7 379.59L396 379.61L397.3 379.6L398.6 379.57L399.9 379.35L401.2 379.47L402.51 379.35L403.81 379.46L405.11 379.28L406.41 379.58L407.71 378.29L409.01 378L410.31 377.58L411.61 377.88L412.91 377.64L414.21 378.82L415.51 379.77L416.82 380.54L418.12 381.32L419.42 382.08L420.72 382.23L422.02 382.44L423.32 382.41L424.62 382.32L425.92 382.23L427.22 382.52L428.52 383.07L429.82 383.55L431.13 383.61L432.43 384.12L433.73 384.91L435.03 385.25L436.33 385.38L437.63 385.85L438.93 386.45L440.23 386.75L441.53 386.8L442.83 386.77L444.13 386.73L445.44 387.21L446.74 387.97L448.04 388.5L449.34 388.13L450.64 387.93L451.94 388.12L453.24 388.38L454.54 388.66L455.84 388.86L457.14 389.1L458.44 388.84L459.75 388.99L461.05 388.64L462.35 388.76L463.65 388.64L464.95 388.36L466.25 388.13L467.55 388.58L468.85 388.21L470.15 387.91L471.45 387.99L472.75 388.36L474.06 388.17L475.36 388.01L476.66 388.5L477.96 388.5L479.26 388.48L480.56 388.54L481.86 388.28L483.16 388.57L484.46 388.59L485.76 389.2L487.06 389.14L488.37 389.59L489.67 389.19L490.97 388.84L492.27 389.1L493.57 389.65L494.87 389.88L496.17 389.75L497.47 390.12L498.77 389.92L500.07 389.66L501.37 389.8L502.68 389.76L503.98 390.3L505.28 390.2L506.58 390.72L507.88 390.6L509.18 390.26L510.48 390.65L511.78 390.56L513.08 390.29L514.38 390.54L515.68 391.01L516.99 391.22L518.29 390.78L519.59 391.14L520.89 390.92L522.19 391.25L523.49 391.24L524.79 390.91L526.09 390.68L527.39 391.27L528.69 391.53L529.99 391.78L531.3 391.53L532.6 391.73L533.9 392.03L535.2 392.18L536.5 392.55L537.8 392.75L539.1 392.44L540.4 392.56L541.7 392.78L543 392.47L544.31 392.63L545.61 392.57L546.91 392.57L548.21 392.59L549.51 392.73L550.81 392.68L552.11 392.49L553.41 392.48L554.71 392.92L556.01 392.82L557.31 392.81L558.62 392.62L559.92 392.91L561.22 392.79L562.52 392.42L563.82 392.9L565.12 392.61L566.42 392.3L567.72 392.32L569.02 392.87L570.32 392.65L571.62 392.99L572.93 393.11L574.23 392.72L575.53 392.9L576.83 393.3L578.13 393.44L579.43 393.27L580.73 393.55L582.03 393.07L583.33 392.83L584.63 393.16L585.93 392.95L587.24 392.69L588.54 392.55L589.84 392.93L591.14 392.84L592.44 392.72L593.74 392.71L595.04 392.24L596.34 392.08L597.64 391.86L598.94 392.53L600.24 392.91L601.55 392.68L602.85 392.68L604.15 393L605.45 393.11L606.75 392.79L608.05 392.43L609.35 392.85L610.65 393.19L611.95 392.94L613.25 392.95L614.55 393.2L615.86 392.74L617.16 392.91L618.46 393.32L619.76 393.24L621.06 393.25L622.36 393.18L623.66 392.86L624.96 393.32L626.26 393.33L627.56 392.88L628.86 392.81L630.17 392.58L631.47 392.4L632.77 392.27L634.07 392.23L635.37 392.69L636.67 392.23L637.97 392.79L639.27 393.05L640.57 393.13L641.87 393.18L643.17 393.03L644.48 393.02L645.78 392.64L647.08 392.5L648.38 392.73L649.68 393.09L650.98 392.92L652.28 393.07L653.58 393.01L654.88 393.3L656.18 392.98L657.48 392.9L658.79 393.34L660.09 393.06L661.39 393.2L662.69 393.13L663.99 393.38L665.29 393.42L666.59 393.11L667.89 392.03L669.19 391.44L670.49 391.06L671.79 390.64L673.1 390.44L674.4 389.51L675.7 388.95L677 388.56L678.3 388.12L679.6 387.49L679.6 395.11L678.3 395.58L677 396.07L675.7 396.04L674.4 396.46L673.1 397.5L671.79 397.76L670.49 398.35L669.19 399.06L667.89 399.38L666.59 400.09L665.29 400.42L663.99 400.34L662.69 400.29L661.39 400.05L660.09 400.02L658.79 400.54L657.48 400.28L656.18 400.47L654.88 400.67L653.58 400.44L652.28 400.66L650.98 400.62L649.68 400.52L648.38 400.15L647.08 400.27L645.78 400.33L644.48 400.52L643.17 400.41L641.87 400.67L640.57 400.73L639.27 400.78L637.97 400.55L636.67 400.46L635.37 400.69L634.07 400.1L632.77 399.91L631.47 399.94L630.17 400.21L628.86 400.55L627.56 400.33L626.26 400.66L624.96 400.73L623.66 400.38L622.36 400.56L621.06 400.9L619.76 400.93L618.46 400.88L617.16 400.58L615.86 400.4L614.55 400.91L613.25 400.63L611.95 400.57L610.65 400.91L609.35 400.68L608.05 400.1L606.75 400.22L605.45 400.53L604.15 400.24L602.85 400.08L601.55 400.21L600.24 400.22L598.94 399.6L597.64 399.18L596.34 399.41L595.04 399.73L593.74 400.07L592.44 400.04L591.14 400.25L589.84 400.25L588.54 400.12L587.24 400.46L585.93 400.86L584.63 400.92L583.33 400.52L582.03 401.07L580.73 401.31L579.43 401.18L578.13 401.02L576.83 400.63L575.53 400.6L574.23 400.31L572.93 400.46L571.62 400.63L570.32 400.44L569.02 400.71L567.72 400.27L566.42 400.23L565.12 400.51L563.82 400.63L562.52 400.15L561.22 400.55L559.92 400.3L558.62 399.64L557.31 400.05L556.01 399.89L554.71 399.94L553.41 399.69L552.11 399.74L550.81 399.98L549.51 399.85L548.21 399.98L546.91 399.84L545.61 399.96L544.31 400.37L543 399.99L541.7 400.56L540.4 400.27L539.1 400.09L537.8 400.31L536.5 400.15L535.2 399.79L533.9 399.75L532.6 399.3L531.3 398.83L529.99 399.1L528.69 398.79L527.39 398.89L526.09 398.51L524.79 398.52L523.49 398.64L522.19 398.98L520.89 398.7L519.59 398.91L518.29 398.32L516.99 398.42L515.68 398.07L514.38 397.76L513.08 397.32L511.78 397.73L510.48 397.92L509.18 397.51L507.88 397.66L506.58 397.68L505.28 397.31L503.98 397.05L502.68 396.74L501.37 396.81L500.07 396.79L498.77 396.64L497.47 397.01L496.17 396.9L494.87 396.99L493.57 396.47L492.27 396.09L490.97 395.82L489.67 396.04L488.37 396L487.06 395.64L485.76 395.71L484.46 395.18L483.16 395.07L481.86 394.88L480.56 394.88L479.26 394.97L477.96 395.23L476.66 395.27L475.36 394.81L474.06 394.73L472.75 394.99L471.45 394.82L470.15 395.04L468.85 395.04L467.55 395.38L466.25 394.96L464.95 395.05L463.65 395.18L462.35 395.18L461.05 395.24L459.75 395.15L458.44 395.13L457.14 395.36L455.84 395.21L454.54 395.06L453.24 394.78L451.94 394.45L450.64 394.56L449.34 394.47L448.04 394.57L446.74 394.29L445.44 393.76L444.13 393.52L442.83 393.21L441.53 393.34L440.23 393.53L438.93 393.01L437.63 392.47L436.33 391.8L435.03 391.38L433.73 391.15L432.43 390.33L431.13 389.81L429.82 389.5L428.52 389.24L427.22 388.81L425.92 388.88L424.62 388.61L423.32 388.51L422.02 388.61L420.72 388.2L419.42 387.92L418.12 387.32L416.82 386.69L415.51 385.91L414.21 385.03L412.91 384.13L411.61 384.22L410.31 384.16L409.01 384.47L407.71 384.37L406.41 382.83L405.11 383.01L403.81 383.07L402.51 382.92L401.2 382.98L399.9 382.98L398.6 382.98L397.3 382.91L396 383.03L394.7 382.76Z" fill="#f0c85a" opacity="0.47"/>
<path d="M394.7 381.37L396 381.35L397.3 381.42L398.6 381.31L399.9 381.38L401.2 381.34L402.51 381.22L403.81 381.27L405.11 381.16L406.41 381.13L407.71 380.83L409.01 380.74L410.31 380.67L411.61 380.79L412.91 380.31L414.21 380.47L415.51 380.59L416.82 380.9L418.12 381.96L419.42 382.67L420.72 383.11L422.02 383.17L423.32 383.85L424.62 384.07L425.92 384.53L427.22 384.61L428.52 384.63L429.82 384.87L431.13 385.63L432.43 385.8L433.73 386.28L435.03 386.3L436.33 386.7L437.63 386.69L438.93 386.67L440.23 386.87L441.53 387.08L442.83 387.31L444.13 387.74L445.44 388.48L446.74 388.38L448.04 388.67L449.34 389.29L450.64 389.42L451.94 389.55L453.24 389.86L454.54 389.45L455.84 389.9L457.14 389.58L458.44 389.67L459.75 390.07L461.05 390.24L462.35 390.31L463.65 390.67L464.95 390.41L466.25 390.33L467.55 390.01L468.85 389.92L470.15 389.91L471.45 389.74L472.75 389.69L474.06 389.88L475.36 390.12L476.66 390.33L477.96 390.24L479.26 390.1L480.56 390.08L481.86 390.07L483.16 390.77L484.46 390.97L485.76 391.41L487.06 391.33L488.37 391.28L489.67 391.28L490.97 391.03L492.27 391.39L493.57 391.25L494.87 391.27L496.17 391.62L497.47 391.23L498.77 391.75L500.07 391.81L501.37 391.8L502.68 391.75L503.98 391.4L505.28 391.52L506.58 391.33L507.88 391.72L509.18 391.86L510.48 392.26L511.78 392.15L513.08 392.27L514.38 392.06L515.68 392.5L516.99 392.53L518.29 392.15L519.59 392.69L520.89 392.55L522.19 392.44L523.49 392.33L524.79 392.42L526.09 392.56L527.39 392.3L528.69 392.7L529.99 392.66L531.3 392.67L532.6 392.66L533.9 392.88L535.2 393.46L536.5 393.26L537.8 393.56L539.1 393.37L540.4 393.07L541.7 393.05L543 393.37L544.31 393.24L545.61 393.57L546.91 393.89L548.21 393.94L549.51 393.92L550.81 393.87L552.11 393.94L553.41 394.12L554.71 393.97L556.01 394.23L557.31 394.19L558.62 394.68L559.92 394.94L561.22 394.52L562.52 394.76L563.82 394.79L565.12 395.12L566.42 394.76L567.72 394.88L569.02 395.21L570.32 395.27L571.62 394.76L572.93 394.53L574.23 395.02L575.53 394.57L576.83 394.97L578.13 394.91L579.43 394.82L580.73 394.54L582.03 394.87L583.33 394.54L584.63 394.75L585.93 394.52L587.24 394.17L588.54 394.21L589.84 394.73L591.14 394.55L592.44 394.62L593.74 394.41L595.04 394.2L596.34 394.63L597.64 394.55L598.94 394.42L600.24 394.08L601.55 394.09L602.85 394.12L604.15 394.03L605.45 394.49L606.75 394.24L608.05 394.29L609.35 394.3L610.65 394.72L611.95 394.72L613.25 394.83L614.55 395.1L615.86 394.67L617.16 394.43L618.46 394.6L619.76 395.06L621.06 394.63L622.36 395.06L623.66 395.05L624.96 395L626.26 394.72L627.56 394.69L628.86 394.72L630.17 394.82L631.47 394.51L632.77 394.42L634.07 394.75L635.37 394.63L636.67 394.42L637.97 394.66L639.27 395.19L640.57 395.62L641.87 395.16L643.17 395.49L644.48 395.22L645.78 395.55L647.08 395.78L648.38 396.02L649.68 395.63L650.98 395.98L652.28 395.91L653.58 395.58L654.88 395.54L656.18 395.95L657.48 396.25L658.79 395.77L660.09 395.86L661.39 396.11L662.69 395.91L663.99 395.53L665.29 395.66L666.59 395.9L667.89 395.68L669.19 395.16L670.49 394.42L671.79 394.36L673.1 393.64L674.4 393.08L675.7 392.66L677 392.41L678.3 392.42L679.6 391.93" stroke="#6a4b9b" stroke-width="0.9" fill="none" opacity="1" stroke-linejoin="round"/>
<path d="M394.7 381.18L396 381.32L397.3 381.26L398.6 381.27L399.9 381.17L401.2 381.22L402.51 381.13L403.81 381.26L405.11 381.15L406.41 381.21L407.71 381.33L409.01 381.24L410.31 380.87L411.61 381.05L412.91 380.89L414.21 381.93L415.51 382.84L416.82 383.61L418.12 384.32L419.42 385L420.72 385.22L422.02 385.52L423.32 385.46L424.62 385.46L425.92 385.56L427.22 385.67L428.52 386.15L429.82 386.53L431.13 386.71L432.43 387.22L433.73 388.03L435.03 388.32L436.33 388.59L437.63 389.16L438.93 389.73L440.23 390.14L441.53 390.07L442.83 389.99L444.13 390.12L445.44 390.49L446.74 391.13L448.04 391.54L449.34 391.3L450.64 391.25L451.94 391.29L453.24 391.58L454.54 391.86L455.84 392.03L457.14 392.23L458.44 391.99L459.75 392.07L461.05 391.94L462.35 391.97L463.65 391.91L464.95 391.71L466.25 391.54L467.55 391.98L468.85 391.63L470.15 391.47L471.45 391.4L472.75 391.68L474.06 391.45L475.36 391.41L476.66 391.88L477.96 391.86L479.26 391.72L480.56 391.71L481.86 391.58L483.16 391.82L484.46 391.88L485.76 392.45L487.06 392.39L488.37 392.79L489.67 392.61L490.97 392.33L492.27 392.59L493.57 393.06L494.87 393.44L496.17 393.33L497.47 393.57L498.77 393.28L500.07 393.22L501.37 393.31L502.68 393.25L503.98 393.68L505.28 393.76L506.58 394.2L507.88 394.13L509.18 393.89L510.48 394.28L511.78 394.14L513.08 393.8L514.38 394.15L515.68 394.54L516.99 394.82L518.29 394.55L519.59 395.02L520.89 394.81L522.19 395.11L523.49 394.94L524.79 394.72L526.09 394.59L527.39 395.08L528.69 395.16L529.99 395.44L531.3 395.18L532.6 395.51L533.9 395.89L535.2 395.98L536.5 396.35L537.8 396.53L539.1 396.27L540.4 396.42L541.7 396.67L543 396.23L544.31 396.5L545.61 396.27L546.91 396.2L548.21 396.29L549.51 396.29L550.81 396.33L552.11 396.12L553.41 396.08L554.71 396.43L556.01 396.36L557.31 396.43L558.62 396.13L559.92 396.6L561.22 396.67L562.52 396.28L563.82 396.76L565.12 396.56L566.42 396.26L567.72 396.29L569.02 396.79L570.32 396.55L571.62 396.81L572.93 396.79L574.23 396.52L575.53 396.75L576.83 396.97L578.13 397.23L579.43 397.23L580.73 397.43L582.03 397.07L583.33 396.67L584.63 397.04L585.93 396.91L587.24 396.57L588.54 396.33L589.84 396.59L591.14 396.55L592.44 396.38L593.74 396.39L595.04 395.98L596.34 395.75L597.64 395.52L598.94 396.07L600.24 396.56L601.55 396.44L602.85 396.38L604.15 396.62L605.45 396.82L606.75 396.5L608.05 396.27L609.35 396.76L610.65 397.05L611.95 396.75L613.25 396.79L614.55 397.05L615.86 396.57L617.16 396.75L618.46 397.1L619.76 397.08L621.06 397.08L622.36 396.87L623.66 396.62L624.96 397.02L626.26 397L627.56 396.61L628.86 396.68L630.17 396.39L631.47 396.17L632.77 396.09L634.07 396.17L635.37 396.69L636.67 396.34L637.97 396.67L639.27 396.91L640.57 396.93L641.87 396.92L643.17 396.72L644.48 396.77L645.78 396.48L647.08 396.39L648.38 396.44L649.68 396.8L650.98 396.77L652.28 396.87L653.58 396.72L654.88 396.99L656.18 396.73L657.48 396.59L658.79 396.94L660.09 396.54L661.39 396.62L662.69 396.71L663.99 396.86L665.29 396.92L666.59 396.6L667.89 395.7L669.19 395.25L670.49 394.71L671.79 394.2L673.1 393.97L674.4 392.98L675.7 392.49L677 392.32L678.3 391.85L679.6 391.3" stroke="#b08a1c" stroke-width="0.9" fill="none" opacity="1" stroke-linejoin="round"/>
<path d="M394.7 364.1V415.7H679.6" stroke="#8a8a8a" stroke-width="0.8" fill="none"/><path d="M394.7 415.7V413.7" stroke="#6a6a6a" stroke-width="0.6"/><path d="M420.6 415.7V413.7" stroke="#6a6a6a" stroke-width="0.6"/><path d="M446.5 415.7V413.7" stroke="#6a6a6a" stroke-width="0.6"/><path d="M472.4 415.7V413.7" stroke="#6a6a6a" stroke-width="0.6"/><path d="M498.3 415.7V413.7" stroke="#6a6a6a" stroke-width="0.6"/><path d="M524.2 415.7V413.7" stroke="#6a6a6a" stroke-width="0.6"/><path d="M550.1 415.7V413.7" stroke="#6a6a6a" stroke-width="0.6"/><path d="M576 415.7V413.7" stroke="#6a6a6a" stroke-width="0.6"/><path d="M601.9 415.7V413.7" stroke="#6a6a6a" stroke-width="0.6"/><path d="M627.8 415.7V413.7" stroke="#6a6a6a" stroke-width="0.6"/><path d="M653.7 415.7V413.7" stroke="#6a6a6a" stroke-width="0.6"/><path d="M679.6 415.7V413.7" stroke="#6a6a6a" stroke-width="0.6"/><path d="M394.7 364.1H396.7" stroke="#6a6a6a" stroke-width="0.6"/><path d="M394.7 381.3H396.7" stroke="#6a6a6a" stroke-width="0.6"/><path d="M394.7 398.5H396.7" stroke="#6a6a6a" stroke-width="0.6"/><path d="M394.7 415.7H396.7" stroke="#6a6a6a" stroke-width="0.6"/><text x="390.8" y="368.3" font-size="8.8" text-anchor="end" fill="#1a1a1a">0.1</text><text x="390.8" y="385.5" font-size="8.8" text-anchor="end" fill="#1a1a1a">0</text><text x="390.8" y="402.7" font-size="8.8" text-anchor="end" fill="#1a1a1a">−0.1</text><text x="390.8" y="419.9" font-size="8.8" text-anchor="end" fill="#1a1a1a">−0.2</text>
<rect x="501.7" y="366.6" width="70.8" height="16.5" fill="#fff" stroke="#c4c4c4" stroke-width="0.8"/>
<path d="M503.1 374.85H511.9" stroke="#c6b0dc" stroke-width="1"/>
<path d="M538.2 374.85H546.9" stroke="#e9d39c" stroke-width="1"/>
<text x="514.6" y="377.95" font-size="8.8" fill="#1a1a1a">Δ<tspan font-style="italic" dx="1.2">T</tspan><tspan font-size="6.8" dy="2.2">21</tspan></text>
<text x="549.7" y="377.95" font-size="8.8" fill="#1a1a1a">Δ<tspan font-style="italic" dx="1.2">T</tspan><tspan font-size="6.8" dy="2.2">43</tspan></text>
<text x="414" y="411.1" font-size="9.3" fill="#1a1a1a">1 A</text>
<rect x="394.7" y="438.6" width="284.9" height="51.1" fill="#f4f4f4"/><path d="M420.6 438.6V489.7" stroke="#dedede" stroke-width="0.6"/><path d="M446.5 438.6V489.7" stroke="#dedede" stroke-width="0.6"/><path d="M472.4 438.6V489.7" stroke="#dedede" stroke-width="0.6"/><path d="M498.3 438.6V489.7" stroke="#dedede" stroke-width="0.6"/><path d="M524.2 438.6V489.7" stroke="#dedede" stroke-width="0.6"/><path d="M550.1 438.6V489.7" stroke="#dedede" stroke-width="0.6"/><path d="M576 438.6V489.7" stroke="#dedede" stroke-width="0.6"/><path d="M601.9 438.6V489.7" stroke="#dedede" stroke-width="0.6"/><path d="M627.8 438.6V489.7" stroke="#dedede" stroke-width="0.6"/><path d="M653.7 438.6V489.7" stroke="#dedede" stroke-width="0.6"/><path d="M394.7 455.63H679.6" stroke="#dedede" stroke-width="0.6"/><path d="M394.7 472.67H679.6" stroke="#dedede" stroke-width="0.6"/><rect x="394.7" y="438.6" width="12.95" height="51.1" fill="#c9c9c9"/><rect x="666.65" y="438.6" width="12.95" height="51.1" fill="#c9c9c9"/>
<path d="M394.7 453.94L396 453.83L397.3 453.74L398.6 453.61L399.9 453.81L401.2 453.52L402.51 453.44L403.81 453.37L405.11 453.29L406.41 453.44L407.71 451.99L409.01 451.53L410.31 451.07L411.61 450.6L412.91 450.39L414.21 450.35L415.51 450.83L416.82 451.28L418.12 451.41L419.42 451.91L420.72 452.32L422.02 452.11L423.32 452.35L424.62 452.17L425.92 452.4L427.22 452.29L428.52 452.38L429.82 453.02L431.13 453.15L432.43 453.5L433.73 453.75L435.03 454.26L436.33 454.76L437.63 454.89L438.93 455.3L440.23 455.43L441.53 455.23L442.83 454.84L444.13 455.17L445.44 455.77L446.74 455.96L448.04 456.09L449.34 456L450.64 455.86L451.94 455.49L453.24 455.88L454.54 455.59L455.84 455.41L457.14 455.5L458.44 455.66L459.75 455.59L461.05 455.89L462.35 455.37L463.65 455.12L464.95 454.84L466.25 455.08L467.55 454.76L468.85 454.79L470.15 455.16L471.45 455.27L472.75 454.91L474.06 455.08L475.36 454.87L476.66 454.61L477.96 454.48L479.26 454.44L480.56 454.7L481.86 454.49L483.16 454.41L484.46 454.18L485.76 454.45L487.06 454.22L488.37 454.1L489.67 454.37L490.97 454.7L492.27 454.34L493.57 454.46L494.87 454.43L496.17 454.41L497.47 454.53L498.77 454.57L500.07 454.72L501.37 454.53L502.68 454.68L503.98 454.36L505.28 453.99L506.58 453.91L507.88 454.45L509.18 454.32L510.48 454.6L511.78 454.7L513.08 454.88L514.38 454.61L515.68 454.68L516.99 454.64L518.29 454.66L519.59 454.62L520.89 453.91L522.19 453.75L523.49 453.48L524.79 453.4L526.09 453.51L527.39 454.15L528.69 454.57L529.99 454.91L531.3 454.52L532.6 454.6L533.9 454.06L535.2 454.24L536.5 454.54L537.8 454.16L539.1 453.91L540.4 454.37L541.7 454.62L543 454.47L544.31 454.13L545.61 454.09L546.91 453.74L548.21 453.82L549.51 453.4L550.81 453.6L552.11 453.94L553.41 454.41L554.71 454.15L556.01 453.91L557.31 453.71L558.62 453.42L559.92 453.4L561.22 453.78L562.52 453.8L563.82 453.53L565.12 453.99L566.42 453.44L567.72 453.72L569.02 454.13L570.32 454.03L571.62 453.54L572.93 453.63L574.23 453.87L575.53 453.46L576.83 453.81L578.13 453.44L579.43 453.56L580.73 453.5L582.03 453.33L583.33 453.49L584.63 453.72L585.93 453.23L587.24 453.34L588.54 453.61L589.84 453.54L591.14 453.31L592.44 453.53L593.74 453.37L595.04 453.72L596.34 453.5L597.64 453.89L598.94 453.56L600.24 453.35L601.55 453.31L602.85 453.2L604.15 453.52L605.45 453.46L606.75 453.63L608.05 453.77L609.35 453.45L610.65 453.44L611.95 453.44L613.25 453.22L614.55 452.94L615.86 452.91L617.16 453.43L618.46 453.36L619.76 453.8L621.06 453.45L622.36 453.53L623.66 453.77L624.96 453.59L626.26 453.61L627.56 453.88L628.86 453.68L630.17 454.13L631.47 454.61L632.77 454.58L634.07 454.67L635.37 454.59L636.67 454.3L637.97 454.27L639.27 453.9L640.57 454.04L641.87 453.5L643.17 453.12L644.48 453.38L645.78 453.29L647.08 453.83L648.38 453.57L649.68 453.66L650.98 453.87L652.28 453.45L653.58 453.48L654.88 453.76L656.18 454.18L657.48 454L658.79 454.15L660.09 453.89L661.39 454.22L662.69 454.06L663.99 453.72L665.29 454.09L666.59 453.88L667.89 453.31L669.19 453.45L670.49 453.37L671.79 452.74L673.1 452.45L674.4 452.41L675.7 452.47L677 452.92L678.3 452.51L679.6 451.93L679.6 468.39L678.3 468.85L677 469.42L675.7 469.2L674.4 469.43L673.1 469.52L671.79 470.14L670.49 470.7L669.19 470.87L667.89 470.67L666.59 470.98L665.29 471.07L663.99 470.91L662.69 471.28L661.39 471.76L660.09 471.34L658.79 471.36L657.48 470.9L656.18 471.36L654.88 470.93L653.58 470.27L652.28 469.95L650.98 470.24L649.68 470.05L648.38 469.85L647.08 470.29L645.78 469.82L644.48 470.01L643.17 470.06L641.87 470.39L640.57 470.66L639.27 470.49L637.97 471.15L636.67 471.17L635.37 471.44L634.07 471.56L632.77 471.37L631.47 471.31L630.17 471.14L628.86 470.76L627.56 471.37L626.26 471.02L624.96 470.92L623.66 470.84L622.36 470.85L621.06 470.99L619.76 471.28L618.46 471.12L617.16 471.04L615.86 470.43L614.55 470.69L613.25 470.84L611.95 470.83L610.65 470.49L609.35 470.7L608.05 470.67L606.75 470.68L605.45 470.28L604.15 470.13L602.85 469.97L601.55 469.87L600.24 469.91L598.94 469.88L597.64 470.41L596.34 470.13L595.04 470.65L593.74 470.56L592.44 470.49L591.14 469.98L589.84 470.31L588.54 470.55L587.24 470.53L585.93 470.62L584.63 470.93L583.33 470.8L582.03 470.63L580.73 470.53L579.43 470.78L578.13 470.72L576.83 470.8L575.53 470.46L574.23 470.62L572.93 470.46L571.62 470.5L570.32 470.59L569.02 470.61L567.72 470.28L566.42 470.21L565.12 470.39L563.82 470.04L562.52 470.38L561.22 470.67L559.92 470.5L558.62 470.48L557.31 470.92L556.01 470.87L554.71 470.87L553.41 471.34L552.11 471.18L550.81 470.99L549.51 470.82L548.21 470.93L546.91 470.79L545.61 470.93L544.31 471.35L543 471.73L541.7 471.69L540.4 471.87L539.1 471.59L537.8 471.61L536.5 471.7L535.2 471.47L533.9 471.11L532.6 471.52L531.3 471.54L529.99 471.48L528.69 471.4L527.39 471.1L526.09 470.82L524.79 470.75L523.49 470.89L522.19 471.02L520.89 470.96L519.59 471.22L518.29 471.43L516.99 471.28L515.68 471.14L514.38 470.63L513.08 470.58L511.78 470.23L510.48 470.21L509.18 469.84L507.88 469.89L506.58 469.53L505.28 469.42L503.98 469.85L502.68 470.49L501.37 470.23L500.07 470.1L498.77 469.7L497.47 469.34L496.17 468.99L494.87 468.86L493.57 468.54L492.27 468.65L490.97 468.91L489.67 468.65L488.37 468.21L487.06 468.31L485.76 468.09L484.46 467.41L483.16 467.36L481.86 467.31L480.56 467.54L479.26 467.44L477.96 466.96L476.66 467.16L475.36 467.54L474.06 467.8L472.75 467.25L471.45 467.63L470.15 467.51L468.85 467.23L467.55 466.79L466.25 467.21L464.95 467.22L463.65 467.16L462.35 467.27L461.05 467.35L459.75 467.16L458.44 467.12L457.14 466.77L455.84 466.79L454.54 466.61L453.24 466.5L451.94 466.11L450.64 466.06L449.34 466.39L448.04 466.04L446.74 465.51L445.44 465.18L444.13 464.62L442.83 464.26L441.53 464.41L440.23 464.74L438.93 464.66L437.63 464.1L436.33 463.89L435.03 463.38L433.73 462.86L432.43 462.46L431.13 461.76L429.82 461.69L428.52 461.01L427.22 460.54L425.92 460.16L424.62 459.88L423.32 460L422.02 459.38L420.72 459.63L419.42 459.24L418.12 458.85L416.82 458.97L415.51 458.26L414.21 458.02L412.91 457.83L411.61 458.04L410.31 458.16L409.01 458.84L407.71 459.18L406.41 457.05L405.11 457.24L403.81 457.22L402.51 457.17L401.2 457.17L399.9 457.1L398.6 457.3L397.3 457.14L396 457.31L394.7 457.33Z" fill="#af8cd7" opacity="0.42"/>
<path d="M394.7 454.27L396 454.44L397.3 454.16L398.6 454.28L399.9 454.45L401.2 454.24L402.51 454.45L403.81 454.53L405.11 454.71L406.41 454.46L407.71 452.54L409.01 453.82L410.31 455.41L411.61 456.57L412.91 457.73L414.21 458.89L415.51 460.49L416.82 461.66L418.12 463.14L419.42 464.56L420.72 466.01L422.02 466.43L423.32 467.04L424.62 467.48L425.92 467.75L427.22 468.57L428.52 469.35L429.82 470.09L431.13 470.15L432.43 471.18L433.73 471.98L435.03 472.32L436.33 472.21L437.63 472.83L438.93 473.31L440.23 473.13L441.53 473.32L442.83 473.42L444.13 474.23L445.44 474.7L446.74 475.21L448.04 475.19L449.34 474.72L450.64 474.39L451.94 473.95L453.24 474.12L454.54 474.09L455.84 473.83L457.14 474.22L458.44 474.46L459.75 474.11L461.05 474.22L462.35 474.31L463.65 474.37L464.95 473.95L466.25 474.21L467.55 474.64L468.85 475.03L470.15 474.8L471.45 475.01L472.75 474.79L474.06 475.09L475.36 474.8L476.66 474.9L477.96 474.59L479.26 475.04L480.56 475.09L481.86 474.86L483.16 475.19L484.46 474.69L485.76 474.4L487.06 474.14L488.37 474.01L489.67 473.75L490.97 473.97L492.27 474L493.57 474.29L494.87 474.84L496.17 474.61L497.47 474.26L498.77 474.63L500.07 475L501.37 475.21L502.68 475.02L503.98 475.45L505.28 474.92L506.58 475.31L507.88 475.16L509.18 474.91L510.48 474.99L511.78 475.44L513.08 475.71L514.38 475.41L515.68 475.81L516.99 475.72L518.29 475.46L519.59 475.69L520.89 475.79L522.19 475.42L523.49 475.03L524.79 475.01L526.09 475.56L527.39 475.47L528.69 475.05L529.99 475L531.3 475.28L532.6 474.95L533.9 475.19L535.2 475.21L536.5 475.44L537.8 475L539.1 474.96L540.4 475.15L541.7 475.37L543 475.47L544.31 475.57L545.61 475.4L546.91 475.83L548.21 475.39L549.51 475.32L550.81 475.6L552.11 475.93L553.41 475.63L554.71 475.65L556.01 475.87L557.31 475.49L558.62 474.93L559.92 474.99L561.22 475.03L562.52 474.88L563.82 474.83L565.12 474.66L566.42 474.36L567.72 473.99L569.02 473.88L570.32 474L571.62 473.8L572.93 473.67L574.23 473.73L575.53 473.75L576.83 473.67L578.13 474.27L579.43 474.5L580.73 474.29L582.03 474.27L583.33 474.34L584.63 474.23L585.93 474.48L587.24 474.06L588.54 474.12L589.84 473.61L591.14 473.88L592.44 473.53L593.74 473.87L595.04 473.63L596.34 474.01L597.64 473.8L598.94 473.9L600.24 473.38L601.55 473.34L602.85 473.45L604.15 473.92L605.45 474.01L606.75 474.26L608.05 474.42L609.35 474.22L610.65 474.32L611.95 473.89L613.25 473.75L614.55 474.24L615.86 474.12L617.16 474.18L618.46 473.9L619.76 474.39L621.06 474.63L622.36 474.72L623.66 474.91L624.96 475.15L626.26 475.37L627.56 475.48L628.86 475.31L630.17 475.25L631.47 474.95L632.77 475.18L634.07 475.4L635.37 475.6L636.67 475.81L637.97 475.93L639.27 476L640.57 476.16L641.87 475.91L643.17 476.22L644.48 475.64L645.78 475L647.08 474.94L648.38 475.24L649.68 475.6L650.98 476.01L652.28 476.14L653.58 475.54L654.88 475.03L656.18 474.71L657.48 474.88L658.79 474.83L660.09 474.56L661.39 474.48L662.69 474.32L663.99 474.6L665.29 474.19L666.59 474.05L667.89 473.33L669.19 472.46L670.49 471.09L671.79 469.57L673.1 468.98L674.4 468.11L675.7 467.25L677 465.86L678.3 464.46L679.6 463.07L679.6 473.76L678.3 474.88L677 476.04L675.7 477.42L674.4 478.15L673.1 479.05L671.79 479.66L670.49 481.02L669.19 482.37L667.89 483.4L666.59 484.27L665.29 484.26L663.99 484.92L662.69 484.38L661.39 484.47L660.09 484.69L658.79 484.88L657.48 485.03L656.18 484.98L654.88 485.44L653.58 485.68L652.28 486.06L650.98 485.98L649.68 485.83L648.38 485.67L647.08 485.36L645.78 485.43L644.48 485.72L643.17 486.04L641.87 485.95L640.57 486.14L639.27 485.93L637.97 486.07L636.67 486.24L635.37 485.8L634.07 485.76L632.77 485.56L631.47 485.25L630.17 485.66L628.86 485.69L627.56 485.69L626.26 485.44L624.96 485.24L623.66 485.13L622.36 484.57L621.06 484.71L619.76 484.56L618.46 484.23L617.16 484.45L615.86 484.2L614.55 484.65L613.25 483.93L611.95 484.04L610.65 484.36L609.35 484.47L608.05 484.72L606.75 484.16L605.45 483.82L604.15 483.83L602.85 483.31L601.55 483.28L600.24 483.58L598.94 483.83L597.64 483.79L596.34 483.69L595.04 483.36L593.74 483.61L592.44 483.53L591.14 484.05L589.84 483.97L588.54 484.34L587.24 484.18L585.93 484.43L584.63 484.3L583.33 484.64L582.03 484.36L580.73 484.26L579.43 484.46L578.13 484.09L576.83 483.62L575.53 483.69L574.23 483.72L572.93 483.87L571.62 483.87L570.32 483.83L569.02 483.95L567.72 484.27L566.42 484.37L565.12 484.78L563.82 484.8L562.52 484.88L561.22 484.86L559.92 485.13L558.62 484.93L557.31 485.41L556.01 485.73L554.71 485.6L553.41 485.57L552.11 486.01L550.81 485.98L549.51 485.42L548.21 485.79L546.91 485.86L545.61 485.42L544.31 485.21L543 485.18L541.7 484.86L540.4 484.89L539.1 484.93L537.8 485.06L536.5 485.27L535.2 484.81L533.9 484.75L532.6 484.5L531.3 484.89L529.99 484.59L528.69 484.38L527.39 484.8L526.09 484.76L524.79 484.52L523.49 484.65L522.19 484.72L520.89 485.15L519.59 484.62L518.29 484.66L516.99 484.82L515.68 484.59L514.38 484.36L513.08 484.63L511.78 484.18L510.48 483.95L509.18 483.94L507.88 484.26L506.58 484.04L505.28 483.52L503.98 483.57L502.68 483.32L501.37 483.49L500.07 483.12L498.77 483.05L497.47 482.57L496.17 482.62L494.87 482.96L493.57 482.34L492.27 481.89L490.97 481.95L489.67 481.63L488.37 481.53L487.06 481.63L485.76 481.79L484.46 482.15L483.16 482.55L481.86 482.44L480.56 482.57L479.26 482.57L477.96 482.36L476.66 482.39L475.36 482.28L474.06 482.16L472.75 482.02L471.45 482.32L470.15 481.99L468.85 482.26L467.55 481.89L466.25 481.53L464.95 481.68L463.65 481.82L462.35 481.6L461.05 481.58L459.75 481.25L458.44 481.17L457.14 481.07L455.84 480.89L454.54 481.14L453.24 481.04L451.94 480.68L450.64 480.64L449.34 481.18L448.04 481.69L446.74 481.76L445.44 481.34L444.13 480.94L442.83 480.28L441.53 479.9L440.23 479.65L438.93 479.46L437.63 478.84L436.33 478.45L435.03 478.13L433.73 477.8L432.43 477.03L431.13 476.31L429.82 475.92L428.52 475.38L427.22 474.61L425.92 473.69L424.62 473.5L423.32 473.02L422.02 472.71L420.72 472.28L419.42 470.66L418.12 469.01L416.82 467.18L415.51 465.83L414.21 464.38L412.91 463.37L411.61 461.95L410.31 460.46L409.01 459.02L407.71 457.62L406.41 456.66L405.11 456.67L403.81 456.67L402.51 456.73L401.2 456.81L399.9 456.8L398.6 456.94L397.3 456.87L396 456.83L394.7 456.78Z" fill="#f0c85a" opacity="0.47"/>
<path d="M394.7 455.63L396 455.57L397.3 455.44L398.6 455.46L399.9 455.46L401.2 455.35L402.51 455.31L403.81 455.3L405.11 455.26L406.41 455.25L407.71 455.58L409.01 455.18L410.31 454.62L411.61 454.32L412.91 454.11L414.21 454.19L415.51 454.54L416.82 455.12L418.12 455.13L419.42 455.57L420.72 455.98L422.02 455.74L423.32 456.18L424.62 456.03L425.92 456.28L427.22 456.42L428.52 456.69L429.82 457.35L431.13 457.45L432.43 457.98L433.73 458.31L435.03 458.82L436.33 459.32L437.63 459.49L438.93 459.98L440.23 460.08L441.53 459.82L442.83 459.55L444.13 459.89L445.44 460.48L446.74 460.73L448.04 461.07L449.34 461.2L450.64 460.96L451.94 460.8L453.24 461.19L454.54 461.1L455.84 461.1L457.14 461.13L458.44 461.39L459.75 461.38L461.05 461.62L462.35 461.32L463.65 461.14L464.95 461.03L466.25 461.14L467.55 460.78L468.85 461.01L470.15 461.34L471.45 461.45L472.75 461.08L474.06 461.44L475.36 461.2L476.66 460.88L477.96 460.72L479.26 460.94L480.56 461.12L481.86 460.9L483.16 460.88L484.46 460.79L485.76 461.27L487.06 461.26L488.37 461.16L489.67 461.51L490.97 461.81L492.27 461.49L493.57 461.5L494.87 461.65L496.17 461.7L497.47 461.94L498.77 462.13L500.07 462.41L501.37 462.38L502.68 462.58L503.98 462.1L505.28 461.7L506.58 461.72L507.88 462.17L509.18 462.08L510.48 462.4L511.78 462.47L513.08 462.73L514.38 462.62L515.68 462.91L516.99 462.96L518.29 463.05L519.59 462.92L520.89 462.44L522.19 462.39L523.49 462.18L524.79 462.08L526.09 462.16L527.39 462.63L528.69 462.98L529.99 463.19L531.3 463.03L532.6 463.06L533.9 462.58L535.2 462.86L536.5 463.12L537.8 462.89L539.1 462.75L540.4 463.12L541.7 463.16L543 463.1L544.31 462.74L545.61 462.51L546.91 462.27L548.21 462.37L549.51 462.11L550.81 462.29L552.11 462.56L553.41 462.88L554.71 462.51L556.01 462.39L557.31 462.32L558.62 461.95L559.92 461.95L561.22 462.22L562.52 462.09L563.82 461.79L565.12 462.19L566.42 461.83L567.72 462L569.02 462.37L570.32 462.31L571.62 462.02L572.93 462.05L574.23 462.24L575.53 461.96L576.83 462.31L578.13 462.08L579.43 462.17L580.73 462.02L582.03 461.98L583.33 462.15L584.63 462.32L585.93 461.93L587.24 461.94L588.54 462.08L589.84 461.92L591.14 461.65L592.44 462.01L593.74 461.96L595.04 462.18L596.34 461.81L597.64 462.15L598.94 461.72L600.24 461.63L601.55 461.59L602.85 461.58L604.15 461.83L605.45 461.87L606.75 462.15L608.05 462.22L609.35 462.07L610.65 461.96L611.95 462.14L613.25 462.03L614.55 461.81L615.86 461.67L617.16 462.23L618.46 462.24L619.76 462.54L621.06 462.22L622.36 462.19L623.66 462.31L624.96 462.26L626.26 462.31L627.56 462.63L628.86 462.22L630.17 462.63L631.47 462.96L632.77 462.98L634.07 463.12L635.37 463.02L636.67 462.73L637.97 462.71L639.27 462.19L640.57 462.35L641.87 461.94L643.17 461.59L644.48 461.7L645.78 461.55L647.08 462.06L648.38 461.71L649.68 461.86L650.98 462.05L652.28 461.7L653.58 461.87L654.88 462.34L656.18 462.77L657.48 462.45L658.79 462.75L660.09 462.61L661.39 462.99L662.69 462.67L663.99 462.32L665.29 462.58L666.59 462.43L667.89 461.99L669.19 462.16L670.49 462.03L671.79 461.44L673.1 460.98L674.4 460.92L675.7 460.84L677 461.17L678.3 460.68L679.6 460.16" stroke="#6a4b9b" stroke-width="0.9" fill="none" opacity="1" stroke-linejoin="round"/>
<path d="M394.7 455.52L396 455.63L397.3 455.51L398.6 455.61L399.9 455.63L401.2 455.53L402.51 455.59L403.81 455.6L405.11 455.69L406.41 455.56L407.71 455.08L409.01 456.42L410.31 457.94L411.61 459.26L412.91 460.55L414.21 461.64L415.51 463.16L416.82 464.42L418.12 466.08L419.42 467.61L420.72 469.15L422.02 469.57L423.32 470.03L424.62 470.49L425.92 470.72L427.22 471.59L428.52 472.37L429.82 473.01L431.13 473.23L432.43 474.1L433.73 474.89L435.03 475.22L436.33 475.33L437.63 475.83L438.93 476.38L440.23 476.39L441.53 476.61L442.83 476.85L444.13 477.59L445.44 478.02L446.74 478.49L448.04 478.44L449.34 477.95L450.64 477.52L451.94 477.32L453.24 477.58L454.54 477.61L455.84 477.36L457.14 477.64L458.44 477.82L459.75 477.68L461.05 477.9L462.35 477.96L463.65 478.1L464.95 477.82L466.25 477.87L467.55 478.27L468.85 478.64L470.15 478.4L471.45 478.66L472.75 478.41L474.06 478.63L475.36 478.54L476.66 478.65L477.96 478.48L479.26 478.81L480.56 478.83L481.86 478.65L483.16 478.87L484.46 478.42L485.76 478.09L487.06 477.89L488.37 477.77L489.67 477.69L490.97 477.96L492.27 477.95L493.57 478.32L494.87 478.9L496.17 478.61L497.47 478.42L498.77 478.84L500.07 479.06L501.37 479.35L502.68 479.17L503.98 479.51L505.28 479.22L506.58 479.67L507.88 479.71L509.18 479.43L510.48 479.47L511.78 479.81L513.08 480.17L514.38 479.89L515.68 480.2L516.99 480.27L518.29 480.06L519.59 480.16L520.89 480.47L522.19 480.07L523.49 479.84L524.79 479.77L526.09 480.16L527.39 480.13L528.69 479.72L529.99 479.8L531.3 480.08L532.6 479.73L533.9 479.97L535.2 480.01L536.5 480.36L537.8 480.03L539.1 479.94L540.4 480.02L541.7 480.12L543 480.33L544.31 480.39L545.61 480.41L546.91 480.84L548.21 480.59L549.51 480.37L550.81 480.79L552.11 480.97L553.41 480.6L554.71 480.62L556.01 480.8L557.31 480.45L558.62 479.93L559.92 480.06L561.22 479.95L562.52 479.88L563.82 479.81L565.12 479.72L566.42 479.36L567.72 479.13L569.02 478.91L570.32 478.91L571.62 478.84L572.93 478.77L574.23 478.72L575.53 478.72L576.83 478.65L578.13 479.18L579.43 479.48L580.73 479.28L582.03 479.31L583.33 479.49L584.63 479.26L585.93 479.46L587.24 479.12L588.54 479.23L589.84 478.79L591.14 478.96L592.44 478.53L593.74 478.74L595.04 478.49L596.34 478.85L597.64 478.79L598.94 478.87L600.24 478.48L601.55 478.31L602.85 478.38L604.15 478.87L605.45 478.91L606.75 479.21L608.05 479.57L609.35 479.35L610.65 479.34L611.95 478.96L613.25 478.84L614.55 479.45L615.86 479.16L617.16 479.32L618.46 479.06L619.76 479.47L621.06 479.67L622.36 479.64L623.66 480.02L624.96 480.2L626.26 480.41L627.56 480.59L628.86 480.5L630.17 480.46L631.47 480.1L632.77 480.37L634.07 480.58L635.37 480.7L636.67 481.03L637.97 481L639.27 480.96L640.57 481.15L641.87 480.93L643.17 481.13L644.48 480.68L645.78 480.22L647.08 480.15L648.38 480.45L649.68 480.72L650.98 481L652.28 481.1L653.58 480.61L654.88 480.24L656.18 479.85L657.48 479.96L658.79 479.85L660.09 479.62L661.39 479.47L662.69 479.35L663.99 479.76L665.29 479.23L666.59 479.16L667.89 478.36L669.19 477.41L670.49 476.05L671.79 474.61L673.1 474.01L674.4 473.13L675.7 472.33L677 470.95L678.3 469.67L679.6 468.42" stroke="#b08a1c" stroke-width="0.9" fill="none" opacity="1" stroke-linejoin="round"/>
<path d="M394.7 438.6V489.7H679.6" stroke="#8a8a8a" stroke-width="0.8" fill="none"/><path d="M394.7 489.7V487.7" stroke="#6a6a6a" stroke-width="0.6"/><path d="M420.6 489.7V487.7" stroke="#6a6a6a" stroke-width="0.6"/><path d="M446.5 489.7V487.7" stroke="#6a6a6a" stroke-width="0.6"/><path d="M472.4 489.7V487.7" stroke="#6a6a6a" stroke-width="0.6"/><path d="M498.3 489.7V487.7" stroke="#6a6a6a" stroke-width="0.6"/><path d="M524.2 489.7V487.7" stroke="#6a6a6a" stroke-width="0.6"/><path d="M550.1 489.7V487.7" stroke="#6a6a6a" stroke-width="0.6"/><path d="M576 489.7V487.7" stroke="#6a6a6a" stroke-width="0.6"/><path d="M601.9 489.7V487.7" stroke="#6a6a6a" stroke-width="0.6"/><path d="M627.8 489.7V487.7" stroke="#6a6a6a" stroke-width="0.6"/><path d="M653.7 489.7V487.7" stroke="#6a6a6a" stroke-width="0.6"/><path d="M679.6 489.7V487.7" stroke="#6a6a6a" stroke-width="0.6"/><path d="M394.7 438.6H396.7" stroke="#6a6a6a" stroke-width="0.6"/><path d="M394.7 455.63H396.7" stroke="#6a6a6a" stroke-width="0.6"/><path d="M394.7 472.67H396.7" stroke="#6a6a6a" stroke-width="0.6"/><path d="M394.7 489.7H396.7" stroke="#6a6a6a" stroke-width="0.6"/><text x="390.8" y="442.8" font-size="8.8" text-anchor="end" fill="#1a1a1a">0.1</text><text x="390.8" y="459.83" font-size="8.8" text-anchor="end" fill="#1a1a1a">0</text><text x="390.8" y="476.87" font-size="8.8" text-anchor="end" fill="#1a1a1a">−0.1</text><text x="390.8" y="493.9" font-size="8.8" text-anchor="end" fill="#1a1a1a">−0.2</text>
<rect x="501.7" y="441" width="70.8" height="16.5" fill="#fff" stroke="#c4c4c4" stroke-width="0.8"/>
<path d="M503.1 449.25H511.9" stroke="#6a4b9b" stroke-width="1"/>
<path d="M538.2 449.25H546.9" stroke="#b08a1c" stroke-width="1"/>
<text x="514.6" y="452.35" font-size="8.8" fill="#1a1a1a">Δ<tspan font-style="italic" dx="1.2">T</tspan><tspan font-size="6.8" dy="2.2">21</tspan></text>
<text x="549.7" y="452.35" font-size="8.8" fill="#1a1a1a">Δ<tspan font-style="italic" dx="1.2">T</tspan><tspan font-size="6.8" dy="2.2">43</tspan></text>
<text x="410" y="485.1" font-size="9.3" fill="#1a1a1a">2.5 A</text>
<rect x="394.7" y="513.1" width="284.9" height="50.7" fill="#f4f4f4"/><path d="M420.6 513.1V563.8" stroke="#dedede" stroke-width="0.6"/><path d="M446.5 513.1V563.8" stroke="#dedede" stroke-width="0.6"/><path d="M472.4 513.1V563.8" stroke="#dedede" stroke-width="0.6"/><path d="M498.3 513.1V563.8" stroke="#dedede" stroke-width="0.6"/><path d="M524.2 513.1V563.8" stroke="#dedede" stroke-width="0.6"/><path d="M550.1 513.1V563.8" stroke="#dedede" stroke-width="0.6"/><path d="M576 513.1V563.8" stroke="#dedede" stroke-width="0.6"/><path d="M601.9 513.1V563.8" stroke="#dedede" stroke-width="0.6"/><path d="M627.8 513.1V563.8" stroke="#dedede" stroke-width="0.6"/><path d="M653.7 513.1V563.8" stroke="#dedede" stroke-width="0.6"/><path d="M394.7 530H679.6" stroke="#dedede" stroke-width="0.6"/><path d="M394.7 546.9H679.6" stroke="#dedede" stroke-width="0.6"/><rect x="394.7" y="513.1" width="12.95" height="50.7" fill="#c9c9c9"/><rect x="666.65" y="513.1" width="12.95" height="50.7" fill="#c9c9c9"/>
<path d="M394.7 528.74L396 528.69L397.3 528.93L398.6 528.86L399.9 528.77L401.2 528.46L402.51 528.39L403.81 528.54L405.11 528.65L406.41 528.68L407.71 527.95L409.01 527.16L410.31 526.76L411.61 525.95L412.91 526.22L414.21 526.68L415.51 527.4L416.82 527.63L418.12 528.29L419.42 528.17L420.72 528.72L422.02 529.16L423.32 528.68L424.62 528.79L425.92 528.78L427.22 528.46L428.52 528.58L429.82 529.05L431.13 529.65L432.43 530.02L433.73 529.92L435.03 530.17L436.33 530.68L437.63 531.11L438.93 531.1L440.23 531.38L441.53 531.7L442.83 531.89L444.13 532.06L445.44 532.02L446.74 531.98L448.04 531.75L449.34 531.47L450.64 531.72L451.94 532.03L453.24 532.22L454.54 532.22L455.84 532.21L457.14 532.02L458.44 532.26L459.75 532.63L461.05 532.07L462.35 531.88L463.65 531.87L464.95 531.67L466.25 531.52L467.55 531.97L468.85 532.32L470.15 532.33L471.45 532.24L472.75 532.19L474.06 532.29L475.36 532.42L476.66 532.62L477.96 532.13L479.26 531.85L480.56 531.88L481.86 532.16L483.16 532.39L484.46 532.43L485.76 532.67L487.06 532.62L488.37 532.65L489.67 532.7L490.97 532.46L492.27 532.57L493.57 532.43L494.87 532.57L496.17 532.54L497.47 532.19L498.77 532.17L500.07 531.97L501.37 532.36L502.68 532.33L503.98 532.25L505.28 532.31L506.58 532.16L507.88 532.6L509.18 533.02L510.48 533.05L511.78 533.21L513.08 533.3L514.38 533.1L515.68 532.77L516.99 532.4L518.29 532.4L519.59 532.42L520.89 532.8L522.19 532.87L523.49 533.13L524.79 533.44L526.09 533.23L527.39 532.96L528.69 533.08L529.99 532.86L531.3 532.8L532.6 533L533.9 532.82L535.2 533.32L536.5 533.65L537.8 533.85L539.1 533.56L540.4 533.85L541.7 533.48L543 533.9L544.31 533.75L545.61 533.56L546.91 533.47L548.21 533.87L549.51 534.19L550.81 533.78L552.11 533.58L553.41 533.56L554.71 533.03L556.01 533.1L557.31 533.35L558.62 533.21L559.92 533.65L561.22 533.29L562.52 533.56L563.82 533.65L565.12 533.01L566.42 533.13L567.72 533.45L569.02 532.92L570.32 533.26L571.62 533.25L572.93 533.67L574.23 533.86L575.53 533.5L576.83 533.03L578.13 533.24L579.43 532.75L580.73 532.6L582.03 532.37L583.33 532.03L584.63 532.01L585.93 532.47L587.24 532.73L588.54 532.29L589.84 532.63L591.14 532.88L592.44 532.52L593.74 532.24L595.04 532.03L596.34 531.85L597.64 532.15L598.94 531.62L600.24 532.05L601.55 532.26L602.85 531.66L604.15 531.91L605.45 531.63L606.75 531.74L608.05 531.7L609.35 531.88L610.65 532.04L611.95 531.77L613.25 532.15L614.55 532.38L615.86 532.11L617.16 531.87L618.46 531.86L619.76 531.99L621.06 532.34L622.36 532.39L623.66 532.46L624.96 532.32L626.26 532.67L627.56 533.01L628.86 532.88L630.17 532.96L631.47 532.54L632.77 532.47L634.07 532.71L635.37 532.4L636.67 532.54L637.97 532.27L639.27 531.94L640.57 532.18L641.87 532.37L643.17 532.32L644.48 531.94L645.78 531.85L647.08 531.57L648.38 531.56L649.68 531.89L650.98 532.09L652.28 532.09L653.58 532.23L654.88 532.18L656.18 531.94L657.48 531.91L658.79 532.16L660.09 532.25L661.39 532.75L662.69 532.87L663.99 532.87L665.29 533.35L666.59 533.06L667.89 532.72L669.19 532.69L670.49 532.31L671.79 531.86L673.1 531.97L674.4 531.28L675.7 530.8L677 530.51L678.3 530.7L679.6 530.33L679.6 539.78L678.3 540.19L677 540.28L675.7 540.44L674.4 540.68L673.1 541.35L671.79 541.27L670.49 541.87L669.19 541.98L667.89 542.03L666.59 542.26L665.29 542.73L663.99 542.31L662.69 542.5L661.39 542.18L660.09 541.65L658.79 541.7L657.48 541.05L656.18 541.31L654.88 541.35L653.58 541.54L652.28 541.69L650.98 541.67L649.68 541.28L648.38 541.37L647.08 541.09L645.78 541.31L644.48 541.54L643.17 541.89L641.87 541.94L640.57 541.72L639.27 541.6L637.97 541.56L636.67 541.84L635.37 542.04L634.07 542.63L632.77 542.21L631.47 542.21L630.17 542.4L628.86 542.13L627.56 541.77L626.26 541.64L624.96 541.29L623.66 541.53L622.36 541.58L621.06 541.69L619.76 541.44L618.46 541.69L617.16 541.74L615.86 541.81L614.55 542.06L613.25 541.9L611.95 541.27L610.65 541.42L609.35 541.28L608.05 541.5L606.75 541.51L605.45 541.64L604.15 541.95L602.85 541.53L601.55 541.9L600.24 541.85L598.94 541.37L597.64 541.6L596.34 541.58L595.04 541.46L593.74 541.74L592.44 542.06L591.14 542.27L589.84 542.41L588.54 542.2L587.24 542.71L585.93 542.39L584.63 541.91L583.33 541.69L582.03 542.15L580.73 542.28L579.43 542.55L578.13 542.84L576.83 542.63L575.53 542.86L574.23 542.89L572.93 542.84L571.62 542.61L570.32 542.7L569.02 542.56L567.72 542.95L566.42 542.79L565.12 542.94L563.82 543.34L562.52 542.93L561.22 542.48L559.92 542.85L558.62 542.67L557.31 542.51L556.01 542.6L554.71 542.32L553.41 542.45L552.11 542.54L550.81 542.94L549.51 543.15L548.21 542.93L546.91 542.83L545.61 543.19L544.31 543.01L543 542.83L541.7 542.46L540.4 543.03L539.1 542.94L537.8 543.11L536.5 543.15L535.2 543.17L533.9 542.72L532.6 543.14L531.3 542.95L529.99 542.89L528.69 543.14L527.39 542.95L526.09 543L524.79 543.02L523.49 542.66L522.19 542.44L520.89 542.33L519.59 542.19L518.29 542.05L516.99 542.13L515.68 542.43L514.38 542.54L513.08 542.75L511.78 542.62L510.48 542.13L509.18 542.11L507.88 541.58L506.58 541.42L505.28 541.36L503.98 541.19L502.68 541.15L501.37 540.79L500.07 540.68L498.77 541.09L497.47 540.84L496.17 541.07L494.87 541L493.57 540.74L492.27 540.58L490.97 540.19L489.67 540.58L488.37 540.6L487.06 540.2L485.76 540.39L484.46 540.06L483.16 540.23L481.86 539.62L480.56 539.57L479.26 539.27L477.96 539.67L476.66 539.89L475.36 539.64L474.06 539.34L472.75 539.35L471.45 539.22L470.15 539.49L468.85 539.5L467.55 539.25L466.25 538.59L464.95 538.85L463.65 538.86L462.35 539L461.05 539.05L459.75 539.13L458.44 538.91L457.14 538.9L455.84 538.77L454.54 539.09L453.24 538.75L451.94 538.73L450.64 538.31L449.34 538.08L448.04 538.44L446.74 538.46L445.44 538.42L444.13 538.27L442.83 538.14L441.53 537.94L440.23 537.43L438.93 537.46L437.63 537.13L436.33 536.49L435.03 536.33L433.73 536.28L432.43 536.32L431.13 535.88L429.82 535.34L428.52 534.65L427.22 534.32L425.92 534.26L424.62 534.67L423.32 534.33L422.02 534.4L420.72 534.09L419.42 533.59L418.12 533.32L416.82 532.63L415.51 532.02L414.21 531.44L412.91 530.84L411.61 530.85L410.31 531.61L409.01 532.12L407.71 532.97L406.41 531.04L405.11 531.05L403.81 531L402.51 531.02L401.2 530.79L399.9 530.75L398.6 530.88L397.3 531.18L396 531.25L394.7 531.35Z" fill="#af8cd7" opacity="0.42"/>
<path d="M394.7 528.83L396 528.76L397.3 528.59L398.6 528.65L399.9 528.61L401.2 528.66L402.51 528.59L403.81 528.66L405.11 528.76L406.41 528.7L407.71 526.77L409.01 528.03L410.31 529.08L411.61 530.65L412.91 532.15L414.21 534.14L415.51 535.4L416.82 537.05L418.12 538.48L419.42 539.88L420.72 540.71L422.02 541.8L423.32 542.58L424.62 543.04L425.92 543.39L427.22 543.85L428.52 544.01L429.82 544.43L431.13 544.9L432.43 545.41L433.73 546.16L435.03 546.15L436.33 546.01L437.63 546.44L438.93 547.22L440.23 547.05L441.53 547.81L442.83 548.36L444.13 548.78L445.44 548.9L446.74 548.9L448.04 549.31L449.34 549.58L450.64 549.36L451.94 549.63L453.24 549.24L454.54 549.25L455.84 548.72L457.14 548.5L458.44 548.86L459.75 548.53L461.05 548.67L462.35 548.5L463.65 548.9L464.95 549.09L466.25 548.68L467.55 549.18L468.85 549.3L470.15 549.5L471.45 549.35L472.75 548.73L474.06 549L475.36 548.74L476.66 548.98L477.96 548.68L479.26 549.01L480.56 549.26L481.86 548.61L483.16 549.15L484.46 548.73L485.76 548.79L487.06 548.64L488.37 548.73L489.67 548.68L490.97 548.55L492.27 548.44L493.57 548.86L494.87 548.36L496.17 548.65L497.47 548.39L498.77 547.99L500.07 547.86L501.37 547.88L502.68 547.95L503.98 548.28L505.28 547.93L506.58 547.89L507.88 547.87L509.18 547.41L510.48 547.56L511.78 548.03L513.08 548.19L514.38 548.38L515.68 548.38L516.99 547.89L518.29 547.96L519.59 548.36L520.89 548.23L522.19 548.45L523.49 548.17L524.79 547.88L526.09 548.15L527.39 548.56L528.69 548.72L529.99 548.62L531.3 548.46L532.6 548.75L533.9 548.47L535.2 548.25L536.5 548.36L537.8 548.6L539.1 548.69L540.4 548.46L541.7 548.82L543 548.86L544.31 548.98L545.61 548.97L546.91 548.52L548.21 548.13L549.51 547.86L550.81 548.03L552.11 548.05L553.41 548.4L554.71 547.97L556.01 547.88L557.31 548.24L558.62 548.51L559.92 548.43L561.22 548.44L562.52 548.09L563.82 548.2L565.12 547.8L566.42 547.85L567.72 548.1L569.02 548L570.32 548.18L571.62 547.49L572.93 547.32L574.23 547.19L575.53 547.07L576.83 546.84L578.13 546.48L579.43 546.52L580.73 547.06L582.03 546.87L583.33 546.42L584.63 546.73L585.93 546.54L587.24 546.97L588.54 546.56L589.84 546.53L591.14 546.42L592.44 546.31L593.74 546.31L595.04 546.21L596.34 546.27L597.64 546.62L598.94 546.24L600.24 546.58L601.55 546.33L602.85 546.43L604.15 546.69L605.45 546.74L606.75 546.6L608.05 547.06L609.35 546.98L610.65 546.43L611.95 546.24L613.25 546.46L614.55 546.4L615.86 546.71L617.16 546.6L618.46 546.5L619.76 546.68L621.06 546.47L622.36 546.62L623.66 547.25L624.96 547.58L626.26 547.69L627.56 547.68L628.86 547.37L630.17 547.52L631.47 547.44L632.77 547.4L634.07 546.87L635.37 547.08L636.67 547.49L637.97 547.16L639.27 547.42L640.57 547.36L641.87 547.56L643.17 547.66L644.48 547.59L645.78 547.1L647.08 546.86L648.38 546.61L649.68 546.95L650.98 546.98L652.28 546.83L653.58 547.18L654.88 546.99L656.18 547.39L657.48 547.74L658.79 547.99L660.09 548.19L661.39 547.75L662.69 547.81L663.99 548.04L665.29 547.88L666.59 547.98L667.89 547.1L669.19 545.65L670.49 544.85L671.79 543.97L673.1 542.7L674.4 541.39L675.7 539.72L677 538.63L678.3 537.22L679.6 535.92L679.6 546.66L678.3 548.01L677 549.68L675.7 550.91L674.4 552.53L673.1 553.6L671.79 554.96L670.49 556.08L669.19 557.31L667.89 558.62L666.59 559.32L665.29 558.85L663.99 558.91L662.69 559.01L661.39 558.99L660.09 559.36L658.79 558.87L657.48 558.62L656.18 558.63L654.88 558.44L653.58 558.31L652.28 558.26L650.98 558.11L649.68 558.16L648.38 558L647.08 558.14L645.78 558.38L644.48 558.5L643.17 558.63L641.87 558.47L640.57 557.99L639.27 558.18L637.97 557.86L636.67 558.22L635.37 557.96L634.07 557.9L632.77 557.97L631.47 558.21L630.17 558.45L628.86 558.58L627.56 558.73L626.26 558.49L624.96 558.47L623.66 558.12L622.36 557.7L621.06 557.78L619.76 557.73L618.46 557.61L617.16 557.58L615.86 557.73L614.55 557.8L613.25 557.68L611.95 557.75L610.65 557.77L609.35 558.05L608.05 558.36L606.75 558.28L605.45 558.24L604.15 557.98L602.85 557.44L601.55 557.3L600.24 557.6L598.94 557.22L597.64 557.55L596.34 557.49L595.04 557.71L593.74 557.89L592.44 557.93L591.14 557.97L589.84 557.96L588.54 557.99L587.24 558.27L585.93 557.98L584.63 558.11L583.33 557.79L582.03 558.17L580.73 558.29L579.43 558.05L578.13 557.94L576.83 558.01L575.53 558.36L574.23 558.2L572.93 558.41L571.62 558.58L570.32 559.01L569.02 558.78L567.72 559.21L566.42 559.1L565.12 558.83L563.82 559.21L562.52 558.77L561.22 559.08L559.92 559.24L558.62 559.14L557.31 558.97L556.01 558.92L554.71 559.04L553.41 559.48L552.11 559.21L550.81 559.17L549.51 559.13L548.21 559.29L546.91 559.63L545.61 559.94L544.31 559.63L543 559.38L541.7 559.07L540.4 558.86L539.1 559.04L537.8 559.17L536.5 558.73L535.2 558.6L533.9 558.7L532.6 559.14L531.3 558.81L529.99 558.55L528.69 558.78L527.39 558.51L526.09 558.13L524.79 557.95L523.49 558.1L522.19 558.37L520.89 558.41L519.59 558.33L518.29 558L516.99 558.25L515.68 558.43L514.38 558.05L513.08 557.51L511.78 557.41L510.48 557.14L509.18 557.21L507.88 557.27L506.58 557.53L505.28 557.47L503.98 557.76L502.68 557.33L501.37 557.17L500.07 556.97L498.77 557.11L497.47 557.22L496.17 557.18L494.87 556.95L493.57 557.09L492.27 556.76L490.97 557.06L489.67 557.3L488.37 557.64L487.06 557.53L485.76 557.7L484.46 557.34L483.16 557.35L481.86 557.04L480.56 557.43L479.26 557.08L477.96 556.7L476.66 557.09L475.36 556.87L474.06 557.25L472.75 556.94L471.45 557.29L470.15 556.99L468.85 556.91L467.55 556.67L466.25 556.14L464.95 556.48L463.65 556.49L462.35 555.83L461.05 556.24L459.75 556.16L458.44 556.2L457.14 555.83L455.84 556.24L454.54 556.44L453.24 556.58L451.94 556.76L450.64 556.43L449.34 556.33L448.04 555.93L446.74 555.66L445.44 555.86L444.13 555.26L442.83 555.03L441.53 554.13L440.23 553.54L438.93 553.47L437.63 552.79L436.33 552.45L435.03 552.27L433.73 552.5L432.43 551.87L431.13 551.52L429.82 550.82L428.52 550.63L427.22 550.79L425.92 550.12L424.62 549.57L423.32 548.93L422.02 548.23L420.72 546.92L419.42 545.79L418.12 544.62L416.82 543.17L415.51 541.2L414.21 539.58L412.91 537.53L411.61 535.84L410.31 534.16L409.01 533.05L407.71 532.02L406.41 530.93L405.11 531.06L403.81 531.17L402.51 531.31L401.2 531.37L399.9 531.33L398.6 531.3L397.3 531.25L396 531.35L394.7 531.39Z" fill="#f0c85a" opacity="0.47"/>
<path d="M394.7 530.04L396 529.97L397.3 530.06L398.6 529.87L399.9 529.76L401.2 529.63L402.51 529.7L403.81 529.77L405.11 529.85L406.41 529.86L407.71 530.46L409.01 529.64L410.31 529.19L411.61 528.4L412.91 528.53L414.21 529.06L415.51 529.71L416.82 530.13L418.12 530.8L419.42 530.88L420.72 531.4L422.02 531.78L423.32 531.5L424.62 531.73L425.92 531.52L427.22 531.39L428.52 531.62L429.82 532.19L431.13 532.77L432.43 533.17L433.73 533.1L435.03 533.25L436.33 533.59L437.63 534.12L438.93 534.28L440.23 534.41L441.53 534.82L442.83 535.01L444.13 535.17L445.44 535.22L446.74 535.22L448.04 535.09L449.34 534.77L450.64 535.02L451.94 535.38L453.24 535.49L454.54 535.66L455.84 535.49L457.14 535.46L458.44 535.59L459.75 535.88L461.05 535.56L462.35 535.44L463.65 535.37L464.95 535.26L466.25 535.06L467.55 535.61L468.85 535.91L470.15 535.91L471.45 535.73L472.75 535.77L474.06 535.82L475.36 536.03L476.66 536.25L477.96 535.9L479.26 535.56L480.56 535.73L481.86 535.89L483.16 536.31L484.46 536.24L485.76 536.53L487.06 536.41L488.37 536.63L489.67 536.64L490.97 536.33L492.27 536.57L493.57 536.58L494.87 536.79L496.17 536.81L497.47 536.52L498.77 536.63L500.07 536.32L501.37 536.58L502.68 536.74L503.98 536.72L505.28 536.83L506.58 536.79L507.88 537.09L509.18 537.56L510.48 537.59L511.78 537.92L513.08 538.02L514.38 537.82L515.68 537.6L516.99 537.27L518.29 537.22L519.59 537.31L520.89 537.56L522.19 537.65L523.49 537.89L524.79 538.23L526.09 538.12L527.39 537.95L528.69 538.11L529.99 537.87L531.3 537.88L532.6 538.07L533.9 537.77L535.2 538.25L536.5 538.4L537.8 538.48L539.1 538.25L540.4 538.44L541.7 537.97L543 538.37L544.31 538.38L545.61 538.38L546.91 538.15L548.21 538.4L549.51 538.67L550.81 538.36L552.11 538.06L553.41 538L554.71 537.68L556.01 537.85L557.31 537.93L558.62 537.94L559.92 538.25L561.22 537.88L562.52 538.25L563.82 538.5L565.12 537.97L566.42 537.96L567.72 538.2L569.02 537.74L570.32 537.98L571.62 537.93L572.93 538.25L574.23 538.38L575.53 538.18L576.83 537.83L578.13 538.04L579.43 537.65L580.73 537.44L582.03 537.26L583.33 536.86L584.63 536.96L585.93 537.43L587.24 537.72L588.54 537.25L589.84 537.52L591.14 537.58L592.44 537.29L593.74 536.99L595.04 536.74L596.34 536.71L597.64 536.87L598.94 536.5L600.24 536.95L601.55 537.08L602.85 536.6L604.15 536.93L605.45 536.64L606.75 536.62L608.05 536.6L609.35 536.58L610.65 536.73L611.95 536.52L613.25 537.03L614.55 537.22L615.86 536.96L617.16 536.81L618.46 536.77L619.76 536.72L621.06 537.02L622.36 536.99L623.66 537L624.96 536.8L626.26 537.16L627.56 537.39L628.86 537.5L630.17 537.68L631.47 537.37L632.77 537.34L634.07 537.67L635.37 537.22L636.67 537.19L637.97 536.91L639.27 536.77L640.57 536.95L641.87 537.15L643.17 537.11L644.48 536.74L645.78 536.58L647.08 536.33L648.38 536.46L649.68 536.58L650.98 536.88L652.28 536.89L653.58 536.89L654.88 536.76L656.18 536.62L657.48 536.48L658.79 536.93L660.09 536.95L661.39 537.47L662.69 537.69L663.99 537.59L665.29 538.04L666.59 537.66L667.89 537.37L669.19 537.34L670.49 537.09L671.79 536.56L673.1 536.66L674.4 535.98L675.7 535.62L677 535.39L678.3 535.45L679.6 535.05" stroke="#6a4b9b" stroke-width="0.9" fill="none" opacity="1" stroke-linejoin="round"/>
<path d="M394.7 530.11L396 530.06L397.3 529.92L398.6 529.98L399.9 529.97L401.2 530.01L402.51 529.95L403.81 529.91L405.11 529.91L406.41 529.81L407.71 529.4L409.01 530.54L410.31 531.62L411.61 533.25L412.91 534.84L414.21 536.86L415.51 538.3L416.82 540.11L418.12 541.55L419.42 542.83L420.72 543.81L422.02 545.02L423.32 545.75L424.62 546.3L425.92 546.76L427.22 547.32L428.52 547.32L429.82 547.63L431.13 548.21L432.43 548.64L433.73 549.33L435.03 549.21L436.33 549.23L437.63 549.61L438.93 550.34L440.23 550.3L441.53 550.97L442.83 551.7L444.13 552.02L445.44 552.38L446.74 552.28L448.04 552.62L449.34 552.96L450.64 552.9L451.94 553.2L453.24 552.91L454.54 552.85L455.84 552.48L457.14 552.17L458.44 552.53L459.75 552.34L461.05 552.46L462.35 552.17L463.65 552.69L464.95 552.78L466.25 552.41L467.55 552.92L468.85 553.11L470.15 553.25L471.45 553.32L472.75 552.83L474.06 553.12L475.36 552.8L476.66 553.03L477.96 552.69L479.26 553.04L480.56 553.35L481.86 552.82L483.16 553.25L484.46 553.04L485.76 553.25L487.06 553.08L488.37 553.18L489.67 552.99L490.97 552.8L492.27 552.6L493.57 552.97L494.87 552.66L496.17 552.91L497.47 552.8L498.77 552.55L500.07 552.41L501.37 552.52L502.68 552.64L503.98 553.02L505.28 552.7L506.58 552.71L507.88 552.57L509.18 552.31L510.48 552.35L511.78 552.72L513.08 552.85L514.38 553.22L515.68 553.41L516.99 553.07L518.29 552.98L519.59 553.34L520.89 553.32L522.19 553.41L523.49 553.14L524.79 552.91L526.09 553.14L527.39 553.54L528.69 553.75L529.99 553.59L531.3 553.63L532.6 553.95L533.9 553.59L535.2 553.42L536.5 553.54L537.8 553.89L539.1 553.87L540.4 553.66L541.7 553.94L543 554.12L544.31 554.31L545.61 554.46L546.91 554.08L548.21 553.71L549.51 553.5L550.81 553.6L552.11 553.63L553.41 553.94L554.71 553.5L556.01 553.4L557.31 553.61L558.62 553.82L559.92 553.84L561.22 553.76L562.52 553.43L563.82 553.7L565.12 553.31L566.42 553.47L567.72 553.66L569.02 553.39L570.32 553.59L571.62 553.03L572.93 552.87L574.23 552.69L575.53 552.71L576.83 552.42L578.13 552.21L579.43 552.29L580.73 552.68L582.03 552.52L583.33 552.11L584.63 552.42L585.93 552.26L587.24 552.62L588.54 552.27L589.84 552.25L591.14 552.19L592.44 552.12L593.74 552.1L595.04 551.96L596.34 551.88L597.64 552.08L598.94 551.73L600.24 552.09L601.55 551.82L602.85 551.94L604.15 552.33L605.45 552.49L606.75 552.44L608.05 552.71L609.35 552.51L610.65 552.1L611.95 552L613.25 552.07L614.55 552.1L615.86 552.22L617.16 552.09L618.46 552.06L619.76 552.21L621.06 552.13L622.36 552.16L623.66 552.68L624.96 553.03L626.26 553.09L627.56 553.21L628.86 552.97L630.17 552.99L631.47 552.83L632.77 552.69L634.07 552.39L635.37 552.52L636.67 552.85L637.97 552.51L639.27 552.8L640.57 552.67L641.87 553.02L643.17 553.14L644.48 553.04L645.78 552.74L647.08 552.5L648.38 552.31L649.68 552.55L650.98 552.55L652.28 552.54L653.58 552.75L654.88 552.72L656.18 553.01L657.48 553.18L658.79 553.43L660.09 553.77L661.39 553.37L662.69 553.41L663.99 553.47L665.29 553.36L666.59 553.65L667.89 552.86L669.19 551.48L670.49 550.46L671.79 549.47L673.1 548.15L674.4 546.96L675.7 545.32L677 544.16L678.3 542.61L679.6 541.29" stroke="#b08a1c" stroke-width="0.9" fill="none" opacity="1" stroke-linejoin="round"/>
<path d="M394.7 513.1V563.8H679.6" stroke="#8a8a8a" stroke-width="0.8" fill="none"/><path d="M394.7 563.8V561.8" stroke="#6a6a6a" stroke-width="0.6"/><path d="M420.6 563.8V561.8" stroke="#6a6a6a" stroke-width="0.6"/><path d="M446.5 563.8V561.8" stroke="#6a6a6a" stroke-width="0.6"/><path d="M472.4 563.8V561.8" stroke="#6a6a6a" stroke-width="0.6"/><path d="M498.3 563.8V561.8" stroke="#6a6a6a" stroke-width="0.6"/><path d="M524.2 563.8V561.8" stroke="#6a6a6a" stroke-width="0.6"/><path d="M550.1 563.8V561.8" stroke="#6a6a6a" stroke-width="0.6"/><path d="M576 563.8V561.8" stroke="#6a6a6a" stroke-width="0.6"/><path d="M601.9 563.8V561.8" stroke="#6a6a6a" stroke-width="0.6"/><path d="M627.8 563.8V561.8" stroke="#6a6a6a" stroke-width="0.6"/><path d="M653.7 563.8V561.8" stroke="#6a6a6a" stroke-width="0.6"/><path d="M679.6 563.8V561.8" stroke="#6a6a6a" stroke-width="0.6"/><path d="M394.7 513.1H396.7" stroke="#6a6a6a" stroke-width="0.6"/><path d="M394.7 530H396.7" stroke="#6a6a6a" stroke-width="0.6"/><path d="M394.7 546.9H396.7" stroke="#6a6a6a" stroke-width="0.6"/><path d="M394.7 563.8H396.7" stroke="#6a6a6a" stroke-width="0.6"/><text x="390.8" y="517.3" font-size="8.8" text-anchor="end" fill="#1a1a1a">0.1</text><text x="390.8" y="534.2" font-size="8.8" text-anchor="end" fill="#1a1a1a">0</text><text x="390.8" y="551.1" font-size="8.8" text-anchor="end" fill="#1a1a1a">−0.1</text><text x="390.8" y="568" font-size="8.8" text-anchor="end" fill="#1a1a1a">−0.2</text>
<rect x="501.7" y="515.4" width="70.8" height="16.5" fill="#fff" stroke="#c4c4c4" stroke-width="0.8"/>
<path d="M503.1 523.65H511.9" stroke="#c6b0dc" stroke-width="1"/>
<path d="M538.2 523.65H546.9" stroke="#e9d39c" stroke-width="1"/>
<text x="514.6" y="526.75" font-size="8.8" fill="#1a1a1a">Δ<tspan font-style="italic" dx="1.2">T</tspan><tspan font-size="6.8" dy="2.2">21</tspan></text>
<text x="549.7" y="526.75" font-size="8.8" fill="#1a1a1a">Δ<tspan font-style="italic" dx="1.2">T</tspan><tspan font-size="6.8" dy="2.2">43</tspan></text>
<text x="410" y="559.2" font-size="9.3" fill="#1a1a1a">3.5 A</text>
<text x="394.7" y="575.8" font-size="8.8" text-anchor="middle" fill="#1a1a1a">0</text>
<text x="420.6" y="575.8" font-size="8.8" text-anchor="middle" fill="#1a1a1a">2</text>
<text x="446.5" y="575.8" font-size="8.8" text-anchor="middle" fill="#1a1a1a">4</text>
<text x="472.4" y="575.8" font-size="8.8" text-anchor="middle" fill="#1a1a1a">6</text>
<text x="498.3" y="575.8" font-size="8.8" text-anchor="middle" fill="#1a1a1a">8</text>
<text x="524.2" y="575.8" font-size="8.8" text-anchor="middle" fill="#1a1a1a">10</text>
<text x="550.1" y="575.8" font-size="8.8" text-anchor="middle" fill="#1a1a1a">12</text>
<text x="576" y="575.8" font-size="8.8" text-anchor="middle" fill="#1a1a1a">14</text>
<text x="601.9" y="575.8" font-size="8.8" text-anchor="middle" fill="#1a1a1a">16</text>
<text x="627.8" y="575.8" font-size="8.8" text-anchor="middle" fill="#1a1a1a">18</text>
<text x="653.7" y="575.8" font-size="8.8" text-anchor="middle" fill="#1a1a1a">20</text>
<text x="679.6" y="575.8" font-size="8.8" text-anchor="middle" fill="#1a1a1a">22</text>
<text x="501.4" y="588.6" font-size="8.6" fill="#1a1a1a">Time, <tspan font-style="italic">t</tspan> (min)</text>
<text transform="translate(366 462.6) rotate(-90)" font-size="9.1" text-anchor="middle" fill="#1a1a1a">Δ<tspan font-style="italic">T</tspan><tspan font-size="5.8" font-style="italic" dy="2">ij</tspan><tspan dy="-2">(</tspan><tspan font-style="italic">t</tspan>) − Δ<tspan font-style="italic">T</tspan><tspan font-size="5.8" font-style="italic" dy="2">ij</tspan><tspan dy="-2">(</tspan><tspan font-style="italic">t</tspan> = 0) (K)</text>
</svg>
</body></html>
